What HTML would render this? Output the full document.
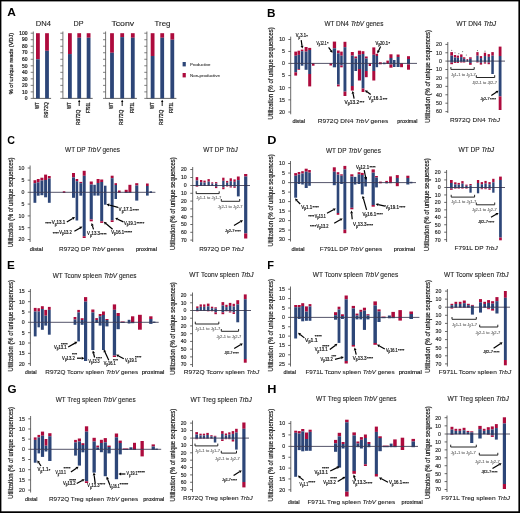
<!DOCTYPE html>
<html><head><meta charset="utf-8"><style>
html,body{margin:0;padding:0;background:#fff;}
svg{display:block;will-change:transform;}
text{font-family:"Liberation Sans", sans-serif;}
</style></head><body>
<svg width="520" height="513" viewBox="0 0 520 513">
<rect x="0" y="0" width="520" height="513" fill="#fff"/>
<rect x="0.00" y="0.00" width="520.00" height="1.40" fill="#000"/>
<rect x="0.00" y="0.00" width="1.40" height="513.00" fill="#000"/>
<rect x="518.40" y="0.00" width="1.60" height="513.00" fill="#000"/>
<rect x="0.00" y="511.30" width="520.00" height="1.70" fill="#000"/>
<text x="0" y="0" font-size="10.2" font-weight="bold" fill="#000" transform="translate(7.3 15.9) scale(1.17 1)">A</text>
<text x="0" y="0" font-size="10.2" font-weight="bold" fill="#000" transform="translate(267.0 16.9) scale(1.15 1)">B</text>
<text x="0" y="0" font-size="10.2" font-weight="bold" fill="#000" transform="translate(7.3 143.7) scale(1.05 1)">C</text>
<text x="0" y="0" font-size="10.2" font-weight="bold" fill="#000" transform="translate(267.2 143.9) scale(1.25 1)">D</text>
<text x="0" y="0" font-size="10.2" font-weight="bold" fill="#000" transform="translate(7.1 268.9) scale(1.15 1)">E</text>
<text x="0" y="0" font-size="10.2" font-weight="bold" fill="#000" transform="translate(267.2 268.9) scale(1.08 1)">F</text>
<text x="0" y="0" font-size="10.2" font-weight="bold" fill="#000" transform="translate(7.6 392.5) scale(1.14 1)">G</text>
<text x="0" y="0" font-size="10.2" font-weight="bold" fill="#000" transform="translate(267.2 392.5) scale(1.25 1)">H</text>
<line x1="33.30" y1="31.50" x2="33.30" y2="98.70" stroke="#666" stroke-width="0.9"/>
<line x1="33.30" y1="98.40" x2="51.10" y2="98.40" stroke="#555" stroke-width="0.9"/>
<line x1="30.70" y1="98.40" x2="33.30" y2="98.40" stroke="#555" stroke-width="0.75"/>
<text x="27.50" y="100.10" font-size="4.9" text-anchor="end" font-weight="normal" fill="#1e1e1e" stroke="#1e1e1e" stroke-width="0.22">0</text>
<line x1="30.70" y1="91.88" x2="33.30" y2="91.88" stroke="#555" stroke-width="0.75"/>
<text x="27.50" y="93.58" font-size="4.9" text-anchor="end" font-weight="normal" fill="#1e1e1e" stroke="#1e1e1e" stroke-width="0.22">10</text>
<line x1="30.70" y1="85.36" x2="33.30" y2="85.36" stroke="#555" stroke-width="0.75"/>
<text x="27.50" y="87.06" font-size="4.9" text-anchor="end" font-weight="normal" fill="#1e1e1e" stroke="#1e1e1e" stroke-width="0.22">20</text>
<line x1="30.70" y1="78.84" x2="33.30" y2="78.84" stroke="#555" stroke-width="0.75"/>
<text x="27.50" y="80.54" font-size="4.9" text-anchor="end" font-weight="normal" fill="#1e1e1e" stroke="#1e1e1e" stroke-width="0.22">30</text>
<line x1="30.70" y1="72.32" x2="33.30" y2="72.32" stroke="#555" stroke-width="0.75"/>
<text x="27.50" y="74.02" font-size="4.9" text-anchor="end" font-weight="normal" fill="#1e1e1e" stroke="#1e1e1e" stroke-width="0.22">40</text>
<line x1="30.70" y1="65.80" x2="33.30" y2="65.80" stroke="#555" stroke-width="0.75"/>
<text x="27.50" y="67.50" font-size="4.9" text-anchor="end" font-weight="normal" fill="#1e1e1e" stroke="#1e1e1e" stroke-width="0.22">50</text>
<line x1="30.70" y1="59.28" x2="33.30" y2="59.28" stroke="#555" stroke-width="0.75"/>
<text x="27.50" y="60.98" font-size="4.9" text-anchor="end" font-weight="normal" fill="#1e1e1e" stroke="#1e1e1e" stroke-width="0.22">60</text>
<line x1="30.70" y1="52.76" x2="33.30" y2="52.76" stroke="#555" stroke-width="0.75"/>
<text x="27.50" y="54.46" font-size="4.9" text-anchor="end" font-weight="normal" fill="#1e1e1e" stroke="#1e1e1e" stroke-width="0.22">70</text>
<line x1="30.70" y1="46.24" x2="33.30" y2="46.24" stroke="#555" stroke-width="0.75"/>
<text x="27.50" y="47.94" font-size="4.9" text-anchor="end" font-weight="normal" fill="#1e1e1e" stroke="#1e1e1e" stroke-width="0.22">80</text>
<line x1="30.70" y1="39.72" x2="33.30" y2="39.72" stroke="#555" stroke-width="0.75"/>
<text x="27.50" y="41.42" font-size="4.9" text-anchor="end" font-weight="normal" fill="#1e1e1e" stroke="#1e1e1e" stroke-width="0.22">90</text>
<line x1="30.70" y1="33.20" x2="33.30" y2="33.20" stroke="#555" stroke-width="0.75"/>
<text x="27.50" y="34.90" font-size="4.9" text-anchor="end" font-weight="normal" fill="#1e1e1e" stroke="#1e1e1e" stroke-width="0.22">100</text>
<rect x="36.00" y="33.20" width="3.80" height="26.08" fill="#ad0b3d"/>
<rect x="36.00" y="59.28" width="3.80" height="39.12" fill="#2d4678"/>
<rect x="45.10" y="33.20" width="3.80" height="17.60" fill="#ad0b3d"/>
<rect x="45.10" y="50.80" width="3.80" height="47.60" fill="#2d4678"/>
<text x="35.70" y="26.10" font-size="6.4" text-anchor="start" font-weight="normal" fill="#1e1e1e" stroke="#1e1e1e" stroke-width="0.1" textLength="15.20" lengthAdjust="spacingAndGlyphs">DN4</text>
<text x="38.90" y="102.30" font-size="4.6" text-anchor="end" font-weight="normal" fill="#1e1e1e" stroke="#1e1e1e" stroke-width="0.22" transform="rotate(-90 38.90 102.30)" textLength="6.70" lengthAdjust="spacingAndGlyphs">WT</text>
<text x="48.00" y="102.30" font-size="4.6" text-anchor="end" font-weight="normal" fill="#1e1e1e" stroke="#1e1e1e" stroke-width="0.22" transform="rotate(-90 48.00 102.30)" textLength="15.50" lengthAdjust="spacingAndGlyphs">R972Q</text>
<line x1="62.90" y1="31.50" x2="62.90" y2="98.70" stroke="#666" stroke-width="0.9"/>
<line x1="62.90" y1="98.40" x2="92.70" y2="98.40" stroke="#555" stroke-width="0.9"/>
<line x1="60.30" y1="98.40" x2="62.90" y2="98.40" stroke="#555" stroke-width="0.75"/>
<line x1="60.30" y1="91.88" x2="62.90" y2="91.88" stroke="#555" stroke-width="0.75"/>
<line x1="60.30" y1="85.36" x2="62.90" y2="85.36" stroke="#555" stroke-width="0.75"/>
<line x1="60.30" y1="78.84" x2="62.90" y2="78.84" stroke="#555" stroke-width="0.75"/>
<line x1="60.30" y1="72.32" x2="62.90" y2="72.32" stroke="#555" stroke-width="0.75"/>
<line x1="60.30" y1="65.80" x2="62.90" y2="65.80" stroke="#555" stroke-width="0.75"/>
<line x1="60.30" y1="59.28" x2="62.90" y2="59.28" stroke="#555" stroke-width="0.75"/>
<line x1="60.30" y1="52.76" x2="62.90" y2="52.76" stroke="#555" stroke-width="0.75"/>
<line x1="60.30" y1="46.24" x2="62.90" y2="46.24" stroke="#555" stroke-width="0.75"/>
<line x1="60.30" y1="39.72" x2="62.90" y2="39.72" stroke="#555" stroke-width="0.75"/>
<line x1="60.30" y1="33.20" x2="62.90" y2="33.20" stroke="#555" stroke-width="0.75"/>
<rect x="68.00" y="33.20" width="3.80" height="20.86" fill="#ad0b3d"/>
<rect x="68.00" y="54.06" width="3.80" height="44.34" fill="#2d4678"/>
<rect x="77.30" y="33.20" width="3.80" height="4.56" fill="#ad0b3d"/>
<rect x="77.30" y="37.76" width="3.80" height="60.64" fill="#2d4678"/>
<rect x="86.70" y="33.20" width="3.80" height="4.56" fill="#ad0b3d"/>
<rect x="86.70" y="37.76" width="3.80" height="60.64" fill="#2d4678"/>
<text x="73.50" y="26.10" font-size="6.4" text-anchor="start" font-weight="normal" fill="#1e1e1e" stroke="#1e1e1e" stroke-width="0.1" textLength="10.00" lengthAdjust="spacingAndGlyphs">DP</text>
<text x="70.90" y="102.30" font-size="4.6" text-anchor="end" font-weight="normal" fill="#1e1e1e" stroke="#1e1e1e" stroke-width="0.22" transform="rotate(-90 70.90 102.30)" textLength="6.70" lengthAdjust="spacingAndGlyphs">WT</text>
<text x="80.20" y="109.60" font-size="4.6" text-anchor="end" font-weight="normal" fill="#1e1e1e" stroke="#1e1e1e" stroke-width="0.22" transform="rotate(-90 80.20 109.60)" textLength="15.50" lengthAdjust="spacingAndGlyphs">R972Q</text>
<text x="89.60" y="102.30" font-size="4.6" text-anchor="end" font-weight="normal" fill="#1e1e1e" stroke="#1e1e1e" stroke-width="0.22" transform="rotate(-90 89.60 102.30)" textLength="10.80" lengthAdjust="spacingAndGlyphs">F791L</text>
<line x1="79.20" y1="106.00" x2="79.20" y2="101.91" stroke="#000" stroke-width="0.9"/>
<path d="M79.20 99.70 L80.39 101.91 L78.01 101.91 Z" fill="#000"/>
<line x1="105.60" y1="31.50" x2="105.60" y2="98.70" stroke="#666" stroke-width="0.9"/>
<line x1="105.60" y1="98.40" x2="136.90" y2="98.40" stroke="#555" stroke-width="0.9"/>
<line x1="103.00" y1="98.40" x2="105.60" y2="98.40" stroke="#555" stroke-width="0.75"/>
<line x1="103.00" y1="91.88" x2="105.60" y2="91.88" stroke="#555" stroke-width="0.75"/>
<line x1="103.00" y1="85.36" x2="105.60" y2="85.36" stroke="#555" stroke-width="0.75"/>
<line x1="103.00" y1="78.84" x2="105.60" y2="78.84" stroke="#555" stroke-width="0.75"/>
<line x1="103.00" y1="72.32" x2="105.60" y2="72.32" stroke="#555" stroke-width="0.75"/>
<line x1="103.00" y1="65.80" x2="105.60" y2="65.80" stroke="#555" stroke-width="0.75"/>
<line x1="103.00" y1="59.28" x2="105.60" y2="59.28" stroke="#555" stroke-width="0.75"/>
<line x1="103.00" y1="52.76" x2="105.60" y2="52.76" stroke="#555" stroke-width="0.75"/>
<line x1="103.00" y1="46.24" x2="105.60" y2="46.24" stroke="#555" stroke-width="0.75"/>
<line x1="103.00" y1="39.72" x2="105.60" y2="39.72" stroke="#555" stroke-width="0.75"/>
<line x1="103.00" y1="33.20" x2="105.60" y2="33.20" stroke="#555" stroke-width="0.75"/>
<rect x="110.10" y="33.20" width="3.80" height="19.56" fill="#ad0b3d"/>
<rect x="110.10" y="52.76" width="3.80" height="45.64" fill="#2d4678"/>
<rect x="120.30" y="33.20" width="3.80" height="3.91" fill="#ad0b3d"/>
<rect x="120.30" y="37.11" width="3.80" height="61.29" fill="#2d4678"/>
<rect x="130.90" y="33.20" width="3.80" height="4.56" fill="#ad0b3d"/>
<rect x="130.90" y="37.76" width="3.80" height="60.64" fill="#2d4678"/>
<text x="111.40" y="26.10" font-size="6.4" text-anchor="start" font-weight="normal" fill="#1e1e1e" stroke="#1e1e1e" stroke-width="0.1" textLength="22.80" lengthAdjust="spacingAndGlyphs">Tconv</text>
<text x="113.00" y="102.30" font-size="4.6" text-anchor="end" font-weight="normal" fill="#1e1e1e" stroke="#1e1e1e" stroke-width="0.22" transform="rotate(-90 113.00 102.30)" textLength="6.70" lengthAdjust="spacingAndGlyphs">WT</text>
<text x="123.20" y="109.60" font-size="4.6" text-anchor="end" font-weight="normal" fill="#1e1e1e" stroke="#1e1e1e" stroke-width="0.22" transform="rotate(-90 123.20 109.60)" textLength="15.50" lengthAdjust="spacingAndGlyphs">R972Q</text>
<text x="133.80" y="102.30" font-size="4.6" text-anchor="end" font-weight="normal" fill="#1e1e1e" stroke="#1e1e1e" stroke-width="0.22" transform="rotate(-90 133.80 102.30)" textLength="10.80" lengthAdjust="spacingAndGlyphs">F971L</text>
<line x1="122.20" y1="106.00" x2="122.20" y2="101.91" stroke="#000" stroke-width="0.9"/>
<path d="M122.20 99.70 L123.39 101.91 L121.01 101.91 Z" fill="#000"/>
<line x1="146.90" y1="31.50" x2="146.90" y2="98.70" stroke="#666" stroke-width="0.9"/>
<line x1="146.90" y1="98.40" x2="176.40" y2="98.40" stroke="#555" stroke-width="0.9"/>
<line x1="144.30" y1="98.40" x2="146.90" y2="98.40" stroke="#555" stroke-width="0.75"/>
<line x1="144.30" y1="91.88" x2="146.90" y2="91.88" stroke="#555" stroke-width="0.75"/>
<line x1="144.30" y1="85.36" x2="146.90" y2="85.36" stroke="#555" stroke-width="0.75"/>
<line x1="144.30" y1="78.84" x2="146.90" y2="78.84" stroke="#555" stroke-width="0.75"/>
<line x1="144.30" y1="72.32" x2="146.90" y2="72.32" stroke="#555" stroke-width="0.75"/>
<line x1="144.30" y1="65.80" x2="146.90" y2="65.80" stroke="#555" stroke-width="0.75"/>
<line x1="144.30" y1="59.28" x2="146.90" y2="59.28" stroke="#555" stroke-width="0.75"/>
<line x1="144.30" y1="52.76" x2="146.90" y2="52.76" stroke="#555" stroke-width="0.75"/>
<line x1="144.30" y1="46.24" x2="146.90" y2="46.24" stroke="#555" stroke-width="0.75"/>
<line x1="144.30" y1="39.72" x2="146.90" y2="39.72" stroke="#555" stroke-width="0.75"/>
<line x1="144.30" y1="33.20" x2="146.90" y2="33.20" stroke="#555" stroke-width="0.75"/>
<rect x="150.70" y="33.20" width="3.80" height="22.82" fill="#ad0b3d"/>
<rect x="150.70" y="56.02" width="3.80" height="42.38" fill="#2d4678"/>
<rect x="160.30" y="33.20" width="3.80" height="4.56" fill="#ad0b3d"/>
<rect x="160.30" y="37.76" width="3.80" height="60.64" fill="#2d4678"/>
<rect x="170.40" y="33.20" width="3.80" height="6.52" fill="#ad0b3d"/>
<rect x="170.40" y="39.72" width="3.80" height="58.68" fill="#2d4678"/>
<text x="154.50" y="26.10" font-size="6.4" text-anchor="start" font-weight="normal" fill="#1e1e1e" stroke="#1e1e1e" stroke-width="0.1" textLength="15.90" lengthAdjust="spacingAndGlyphs">Treg</text>
<text x="153.60" y="102.30" font-size="4.6" text-anchor="end" font-weight="normal" fill="#1e1e1e" stroke="#1e1e1e" stroke-width="0.22" transform="rotate(-90 153.60 102.30)" textLength="6.70" lengthAdjust="spacingAndGlyphs">WT</text>
<text x="163.20" y="109.60" font-size="4.6" text-anchor="end" font-weight="normal" fill="#1e1e1e" stroke="#1e1e1e" stroke-width="0.22" transform="rotate(-90 163.20 109.60)" textLength="15.50" lengthAdjust="spacingAndGlyphs">R972Q</text>
<text x="173.30" y="102.30" font-size="4.6" text-anchor="end" font-weight="normal" fill="#1e1e1e" stroke="#1e1e1e" stroke-width="0.22" transform="rotate(-90 173.30 102.30)" textLength="10.80" lengthAdjust="spacingAndGlyphs">F971L</text>
<line x1="162.20" y1="106.00" x2="162.20" y2="101.91" stroke="#000" stroke-width="0.9"/>
<path d="M162.20 99.70 L163.39 101.91 L161.01 101.91 Z" fill="#000"/>
<text x="13.00" y="63.50" font-size="5.4" text-anchor="middle" font-weight="normal" fill="#1e1e1e" stroke="#1e1e1e" stroke-width="0.22" transform="rotate(-90 13.00 63.50)" textLength="61.50" lengthAdjust="spacingAndGlyphs">% of unique reads (VDJ)</text>
<rect x="182.60" y="62.00" width="3.20" height="4.40" fill="#2d4678"/>
<text x="190.00" y="65.80" font-size="4.4" text-anchor="start" font-weight="normal" fill="#333" stroke="#333" stroke-width="0.22" textLength="20.50" lengthAdjust="spacingAndGlyphs" stroke-opacity="0.4">Productive</text>
<rect x="182.60" y="73.00" width="3.20" height="4.40" fill="#ad0b3d"/>
<text x="190.00" y="76.80" font-size="4.4" text-anchor="start" font-weight="normal" fill="#333" stroke="#333" stroke-width="0.22" textLength="30.00" lengthAdjust="spacingAndGlyphs" stroke-opacity="0.4">Non-productive</text>
<rect x="294.30" y="51.60" width="2.80" height="4.10" fill="#ad0b3d"/>
<rect x="294.30" y="55.70" width="2.80" height="7.70" fill="#2d4678"/>
<rect x="294.30" y="63.40" width="2.80" height="8.90" fill="#2d4678"/>
<rect x="294.30" y="72.30" width="2.80" height="3.30" fill="#ad0b3d"/>
<rect x="297.50" y="50.70" width="2.60" height="4.20" fill="#ad0b3d"/>
<rect x="297.50" y="54.90" width="2.60" height="8.50" fill="#2d4678"/>
<rect x="297.50" y="63.40" width="2.60" height="5.60" fill="#2d4678"/>
<rect x="297.50" y="69.00" width="2.60" height="0.80" fill="#ad0b3d"/>
<rect x="300.80" y="49.60" width="2.60" height="1.60" fill="#ad0b3d"/>
<rect x="300.80" y="51.20" width="2.60" height="12.20" fill="#2d4678"/>
<rect x="300.80" y="63.40" width="2.60" height="2.30" fill="#2d4678"/>
<rect x="304.60" y="47.00" width="3.00" height="4.60" fill="#ad0b3d"/>
<rect x="304.60" y="51.60" width="3.00" height="11.80" fill="#2d4678"/>
<rect x="304.60" y="63.40" width="3.00" height="6.40" fill="#2d4678"/>
<rect x="308.20" y="47.90" width="3.00" height="2.10" fill="#ad0b3d"/>
<rect x="308.20" y="50.00" width="3.00" height="13.40" fill="#2d4678"/>
<rect x="308.20" y="63.40" width="3.00" height="10.60" fill="#2d4678"/>
<rect x="308.20" y="74.00" width="3.00" height="12.40" fill="#ad0b3d"/>
<rect x="312.00" y="63.40" width="2.50" height="2.30" fill="#ad0b3d"/>
<rect x="329.50" y="63.40" width="2.50" height="2.10" fill="#ad0b3d"/>
<rect x="332.80" y="41.60" width="3.30" height="6.70" fill="#ad0b3d"/>
<rect x="332.80" y="48.30" width="3.30" height="15.10" fill="#2d4678"/>
<rect x="332.80" y="63.40" width="3.30" height="3.90" fill="#2d4678"/>
<rect x="337.00" y="50.50" width="2.70" height="2.80" fill="#ad0b3d"/>
<rect x="337.00" y="53.30" width="2.70" height="10.10" fill="#2d4678"/>
<rect x="337.00" y="63.40" width="2.70" height="21.20" fill="#2d4678"/>
<rect x="337.00" y="84.60" width="2.70" height="1.80" fill="#ad0b3d"/>
<rect x="340.20" y="51.60" width="2.50" height="4.10" fill="#ad0b3d"/>
<rect x="340.20" y="55.70" width="2.50" height="7.70" fill="#2d4678"/>
<rect x="340.20" y="63.40" width="2.50" height="2.10" fill="#2d4678"/>
<rect x="340.20" y="65.50" width="2.50" height="1.80" fill="#ad0b3d"/>
<rect x="343.50" y="41.80" width="2.90" height="5.40" fill="#ad0b3d"/>
<rect x="343.50" y="47.20" width="2.90" height="16.20" fill="#2d4678"/>
<rect x="343.50" y="63.40" width="2.90" height="28.20" fill="#2d4678"/>
<rect x="343.50" y="91.60" width="2.90" height="4.40" fill="#ad0b3d"/>
<rect x="350.80" y="52.00" width="3.00" height="3.60" fill="#ad0b3d"/>
<rect x="350.80" y="55.60" width="3.00" height="7.80" fill="#2d4678"/>
<rect x="350.80" y="63.40" width="3.00" height="22.60" fill="#2d4678"/>
<rect x="350.80" y="86.00" width="3.00" height="4.60" fill="#ad0b3d"/>
<rect x="354.40" y="56.50" width="2.70" height="1.90" fill="#ad0b3d"/>
<rect x="354.40" y="58.40" width="2.70" height="5.00" fill="#2d4678"/>
<rect x="354.40" y="63.40" width="2.70" height="7.60" fill="#2d4678"/>
<rect x="357.90" y="50.70" width="3.10" height="4.10" fill="#ad0b3d"/>
<rect x="357.90" y="54.80" width="3.10" height="8.60" fill="#2d4678"/>
<rect x="357.90" y="63.40" width="3.10" height="5.60" fill="#2d4678"/>
<rect x="357.90" y="69.00" width="3.10" height="11.50" fill="#ad0b3d"/>
<rect x="361.60" y="51.20" width="2.80" height="2.80" fill="#ad0b3d"/>
<rect x="361.60" y="54.00" width="2.80" height="9.40" fill="#2d4678"/>
<rect x="361.60" y="63.40" width="2.80" height="25.10" fill="#2d4678"/>
<rect x="361.60" y="88.50" width="2.80" height="3.50" fill="#ad0b3d"/>
<rect x="364.90" y="56.50" width="2.80" height="2.00" fill="#ad0b3d"/>
<rect x="364.90" y="58.50" width="2.80" height="4.90" fill="#2d4678"/>
<rect x="364.90" y="63.40" width="2.80" height="7.60" fill="#2d4678"/>
<rect x="364.90" y="71.00" width="2.80" height="6.20" fill="#ad0b3d"/>
<rect x="368.70" y="63.40" width="2.30" height="2.60" fill="#ad0b3d"/>
<rect x="372.30" y="47.40" width="3.00" height="7.40" fill="#ad0b3d"/>
<rect x="372.30" y="54.80" width="3.00" height="8.60" fill="#2d4678"/>
<rect x="372.30" y="63.40" width="3.00" height="7.60" fill="#2d4678"/>
<rect x="372.30" y="71.00" width="3.00" height="9.50" fill="#ad0b3d"/>
<rect x="375.60" y="53.80" width="2.50" height="2.20" fill="#ad0b3d"/>
<rect x="375.60" y="56.00" width="2.50" height="7.40" fill="#2d4678"/>
<rect x="375.60" y="63.40" width="2.50" height="3.80" fill="#2d4678"/>
<rect x="379.00" y="62.30" width="2.80" height="1.10" fill="#ad0b3d"/>
<rect x="379.00" y="63.40" width="2.80" height="0.90" fill="#ad0b3d"/>
<rect x="383.00" y="62.60" width="2.60" height="0.80" fill="#2d4678"/>
<rect x="383.00" y="63.40" width="2.60" height="0.80" fill="#2d4678"/>
<rect x="386.40" y="60.60" width="2.50" height="2.80" fill="#ad0b3d"/>
<rect x="386.40" y="63.40" width="2.50" height="0.60" fill="#ad0b3d"/>
<rect x="389.40" y="54.30" width="3.10" height="3.70" fill="#ad0b3d"/>
<rect x="389.40" y="58.00" width="3.10" height="5.40" fill="#2d4678"/>
<rect x="389.40" y="63.40" width="3.10" height="1.10" fill="#2d4678"/>
<rect x="389.40" y="64.50" width="3.10" height="3.20" fill="#ad0b3d"/>
<rect x="393.00" y="60.00" width="2.50" height="3.40" fill="#2d4678"/>
<rect x="393.00" y="63.40" width="2.50" height="3.60" fill="#2d4678"/>
<rect x="396.60" y="54.50" width="3.00" height="2.50" fill="#ad0b3d"/>
<rect x="396.60" y="57.00" width="3.00" height="6.40" fill="#2d4678"/>
<rect x="396.60" y="63.40" width="3.00" height="3.60" fill="#2d4678"/>
<rect x="400.10" y="63.40" width="2.90" height="3.80" fill="#ad0b3d"/>
<rect x="407.00" y="56.20" width="3.00" height="2.80" fill="#ad0b3d"/>
<rect x="407.00" y="59.00" width="3.00" height="4.40" fill="#2d4678"/>
<rect x="407.00" y="63.40" width="3.00" height="1.10" fill="#2d4678"/>
<rect x="407.00" y="64.50" width="3.00" height="5.20" fill="#ad0b3d"/>
<line x1="290.70" y1="36.60" x2="290.70" y2="114.30" stroke="#6a6a6a" stroke-width="1.0"/>
<line x1="288.30" y1="63.40" x2="290.70" y2="63.40" stroke="#444" stroke-width="0.8"/>
<text x="285.00" y="65.27" font-size="5.2" text-anchor="end" font-weight="normal" fill="#1e1e1e" stroke="#1e1e1e" stroke-width="0.22" stroke-opacity="0.7">0</text>
<line x1="288.30" y1="51.45" x2="290.70" y2="51.45" stroke="#444" stroke-width="0.8"/>
<text x="285.00" y="53.32" font-size="5.2" text-anchor="end" font-weight="normal" fill="#1e1e1e" stroke="#1e1e1e" stroke-width="0.22" stroke-opacity="0.7">5</text>
<line x1="288.30" y1="39.50" x2="290.70" y2="39.50" stroke="#444" stroke-width="0.8"/>
<text x="285.00" y="41.37" font-size="5.2" text-anchor="end" font-weight="normal" fill="#1e1e1e" stroke="#1e1e1e" stroke-width="0.22" stroke-opacity="0.7">10</text>
<line x1="288.30" y1="75.55" x2="290.70" y2="75.55" stroke="#444" stroke-width="0.8"/>
<text x="285.00" y="77.42" font-size="5.2" text-anchor="end" font-weight="normal" fill="#1e1e1e" stroke="#1e1e1e" stroke-width="0.22" stroke-opacity="0.7">5</text>
<line x1="288.30" y1="87.70" x2="290.70" y2="87.70" stroke="#444" stroke-width="0.8"/>
<text x="285.00" y="89.57" font-size="5.2" text-anchor="end" font-weight="normal" fill="#1e1e1e" stroke="#1e1e1e" stroke-width="0.22" stroke-opacity="0.7">10</text>
<line x1="288.30" y1="99.85" x2="290.70" y2="99.85" stroke="#444" stroke-width="0.8"/>
<text x="285.00" y="101.72" font-size="5.2" text-anchor="end" font-weight="normal" fill="#1e1e1e" stroke="#1e1e1e" stroke-width="0.22" stroke-opacity="0.7">15</text>
<line x1="288.30" y1="112.00" x2="290.70" y2="112.00" stroke="#444" stroke-width="0.8"/>
<text x="285.00" y="113.87" font-size="5.2" text-anchor="end" font-weight="normal" fill="#1e1e1e" stroke="#1e1e1e" stroke-width="0.22" stroke-opacity="0.7">20</text>
<line x1="290.70" y1="63.40" x2="417.00" y2="63.40" stroke="#2a2a44" stroke-width="0.8"/>
<text x="273.40" y="73.40" font-size="6.4" text-anchor="middle" font-weight="normal" fill="#1e1e1e" stroke="#1e1e1e" stroke-width="0.1" transform="rotate(-90 273.40 73.40)" textLength="92.20" lengthAdjust="spacingAndGlyphs" style="stroke-width:0.2px">Utilization (% of unique sequences)</text>
<text x="324.40" y="26.00" font-size="6.3" text-anchor="start" font-weight="normal" fill="#1e1e1e" stroke="#1e1e1e" stroke-width="0.1" textLength="59.00" lengthAdjust="spacingAndGlyphs">WT DN4 <tspan font-style="italic">TrbV</tspan> genes</text>
<text x="292.40" y="122.60" font-size="4.6" text-anchor="start" font-weight="normal" fill="#1e1e1e" stroke="#1e1e1e" stroke-width="0.22" textLength="12.70" lengthAdjust="spacingAndGlyphs" stroke-opacity="0.7">distal</text>
<text x="317.80" y="122.60" font-size="6.2" text-anchor="start" font-weight="normal" fill="#1e1e1e" stroke="#1e1e1e" stroke-width="0.1" textLength="70.60" lengthAdjust="spacingAndGlyphs">R972Q DN4 <tspan font-style="italic">TrbV</tspan> genes</text>
<text x="397.20" y="122.60" font-size="4.6" text-anchor="start" font-weight="normal" fill="#1e1e1e" stroke="#1e1e1e" stroke-width="0.22" textLength="20.30" lengthAdjust="spacingAndGlyphs" stroke-opacity="0.7">proximal</text>
<rect x="33.50" y="180.20" width="2.80" height="3.00" fill="#ad0b3d"/>
<rect x="33.50" y="183.20" width="2.80" height="9.10" fill="#2d4678"/>
<rect x="33.50" y="192.30" width="2.80" height="10.50" fill="#2d4678"/>
<rect x="36.80" y="179.00" width="2.80" height="3.40" fill="#ad0b3d"/>
<rect x="36.80" y="182.40" width="2.80" height="9.90" fill="#2d4678"/>
<rect x="36.80" y="192.30" width="2.80" height="3.40" fill="#2d4678"/>
<rect x="40.40" y="177.70" width="3.00" height="2.80" fill="#ad0b3d"/>
<rect x="40.40" y="180.50" width="3.00" height="11.80" fill="#2d4678"/>
<rect x="40.40" y="192.30" width="3.00" height="2.90" fill="#2d4678"/>
<rect x="44.10" y="174.60" width="3.00" height="5.40" fill="#ad0b3d"/>
<rect x="44.10" y="180.00" width="3.00" height="12.30" fill="#2d4678"/>
<rect x="44.10" y="192.30" width="3.00" height="5.00" fill="#2d4678"/>
<rect x="47.90" y="176.00" width="2.80" height="2.50" fill="#ad0b3d"/>
<rect x="47.90" y="178.50" width="2.80" height="13.80" fill="#2d4678"/>
<rect x="47.90" y="192.30" width="2.80" height="10.50" fill="#2d4678"/>
<rect x="62.80" y="191.30" width="2.50" height="1.00" fill="#ad0b3d"/>
<rect x="62.80" y="192.30" width="2.50" height="0.70" fill="#ad0b3d"/>
<rect x="72.00" y="173.00" width="3.00" height="4.40" fill="#ad0b3d"/>
<rect x="72.00" y="177.40" width="3.00" height="14.90" fill="#2d4678"/>
<rect x="72.00" y="192.30" width="3.00" height="5.50" fill="#2d4678"/>
<rect x="75.60" y="179.00" width="2.60" height="2.20" fill="#ad0b3d"/>
<rect x="75.60" y="181.20" width="2.60" height="11.10" fill="#2d4678"/>
<rect x="75.60" y="192.30" width="2.60" height="28.20" fill="#2d4678"/>
<rect x="79.40" y="181.90" width="2.80" height="1.30" fill="#ad0b3d"/>
<rect x="79.40" y="183.20" width="2.80" height="9.10" fill="#2d4678"/>
<rect x="79.40" y="192.30" width="2.80" height="3.40" fill="#2d4678"/>
<rect x="82.70" y="170.80" width="3.00" height="5.00" fill="#ad0b3d"/>
<rect x="82.70" y="175.80" width="3.00" height="16.50" fill="#2d4678"/>
<rect x="82.70" y="192.30" width="3.00" height="44.00" fill="#2d4678"/>
<rect x="82.70" y="236.30" width="3.00" height="1.70" fill="#ad0b3d"/>
<rect x="89.70" y="181.50" width="3.10" height="3.00" fill="#ad0b3d"/>
<rect x="89.70" y="184.50" width="3.10" height="7.80" fill="#2d4678"/>
<rect x="89.70" y="192.30" width="3.10" height="27.20" fill="#2d4678"/>
<rect x="89.70" y="219.50" width="3.10" height="1.80" fill="#ad0b3d"/>
<rect x="93.30" y="184.80" width="2.50" height="7.50" fill="#2d4678"/>
<rect x="93.30" y="192.30" width="2.50" height="3.30" fill="#2d4678"/>
<rect x="96.60" y="179.00" width="3.00" height="4.00" fill="#ad0b3d"/>
<rect x="96.60" y="183.00" width="3.00" height="9.30" fill="#2d4678"/>
<rect x="96.60" y="192.30" width="3.00" height="3.30" fill="#2d4678"/>
<rect x="100.20" y="179.50" width="3.00" height="2.50" fill="#ad0b3d"/>
<rect x="100.20" y="182.00" width="3.00" height="10.30" fill="#2d4678"/>
<rect x="100.20" y="192.30" width="3.00" height="29.00" fill="#2d4678"/>
<rect x="100.20" y="221.30" width="3.00" height="1.60" fill="#ad0b3d"/>
<rect x="104.00" y="185.70" width="2.50" height="6.60" fill="#2d4678"/>
<rect x="104.00" y="192.30" width="2.50" height="12.40" fill="#2d4678"/>
<rect x="110.70" y="175.70" width="2.90" height="2.50" fill="#ad0b3d"/>
<rect x="110.70" y="178.20" width="2.90" height="14.10" fill="#2d4678"/>
<rect x="110.70" y="192.30" width="2.90" height="28.00" fill="#2d4678"/>
<rect x="110.70" y="220.30" width="2.90" height="1.70" fill="#ad0b3d"/>
<rect x="114.50" y="183.20" width="2.50" height="1.80" fill="#ad0b3d"/>
<rect x="114.50" y="185.00" width="2.50" height="7.30" fill="#2d4678"/>
<rect x="114.50" y="192.30" width="2.50" height="6.70" fill="#2d4678"/>
<rect x="118.00" y="190.50" width="2.60" height="1.80" fill="#ad0b3d"/>
<rect x="118.00" y="192.30" width="2.60" height="0.50" fill="#ad0b3d"/>
<rect x="124.70" y="189.80" width="3.00" height="2.50" fill="#ad0b3d"/>
<rect x="124.70" y="192.30" width="3.00" height="0.70" fill="#2d4678"/>
<rect x="128.40" y="184.80" width="3.00" height="7.50" fill="#ad0b3d"/>
<rect x="128.40" y="192.30" width="3.00" height="0.50" fill="#2d4678"/>
<rect x="135.20" y="183.20" width="3.10" height="2.30" fill="#ad0b3d"/>
<rect x="135.20" y="185.50" width="3.10" height="6.80" fill="#2d4678"/>
<rect x="135.20" y="192.30" width="3.10" height="8.30" fill="#2d4678"/>
<rect x="146.00" y="183.50" width="2.70" height="2.50" fill="#ad0b3d"/>
<rect x="146.00" y="186.00" width="2.70" height="6.30" fill="#2d4678"/>
<rect x="146.00" y="192.30" width="2.70" height="3.30" fill="#2d4678"/>
<rect x="149.60" y="191.30" width="2.40" height="1.00" fill="#2d4678"/>
<rect x="149.60" y="192.30" width="2.40" height="0.70" fill="#2d4678"/>
<line x1="30.10" y1="165.50" x2="30.10" y2="242.00" stroke="#6a6a6a" stroke-width="1.0"/>
<line x1="27.70" y1="192.30" x2="30.10" y2="192.30" stroke="#444" stroke-width="0.8"/>
<text x="24.40" y="194.17" font-size="5.2" text-anchor="end" font-weight="normal" fill="#1e1e1e" stroke="#1e1e1e" stroke-width="0.22" stroke-opacity="0.7">0</text>
<line x1="27.70" y1="180.15" x2="30.10" y2="180.15" stroke="#444" stroke-width="0.8"/>
<text x="24.40" y="182.02" font-size="5.2" text-anchor="end" font-weight="normal" fill="#1e1e1e" stroke="#1e1e1e" stroke-width="0.22" stroke-opacity="0.7">5</text>
<line x1="27.70" y1="168.00" x2="30.10" y2="168.00" stroke="#444" stroke-width="0.8"/>
<text x="24.40" y="169.87" font-size="5.2" text-anchor="end" font-weight="normal" fill="#1e1e1e" stroke="#1e1e1e" stroke-width="0.22" stroke-opacity="0.7">10</text>
<line x1="27.70" y1="204.10" x2="30.10" y2="204.10" stroke="#444" stroke-width="0.8"/>
<text x="24.40" y="205.97" font-size="5.2" text-anchor="end" font-weight="normal" fill="#1e1e1e" stroke="#1e1e1e" stroke-width="0.22" stroke-opacity="0.7">5</text>
<line x1="27.70" y1="215.90" x2="30.10" y2="215.90" stroke="#444" stroke-width="0.8"/>
<text x="24.40" y="217.77" font-size="5.2" text-anchor="end" font-weight="normal" fill="#1e1e1e" stroke="#1e1e1e" stroke-width="0.22" stroke-opacity="0.7">10</text>
<line x1="27.70" y1="227.70" x2="30.10" y2="227.70" stroke="#444" stroke-width="0.8"/>
<text x="24.40" y="229.57" font-size="5.2" text-anchor="end" font-weight="normal" fill="#1e1e1e" stroke="#1e1e1e" stroke-width="0.22" stroke-opacity="0.7">15</text>
<line x1="27.70" y1="239.50" x2="30.10" y2="239.50" stroke="#444" stroke-width="0.8"/>
<text x="24.40" y="241.37" font-size="5.2" text-anchor="end" font-weight="normal" fill="#1e1e1e" stroke="#1e1e1e" stroke-width="0.22" stroke-opacity="0.7">20</text>
<line x1="30.10" y1="192.30" x2="155.40" y2="192.30" stroke="#2a2a44" stroke-width="0.8"/>
<text x="12.80" y="202.40" font-size="6.4" text-anchor="middle" font-weight="normal" fill="#1e1e1e" stroke="#1e1e1e" stroke-width="0.1" transform="rotate(-90 12.80 202.40)" textLength="89.80" lengthAdjust="spacingAndGlyphs" style="stroke-width:0.2px">Utilization (% of unique sequences)</text>
<text x="65.10" y="152.10" font-size="6.3" text-anchor="start" font-weight="normal" fill="#1e1e1e" stroke="#1e1e1e" stroke-width="0.1" textLength="54.80" lengthAdjust="spacingAndGlyphs">WT DP <tspan font-style="italic">TrbV</tspan> genes</text>
<text x="29.80" y="250.80" font-size="4.6" text-anchor="start" font-weight="normal" fill="#1e1e1e" stroke="#1e1e1e" stroke-width="0.22" textLength="13.10" lengthAdjust="spacingAndGlyphs" stroke-opacity="0.7">distal</text>
<text x="59.00" y="250.80" font-size="6.2" text-anchor="start" font-weight="normal" fill="#1e1e1e" stroke="#1e1e1e" stroke-width="0.1" textLength="65.30" lengthAdjust="spacingAndGlyphs">R972Q DP <tspan font-style="italic">TrbV</tspan> genes</text>
<text x="135.90" y="250.80" font-size="4.6" text-anchor="start" font-weight="normal" fill="#1e1e1e" stroke="#1e1e1e" stroke-width="0.22" textLength="21.00" lengthAdjust="spacingAndGlyphs" stroke-opacity="0.7">proximal</text>
<rect x="294.20" y="173.10" width="2.90" height="2.60" fill="#ad0b3d"/>
<rect x="294.20" y="175.70" width="2.90" height="6.90" fill="#2d4678"/>
<rect x="294.20" y="182.60" width="2.90" height="15.10" fill="#2d4678"/>
<rect x="297.70" y="172.00" width="2.60" height="2.50" fill="#ad0b3d"/>
<rect x="297.70" y="174.50" width="2.60" height="8.10" fill="#2d4678"/>
<rect x="297.70" y="182.60" width="2.60" height="1.40" fill="#2d4678"/>
<rect x="301.20" y="171.20" width="2.60" height="2.30" fill="#ad0b3d"/>
<rect x="301.20" y="173.50" width="2.60" height="9.10" fill="#2d4678"/>
<rect x="301.20" y="182.60" width="2.60" height="1.90" fill="#2d4678"/>
<rect x="304.70" y="168.70" width="3.00" height="3.00" fill="#ad0b3d"/>
<rect x="304.70" y="171.70" width="3.00" height="10.90" fill="#2d4678"/>
<rect x="304.70" y="182.60" width="3.00" height="5.40" fill="#2d4678"/>
<rect x="308.20" y="170.00" width="2.60" height="2.60" fill="#ad0b3d"/>
<rect x="308.20" y="172.60" width="2.60" height="10.00" fill="#2d4678"/>
<rect x="308.20" y="182.60" width="2.60" height="3.20" fill="#2d4678"/>
<rect x="332.80" y="167.30" width="3.00" height="4.40" fill="#ad0b3d"/>
<rect x="332.80" y="171.70" width="3.00" height="10.90" fill="#2d4678"/>
<rect x="332.80" y="182.60" width="3.00" height="2.60" fill="#2d4678"/>
<rect x="336.70" y="172.20" width="2.60" height="2.40" fill="#ad0b3d"/>
<rect x="336.70" y="174.60" width="2.60" height="8.00" fill="#2d4678"/>
<rect x="336.70" y="182.60" width="2.60" height="30.40" fill="#2d4678"/>
<rect x="336.70" y="213.00" width="2.60" height="1.80" fill="#ad0b3d"/>
<rect x="340.20" y="174.30" width="2.60" height="1.40" fill="#ad0b3d"/>
<rect x="340.20" y="175.70" width="2.60" height="6.90" fill="#2d4678"/>
<rect x="340.20" y="182.60" width="2.60" height="1.40" fill="#2d4678"/>
<rect x="343.40" y="165.90" width="2.90" height="3.50" fill="#ad0b3d"/>
<rect x="343.40" y="169.40" width="2.90" height="13.20" fill="#2d4678"/>
<rect x="343.40" y="182.60" width="2.90" height="47.10" fill="#2d4678"/>
<rect x="343.40" y="229.70" width="2.90" height="3.50" fill="#ad0b3d"/>
<rect x="350.30" y="174.30" width="3.10" height="2.20" fill="#ad0b3d"/>
<rect x="350.30" y="176.50" width="3.10" height="6.10" fill="#2d4678"/>
<rect x="350.30" y="182.60" width="3.10" height="25.20" fill="#2d4678"/>
<rect x="350.30" y="207.80" width="3.10" height="1.50" fill="#ad0b3d"/>
<rect x="353.80" y="176.90" width="2.60" height="5.70" fill="#2d4678"/>
<rect x="353.80" y="182.60" width="2.60" height="1.90" fill="#2d4678"/>
<rect x="357.60" y="172.20" width="2.80" height="2.10" fill="#ad0b3d"/>
<rect x="357.60" y="174.30" width="2.80" height="8.30" fill="#2d4678"/>
<rect x="357.60" y="182.60" width="2.80" height="1.40" fill="#2d4678"/>
<rect x="360.80" y="172.90" width="2.90" height="2.10" fill="#ad0b3d"/>
<rect x="360.80" y="175.00" width="2.90" height="7.60" fill="#2d4678"/>
<rect x="360.80" y="182.60" width="2.90" height="11.80" fill="#2d4678"/>
<rect x="364.30" y="176.90" width="2.60" height="5.70" fill="#2d4678"/>
<rect x="364.30" y="182.60" width="2.60" height="3.90" fill="#2d4678"/>
<rect x="371.60" y="169.40" width="3.20" height="3.20" fill="#ad0b3d"/>
<rect x="371.60" y="172.60" width="3.20" height="10.00" fill="#2d4678"/>
<rect x="371.60" y="182.60" width="3.20" height="22.40" fill="#2d4678"/>
<rect x="371.60" y="205.00" width="3.20" height="1.70" fill="#ad0b3d"/>
<rect x="375.10" y="176.00" width="2.80" height="1.50" fill="#ad0b3d"/>
<rect x="375.10" y="177.50" width="2.80" height="5.10" fill="#2d4678"/>
<rect x="375.10" y="182.60" width="2.80" height="4.80" fill="#2d4678"/>
<rect x="379.10" y="181.60" width="2.70" height="1.00" fill="#ad0b3d"/>
<rect x="379.10" y="182.60" width="2.70" height="0.70" fill="#ad0b3d"/>
<rect x="385.30" y="180.90" width="2.60" height="1.70" fill="#ad0b3d"/>
<rect x="385.30" y="182.60" width="2.60" height="0.80" fill="#2d4678"/>
<rect x="389.10" y="176.40" width="2.80" height="6.20" fill="#ad0b3d"/>
<rect x="389.10" y="182.60" width="2.80" height="0.60" fill="#ad0b3d"/>
<rect x="395.80" y="175.10" width="3.00" height="2.90" fill="#ad0b3d"/>
<rect x="395.80" y="178.00" width="3.00" height="4.60" fill="#2d4678"/>
<rect x="395.80" y="182.60" width="3.00" height="3.60" fill="#ad0b3d"/>
<rect x="406.30" y="175.70" width="3.10" height="2.30" fill="#ad0b3d"/>
<rect x="406.30" y="178.00" width="3.10" height="4.60" fill="#2d4678"/>
<rect x="406.30" y="182.60" width="3.10" height="1.90" fill="#2d4678"/>
<rect x="410.10" y="181.80" width="2.30" height="0.80" fill="#2d4678"/>
<rect x="410.10" y="182.60" width="2.30" height="0.70" fill="#2d4678"/>
<line x1="290.50" y1="161.00" x2="290.50" y2="241.50" stroke="#6a6a6a" stroke-width="1.0"/>
<line x1="288.10" y1="182.60" x2="290.50" y2="182.60" stroke="#444" stroke-width="0.8"/>
<text x="284.80" y="184.47" font-size="5.2" text-anchor="end" font-weight="normal" fill="#1e1e1e" stroke="#1e1e1e" stroke-width="0.22" stroke-opacity="0.7">0</text>
<line x1="288.10" y1="173.05" x2="290.50" y2="173.05" stroke="#444" stroke-width="0.8"/>
<text x="284.80" y="174.92" font-size="5.2" text-anchor="end" font-weight="normal" fill="#1e1e1e" stroke="#1e1e1e" stroke-width="0.22" stroke-opacity="0.7">5</text>
<line x1="288.10" y1="163.50" x2="290.50" y2="163.50" stroke="#444" stroke-width="0.8"/>
<text x="284.80" y="165.37" font-size="5.2" text-anchor="end" font-weight="normal" fill="#1e1e1e" stroke="#1e1e1e" stroke-width="0.22" stroke-opacity="0.7">10</text>
<line x1="288.10" y1="192.10" x2="290.50" y2="192.10" stroke="#444" stroke-width="0.8"/>
<text x="284.80" y="193.97" font-size="5.2" text-anchor="end" font-weight="normal" fill="#1e1e1e" stroke="#1e1e1e" stroke-width="0.22" stroke-opacity="0.7">5</text>
<line x1="288.10" y1="201.60" x2="290.50" y2="201.60" stroke="#444" stroke-width="0.8"/>
<text x="284.80" y="203.47" font-size="5.2" text-anchor="end" font-weight="normal" fill="#1e1e1e" stroke="#1e1e1e" stroke-width="0.22" stroke-opacity="0.7">10</text>
<line x1="288.10" y1="211.10" x2="290.50" y2="211.10" stroke="#444" stroke-width="0.8"/>
<text x="284.80" y="212.97" font-size="5.2" text-anchor="end" font-weight="normal" fill="#1e1e1e" stroke="#1e1e1e" stroke-width="0.22" stroke-opacity="0.7">15</text>
<line x1="288.10" y1="220.60" x2="290.50" y2="220.60" stroke="#444" stroke-width="0.8"/>
<text x="284.80" y="222.47" font-size="5.2" text-anchor="end" font-weight="normal" fill="#1e1e1e" stroke="#1e1e1e" stroke-width="0.22" stroke-opacity="0.7">20</text>
<line x1="288.10" y1="230.10" x2="290.50" y2="230.10" stroke="#444" stroke-width="0.8"/>
<text x="284.80" y="231.97" font-size="5.2" text-anchor="end" font-weight="normal" fill="#1e1e1e" stroke="#1e1e1e" stroke-width="0.22" stroke-opacity="0.7">25</text>
<line x1="288.10" y1="239.60" x2="290.50" y2="239.60" stroke="#444" stroke-width="0.8"/>
<text x="284.80" y="241.47" font-size="5.2" text-anchor="end" font-weight="normal" fill="#1e1e1e" stroke="#1e1e1e" stroke-width="0.22" stroke-opacity="0.7">30</text>
<line x1="290.50" y1="182.60" x2="416.00" y2="182.60" stroke="#2a2a44" stroke-width="0.8"/>
<text x="273.20" y="200.40" font-size="6.4" text-anchor="middle" font-weight="normal" fill="#1e1e1e" stroke="#1e1e1e" stroke-width="0.1" transform="rotate(-90 273.20 200.40)" textLength="92.30" lengthAdjust="spacingAndGlyphs" style="stroke-width:0.2px">Utilization (% of unique sequences)</text>
<text x="325.90" y="152.50" font-size="6.3" text-anchor="start" font-weight="normal" fill="#1e1e1e" stroke="#1e1e1e" stroke-width="0.1" textLength="55.00" lengthAdjust="spacingAndGlyphs">WT DP <tspan font-style="italic">TrbV</tspan> genes</text>
<text x="291.50" y="250.60" font-size="4.6" text-anchor="start" font-weight="normal" fill="#1e1e1e" stroke="#1e1e1e" stroke-width="0.22" textLength="13.00" lengthAdjust="spacingAndGlyphs" stroke-opacity="0.7">distal</text>
<text x="319.80" y="250.60" font-size="6.2" text-anchor="start" font-weight="normal" fill="#1e1e1e" stroke="#1e1e1e" stroke-width="0.1" textLength="62.50" lengthAdjust="spacingAndGlyphs">F791L DP <tspan font-style="italic">TrbV</tspan> genes</text>
<text x="393.80" y="250.60" font-size="4.6" text-anchor="start" font-weight="normal" fill="#1e1e1e" stroke="#1e1e1e" stroke-width="0.22" textLength="21.10" lengthAdjust="spacingAndGlyphs" stroke-opacity="0.7">proximal</text>
<rect x="33.80" y="307.90" width="2.80" height="3.60" fill="#ad0b3d"/>
<rect x="33.80" y="311.50" width="2.80" height="10.80" fill="#2d4678"/>
<rect x="33.80" y="322.30" width="2.80" height="14.10" fill="#2d4678"/>
<rect x="37.50" y="308.20" width="2.40" height="3.30" fill="#ad0b3d"/>
<rect x="37.50" y="311.50" width="2.40" height="10.80" fill="#2d4678"/>
<rect x="37.50" y="322.30" width="2.40" height="5.00" fill="#2d4678"/>
<rect x="40.90" y="306.20" width="2.90" height="2.80" fill="#ad0b3d"/>
<rect x="40.90" y="309.00" width="2.90" height="13.30" fill="#2d4678"/>
<rect x="40.90" y="322.30" width="2.90" height="7.50" fill="#2d4678"/>
<rect x="44.30" y="309.90" width="2.80" height="5.80" fill="#ad0b3d"/>
<rect x="44.30" y="315.70" width="2.80" height="6.60" fill="#2d4678"/>
<rect x="44.30" y="322.30" width="2.80" height="3.30" fill="#2d4678"/>
<rect x="47.90" y="306.90" width="2.80" height="3.00" fill="#ad0b3d"/>
<rect x="47.90" y="309.90" width="2.80" height="12.40" fill="#2d4678"/>
<rect x="47.90" y="322.30" width="2.80" height="12.40" fill="#2d4678"/>
<rect x="73.60" y="317.00" width="2.80" height="2.50" fill="#ad0b3d"/>
<rect x="73.60" y="319.50" width="2.80" height="2.80" fill="#2d4678"/>
<rect x="73.60" y="322.30" width="2.80" height="2.50" fill="#2d4678"/>
<rect x="77.30" y="309.90" width="2.60" height="2.50" fill="#ad0b3d"/>
<rect x="77.30" y="312.40" width="2.60" height="9.90" fill="#2d4678"/>
<rect x="77.30" y="322.30" width="2.60" height="19.10" fill="#2d4678"/>
<rect x="80.70" y="318.20" width="2.90" height="1.80" fill="#ad0b3d"/>
<rect x="80.70" y="320.00" width="2.90" height="2.30" fill="#2d4678"/>
<rect x="80.70" y="322.30" width="2.90" height="2.50" fill="#2d4678"/>
<rect x="84.00" y="297.10" width="3.20" height="4.50" fill="#ad0b3d"/>
<rect x="84.00" y="301.60" width="3.20" height="20.70" fill="#2d4678"/>
<rect x="84.00" y="322.30" width="3.20" height="38.70" fill="#2d4678"/>
<rect x="91.30" y="309.50" width="3.10" height="2.90" fill="#ad0b3d"/>
<rect x="91.30" y="312.40" width="3.10" height="9.90" fill="#2d4678"/>
<rect x="91.30" y="322.30" width="3.10" height="27.70" fill="#2d4678"/>
<rect x="95.30" y="318.10" width="2.60" height="1.90" fill="#ad0b3d"/>
<rect x="95.30" y="320.00" width="2.60" height="2.30" fill="#2d4678"/>
<rect x="95.30" y="322.30" width="2.60" height="0.70" fill="#2d4678"/>
<rect x="98.70" y="314.00" width="2.90" height="2.20" fill="#ad0b3d"/>
<rect x="98.70" y="316.20" width="2.90" height="6.10" fill="#2d4678"/>
<rect x="98.70" y="322.30" width="2.90" height="3.30" fill="#2d4678"/>
<rect x="102.00" y="311.50" width="2.90" height="3.50" fill="#ad0b3d"/>
<rect x="102.00" y="315.00" width="2.90" height="7.30" fill="#2d4678"/>
<rect x="102.00" y="322.30" width="2.90" height="27.70" fill="#2d4678"/>
<rect x="105.40" y="319.00" width="3.10" height="1.00" fill="#ad0b3d"/>
<rect x="105.40" y="320.00" width="3.10" height="2.30" fill="#2d4678"/>
<rect x="105.40" y="322.30" width="3.10" height="4.10" fill="#2d4678"/>
<rect x="112.80" y="304.40" width="3.30" height="5.40" fill="#ad0b3d"/>
<rect x="112.80" y="309.80" width="3.30" height="12.50" fill="#2d4678"/>
<rect x="112.80" y="322.30" width="3.30" height="33.30" fill="#2d4678"/>
<rect x="112.80" y="355.60" width="3.30" height="1.40" fill="#ad0b3d"/>
<rect x="116.50" y="313.00" width="3.30" height="3.00" fill="#ad0b3d"/>
<rect x="116.50" y="316.00" width="3.30" height="6.30" fill="#2d4678"/>
<rect x="116.50" y="322.30" width="3.30" height="6.90" fill="#2d4678"/>
<rect x="120.60" y="321.50" width="4.10" height="0.80" fill="#ad0b3d"/>
<rect x="120.60" y="322.30" width="4.10" height="0.70" fill="#2d4678"/>
<rect x="127.70" y="319.80" width="2.80" height="2.50" fill="#2d4678"/>
<rect x="127.70" y="322.30" width="2.80" height="1.20" fill="#2d4678"/>
<rect x="131.00" y="316.30" width="3.30" height="6.00" fill="#ad0b3d"/>
<rect x="131.00" y="322.30" width="3.30" height="0.90" fill="#2d4678"/>
<rect x="138.00" y="314.80" width="3.80" height="7.50" fill="#ad0b3d"/>
<rect x="138.00" y="322.30" width="3.80" height="7.40" fill="#ad0b3d"/>
<rect x="149.20" y="316.30" width="3.30" height="2.70" fill="#ad0b3d"/>
<rect x="149.20" y="319.00" width="3.30" height="3.30" fill="#2d4678"/>
<rect x="149.20" y="322.30" width="3.30" height="1.60" fill="#2d4678"/>
<rect x="152.90" y="321.60" width="2.50" height="0.70" fill="#2d4678"/>
<rect x="152.90" y="322.30" width="2.50" height="0.70" fill="#2d4678"/>
<line x1="30.40" y1="289.00" x2="30.40" y2="366.00" stroke="#6a6a6a" stroke-width="1.0"/>
<line x1="28.00" y1="322.30" x2="30.40" y2="322.30" stroke="#444" stroke-width="0.8"/>
<text x="24.70" y="324.17" font-size="5.2" text-anchor="end" font-weight="normal" fill="#1e1e1e" stroke="#1e1e1e" stroke-width="0.22" stroke-opacity="0.7">0</text>
<line x1="28.00" y1="312.00" x2="30.40" y2="312.00" stroke="#444" stroke-width="0.8"/>
<text x="24.70" y="313.87" font-size="5.2" text-anchor="end" font-weight="normal" fill="#1e1e1e" stroke="#1e1e1e" stroke-width="0.22" stroke-opacity="0.7">5</text>
<line x1="28.00" y1="301.70" x2="30.40" y2="301.70" stroke="#444" stroke-width="0.8"/>
<text x="24.70" y="303.57" font-size="5.2" text-anchor="end" font-weight="normal" fill="#1e1e1e" stroke="#1e1e1e" stroke-width="0.22" stroke-opacity="0.7">10</text>
<line x1="28.00" y1="291.40" x2="30.40" y2="291.40" stroke="#444" stroke-width="0.8"/>
<text x="24.70" y="293.27" font-size="5.2" text-anchor="end" font-weight="normal" fill="#1e1e1e" stroke="#1e1e1e" stroke-width="0.22" stroke-opacity="0.7">15</text>
<line x1="28.00" y1="332.65" x2="30.40" y2="332.65" stroke="#444" stroke-width="0.8"/>
<text x="24.70" y="334.52" font-size="5.2" text-anchor="end" font-weight="normal" fill="#1e1e1e" stroke="#1e1e1e" stroke-width="0.22" stroke-opacity="0.7">5</text>
<line x1="28.00" y1="343.00" x2="30.40" y2="343.00" stroke="#444" stroke-width="0.8"/>
<text x="24.70" y="344.87" font-size="5.2" text-anchor="end" font-weight="normal" fill="#1e1e1e" stroke="#1e1e1e" stroke-width="0.22" stroke-opacity="0.7">10</text>
<line x1="28.00" y1="353.35" x2="30.40" y2="353.35" stroke="#444" stroke-width="0.8"/>
<text x="24.70" y="355.22" font-size="5.2" text-anchor="end" font-weight="normal" fill="#1e1e1e" stroke="#1e1e1e" stroke-width="0.22" stroke-opacity="0.7">15</text>
<line x1="28.00" y1="363.70" x2="30.40" y2="363.70" stroke="#444" stroke-width="0.8"/>
<text x="24.70" y="365.57" font-size="5.2" text-anchor="end" font-weight="normal" fill="#1e1e1e" stroke="#1e1e1e" stroke-width="0.22" stroke-opacity="0.7">20</text>
<line x1="30.40" y1="322.30" x2="158.70" y2="322.30" stroke="#2a2a44" stroke-width="0.8"/>
<text x="13.10" y="325.80" font-size="6.4" text-anchor="middle" font-weight="normal" fill="#1e1e1e" stroke="#1e1e1e" stroke-width="0.1" transform="rotate(-90 13.10 325.80)" textLength="91.50" lengthAdjust="spacingAndGlyphs" style="stroke-width:0.2px">Utilization (% of unique sequences)</text>
<text x="52.70" y="277.50" font-size="6.3" text-anchor="start" font-weight="normal" fill="#1e1e1e" stroke="#1e1e1e" stroke-width="0.1" textLength="83.80" lengthAdjust="spacingAndGlyphs">WT Tconv spleen <tspan font-style="italic">TrbV</tspan> genes</text>
<text x="25.10" y="374.20" font-size="4.6" text-anchor="start" font-weight="normal" fill="#1e1e1e" stroke="#1e1e1e" stroke-width="0.22" textLength="11.50" lengthAdjust="spacingAndGlyphs" stroke-opacity="0.7">distal</text>
<text x="45.30" y="374.20" font-size="6.2" text-anchor="start" font-weight="normal" fill="#1e1e1e" stroke="#1e1e1e" stroke-width="0.1" textLength="93.00" lengthAdjust="spacingAndGlyphs">R972Q Tconv spleen <tspan font-style="italic">TrbV</tspan> genes</text>
<text x="141.80" y="374.20" font-size="4.6" text-anchor="start" font-weight="normal" fill="#1e1e1e" stroke="#1e1e1e" stroke-width="0.22" textLength="22.50" lengthAdjust="spacingAndGlyphs" stroke-opacity="0.7">proximal</text>
<rect x="294.20" y="305.00" width="2.90" height="2.20" fill="#ad0b3d"/>
<rect x="294.20" y="307.20" width="2.90" height="10.20" fill="#2d4678"/>
<rect x="294.20" y="317.40" width="2.90" height="21.10" fill="#2d4678"/>
<rect x="297.70" y="305.00" width="3.00" height="2.20" fill="#ad0b3d"/>
<rect x="297.70" y="307.20" width="3.00" height="10.20" fill="#2d4678"/>
<rect x="297.70" y="317.40" width="3.00" height="1.60" fill="#2d4678"/>
<rect x="301.20" y="303.20" width="3.00" height="2.80" fill="#ad0b3d"/>
<rect x="301.20" y="306.00" width="3.00" height="11.40" fill="#2d4678"/>
<rect x="301.20" y="317.40" width="3.00" height="3.90" fill="#2d4678"/>
<rect x="305.00" y="306.40" width="2.90" height="5.20" fill="#ad0b3d"/>
<rect x="305.00" y="311.60" width="2.90" height="5.80" fill="#2d4678"/>
<rect x="305.00" y="317.40" width="2.90" height="3.40" fill="#2d4678"/>
<rect x="308.60" y="304.10" width="2.80" height="2.30" fill="#ad0b3d"/>
<rect x="308.60" y="306.40" width="2.80" height="11.00" fill="#2d4678"/>
<rect x="308.60" y="317.40" width="2.80" height="3.40" fill="#2d4678"/>
<rect x="334.00" y="312.20" width="3.20" height="3.00" fill="#ad0b3d"/>
<rect x="334.00" y="315.20" width="3.20" height="2.20" fill="#2d4678"/>
<rect x="334.00" y="317.40" width="3.20" height="2.30" fill="#2d4678"/>
<rect x="337.60" y="306.70" width="2.80" height="2.80" fill="#ad0b3d"/>
<rect x="337.60" y="309.50" width="2.80" height="7.90" fill="#2d4678"/>
<rect x="337.60" y="317.40" width="2.80" height="25.50" fill="#2d4678"/>
<rect x="341.00" y="314.30" width="2.90" height="1.70" fill="#ad0b3d"/>
<rect x="341.00" y="316.00" width="2.90" height="1.40" fill="#2d4678"/>
<rect x="341.00" y="317.40" width="2.90" height="1.60" fill="#2d4678"/>
<rect x="344.60" y="295.50" width="3.20" height="3.80" fill="#ad0b3d"/>
<rect x="344.60" y="299.30" width="3.20" height="18.10" fill="#2d4678"/>
<rect x="344.60" y="317.40" width="3.20" height="43.60" fill="#2d4678"/>
<rect x="344.60" y="361.00" width="3.20" height="2.50" fill="#ad0b3d"/>
<rect x="351.70" y="305.90" width="3.30" height="2.50" fill="#ad0b3d"/>
<rect x="351.70" y="308.40" width="3.30" height="9.00" fill="#2d4678"/>
<rect x="351.70" y="317.40" width="3.30" height="27.60" fill="#2d4678"/>
<rect x="351.70" y="345.00" width="3.30" height="1.60" fill="#ad0b3d"/>
<rect x="355.50" y="313.60" width="3.00" height="1.90" fill="#ad0b3d"/>
<rect x="355.50" y="315.50" width="3.00" height="1.90" fill="#2d4678"/>
<rect x="355.50" y="317.40" width="3.00" height="2.00" fill="#2d4678"/>
<rect x="359.40" y="309.80" width="2.80" height="2.10" fill="#ad0b3d"/>
<rect x="359.40" y="311.90" width="2.80" height="5.50" fill="#2d4678"/>
<rect x="359.40" y="317.40" width="2.80" height="2.00" fill="#2d4678"/>
<rect x="362.90" y="307.70" width="3.10" height="2.90" fill="#ad0b3d"/>
<rect x="362.90" y="310.60" width="3.10" height="6.80" fill="#2d4678"/>
<rect x="362.90" y="317.40" width="3.10" height="12.50" fill="#2d4678"/>
<rect x="366.40" y="314.20" width="3.10" height="1.30" fill="#ad0b3d"/>
<rect x="366.40" y="315.50" width="3.10" height="1.90" fill="#2d4678"/>
<rect x="366.40" y="317.40" width="3.10" height="2.00" fill="#2d4678"/>
<rect x="373.40" y="301.40" width="3.50" height="4.00" fill="#ad0b3d"/>
<rect x="373.40" y="305.40" width="3.50" height="12.00" fill="#2d4678"/>
<rect x="373.40" y="317.40" width="3.50" height="25.60" fill="#2d4678"/>
<rect x="373.40" y="343.00" width="3.50" height="1.80" fill="#ad0b3d"/>
<rect x="377.40" y="309.40" width="3.20" height="2.10" fill="#ad0b3d"/>
<rect x="377.40" y="311.50" width="3.20" height="5.90" fill="#2d4678"/>
<rect x="377.40" y="317.40" width="3.20" height="4.60" fill="#2d4678"/>
<rect x="381.40" y="316.60" width="4.20" height="0.80" fill="#ad0b3d"/>
<rect x="381.40" y="317.40" width="4.20" height="0.80" fill="#2d4678"/>
<rect x="387.90" y="315.50" width="3.00" height="1.90" fill="#2d4678"/>
<rect x="387.90" y="317.40" width="3.00" height="0.90" fill="#2d4678"/>
<rect x="391.40" y="311.90" width="3.50" height="5.50" fill="#ad0b3d"/>
<rect x="391.40" y="317.40" width="3.50" height="0.80" fill="#2d4678"/>
<rect x="398.40" y="310.10" width="3.50" height="7.30" fill="#ad0b3d"/>
<rect x="398.40" y="317.40" width="3.50" height="3.20" fill="#ad0b3d"/>
<rect x="409.40" y="311.50" width="3.60" height="2.50" fill="#ad0b3d"/>
<rect x="409.40" y="314.00" width="3.60" height="3.40" fill="#2d4678"/>
<rect x="409.40" y="317.40" width="3.60" height="1.60" fill="#2d4678"/>
<line x1="290.50" y1="286.50" x2="290.50" y2="366.50" stroke="#6a6a6a" stroke-width="1.0"/>
<line x1="288.10" y1="317.40" x2="290.50" y2="317.40" stroke="#444" stroke-width="0.8"/>
<text x="284.80" y="319.27" font-size="5.2" text-anchor="end" font-weight="normal" fill="#1e1e1e" stroke="#1e1e1e" stroke-width="0.22" stroke-opacity="0.7">0</text>
<line x1="288.10" y1="308.00" x2="290.50" y2="308.00" stroke="#444" stroke-width="0.8"/>
<text x="284.80" y="309.87" font-size="5.2" text-anchor="end" font-weight="normal" fill="#1e1e1e" stroke="#1e1e1e" stroke-width="0.22" stroke-opacity="0.7">5</text>
<line x1="288.10" y1="298.60" x2="290.50" y2="298.60" stroke="#444" stroke-width="0.8"/>
<text x="284.80" y="300.47" font-size="5.2" text-anchor="end" font-weight="normal" fill="#1e1e1e" stroke="#1e1e1e" stroke-width="0.22" stroke-opacity="0.7">10</text>
<line x1="288.10" y1="289.20" x2="290.50" y2="289.20" stroke="#444" stroke-width="0.8"/>
<text x="284.80" y="291.07" font-size="5.2" text-anchor="end" font-weight="normal" fill="#1e1e1e" stroke="#1e1e1e" stroke-width="0.22" stroke-opacity="0.7">15</text>
<line x1="288.10" y1="326.75" x2="290.50" y2="326.75" stroke="#444" stroke-width="0.8"/>
<text x="284.80" y="328.62" font-size="5.2" text-anchor="end" font-weight="normal" fill="#1e1e1e" stroke="#1e1e1e" stroke-width="0.22" stroke-opacity="0.7">5</text>
<line x1="288.10" y1="336.10" x2="290.50" y2="336.10" stroke="#444" stroke-width="0.8"/>
<text x="284.80" y="337.97" font-size="5.2" text-anchor="end" font-weight="normal" fill="#1e1e1e" stroke="#1e1e1e" stroke-width="0.22" stroke-opacity="0.7">10</text>
<line x1="288.10" y1="345.45" x2="290.50" y2="345.45" stroke="#444" stroke-width="0.8"/>
<text x="284.80" y="347.32" font-size="5.2" text-anchor="end" font-weight="normal" fill="#1e1e1e" stroke="#1e1e1e" stroke-width="0.22" stroke-opacity="0.7">15</text>
<line x1="288.10" y1="354.80" x2="290.50" y2="354.80" stroke="#444" stroke-width="0.8"/>
<text x="284.80" y="356.67" font-size="5.2" text-anchor="end" font-weight="normal" fill="#1e1e1e" stroke="#1e1e1e" stroke-width="0.22" stroke-opacity="0.7">20</text>
<line x1="288.10" y1="364.15" x2="290.50" y2="364.15" stroke="#444" stroke-width="0.8"/>
<text x="284.80" y="366.02" font-size="5.2" text-anchor="end" font-weight="normal" fill="#1e1e1e" stroke="#1e1e1e" stroke-width="0.22" stroke-opacity="0.7">25</text>
<line x1="290.50" y1="317.40" x2="419.40" y2="317.40" stroke="#2a2a44" stroke-width="0.8"/>
<text x="273.20" y="325.30" font-size="6.4" text-anchor="middle" font-weight="normal" fill="#1e1e1e" stroke="#1e1e1e" stroke-width="0.1" transform="rotate(-90 273.20 325.30)" textLength="92.40" lengthAdjust="spacingAndGlyphs" style="stroke-width:0.2px">Utilization (% of unique sequences)</text>
<text x="312.70" y="276.80" font-size="6.3" text-anchor="start" font-weight="normal" fill="#1e1e1e" stroke="#1e1e1e" stroke-width="0.1" textLength="85.60" lengthAdjust="spacingAndGlyphs">WT Tconv spleen <tspan font-style="italic">TrbV</tspan> genes</text>
<text x="283.50" y="374.30" font-size="4.6" text-anchor="start" font-weight="normal" fill="#1e1e1e" stroke="#1e1e1e" stroke-width="0.22" textLength="12.40" lengthAdjust="spacingAndGlyphs" stroke-opacity="0.7">distal</text>
<text x="305.40" y="374.30" font-size="6.2" text-anchor="start" font-weight="normal" fill="#1e1e1e" stroke="#1e1e1e" stroke-width="0.1" textLength="89.30" lengthAdjust="spacingAndGlyphs">F971L Tconv spleen <tspan font-style="italic">TrbV</tspan> genes</text>
<text x="398.70" y="374.30" font-size="4.6" text-anchor="start" font-weight="normal" fill="#1e1e1e" stroke="#1e1e1e" stroke-width="0.22" textLength="23.10" lengthAdjust="spacingAndGlyphs" stroke-opacity="0.7">proximal</text>
<rect x="33.80" y="437.40" width="2.80" height="2.50" fill="#ad0b3d"/>
<rect x="33.80" y="439.90" width="2.80" height="9.40" fill="#2d4678"/>
<rect x="33.80" y="449.30" width="2.80" height="13.40" fill="#2d4678"/>
<rect x="37.50" y="434.90" width="2.60" height="2.50" fill="#ad0b3d"/>
<rect x="37.50" y="437.40" width="2.60" height="11.90" fill="#2d4678"/>
<rect x="37.50" y="449.30" width="2.60" height="4.10" fill="#2d4678"/>
<rect x="40.90" y="431.60" width="3.20" height="4.10" fill="#ad0b3d"/>
<rect x="40.90" y="435.70" width="3.20" height="13.60" fill="#2d4678"/>
<rect x="40.90" y="449.30" width="3.20" height="7.60" fill="#2d4678"/>
<rect x="44.60" y="439.00" width="2.80" height="6.70" fill="#ad0b3d"/>
<rect x="44.60" y="445.70" width="2.80" height="3.60" fill="#2d4678"/>
<rect x="44.60" y="449.30" width="2.80" height="2.20" fill="#2d4678"/>
<rect x="48.20" y="433.20" width="3.30" height="3.00" fill="#ad0b3d"/>
<rect x="48.20" y="436.20" width="3.30" height="13.10" fill="#2d4678"/>
<rect x="48.20" y="449.30" width="3.30" height="11.70" fill="#2d4678"/>
<rect x="74.10" y="439.90" width="2.80" height="2.50" fill="#ad0b3d"/>
<rect x="74.10" y="442.40" width="2.80" height="6.90" fill="#2d4678"/>
<rect x="74.10" y="449.30" width="2.80" height="6.30" fill="#2d4678"/>
<rect x="77.80" y="438.50" width="3.20" height="3.00" fill="#ad0b3d"/>
<rect x="77.80" y="441.50" width="3.20" height="7.80" fill="#2d4678"/>
<rect x="77.80" y="449.30" width="3.20" height="16.30" fill="#2d4678"/>
<rect x="81.40" y="443.20" width="3.00" height="1.80" fill="#ad0b3d"/>
<rect x="81.40" y="445.00" width="3.00" height="4.30" fill="#2d4678"/>
<rect x="81.40" y="449.30" width="3.00" height="3.00" fill="#2d4678"/>
<rect x="84.90" y="426.30" width="3.30" height="5.30" fill="#ad0b3d"/>
<rect x="84.90" y="431.60" width="3.30" height="17.70" fill="#2d4678"/>
<rect x="84.90" y="449.30" width="3.30" height="32.00" fill="#2d4678"/>
<rect x="84.90" y="481.30" width="3.30" height="1.70" fill="#ad0b3d"/>
<rect x="92.50" y="437.80" width="3.30" height="3.70" fill="#ad0b3d"/>
<rect x="92.50" y="441.50" width="3.30" height="7.80" fill="#2d4678"/>
<rect x="92.50" y="449.30" width="3.30" height="23.30" fill="#2d4678"/>
<rect x="96.30" y="445.60" width="2.80" height="1.90" fill="#ad0b3d"/>
<rect x="96.30" y="447.50" width="2.80" height="1.80" fill="#2d4678"/>
<rect x="96.30" y="449.30" width="2.80" height="0.70" fill="#2d4678"/>
<rect x="99.90" y="439.80" width="3.00" height="3.20" fill="#ad0b3d"/>
<rect x="99.90" y="443.00" width="3.00" height="6.30" fill="#2d4678"/>
<rect x="99.90" y="449.30" width="3.00" height="2.90" fill="#2d4678"/>
<rect x="103.70" y="438.10" width="3.20" height="4.20" fill="#ad0b3d"/>
<rect x="103.70" y="442.30" width="3.20" height="7.00" fill="#2d4678"/>
<rect x="103.70" y="449.30" width="3.20" height="26.90" fill="#2d4678"/>
<rect x="107.40" y="445.60" width="3.30" height="1.40" fill="#ad0b3d"/>
<rect x="107.40" y="447.00" width="3.30" height="2.30" fill="#2d4678"/>
<rect x="107.40" y="449.30" width="3.30" height="4.10" fill="#2d4678"/>
<rect x="114.80" y="433.50" width="3.30" height="3.80" fill="#ad0b3d"/>
<rect x="114.80" y="437.30" width="3.30" height="12.00" fill="#2d4678"/>
<rect x="114.80" y="449.30" width="3.30" height="29.90" fill="#2d4678"/>
<rect x="118.60" y="440.60" width="3.20" height="2.40" fill="#ad0b3d"/>
<rect x="118.60" y="443.00" width="3.20" height="6.30" fill="#2d4678"/>
<rect x="118.60" y="449.30" width="3.20" height="5.10" fill="#2d4678"/>
<rect x="122.70" y="448.50" width="5.70" height="0.80" fill="#ad0b3d"/>
<rect x="122.70" y="449.30" width="5.70" height="0.70" fill="#2d4678"/>
<rect x="129.40" y="447.30" width="3.10" height="2.00" fill="#2d4678"/>
<rect x="129.40" y="449.30" width="3.10" height="0.50" fill="#2d4678"/>
<rect x="133.00" y="442.80" width="3.00" height="6.50" fill="#ad0b3d"/>
<rect x="133.00" y="449.30" width="3.00" height="0.70" fill="#2d4678"/>
<rect x="140.50" y="441.00" width="3.30" height="8.30" fill="#ad0b3d"/>
<rect x="140.50" y="449.30" width="3.30" height="7.10" fill="#ad0b3d"/>
<rect x="151.60" y="444.40" width="3.30" height="2.10" fill="#ad0b3d"/>
<rect x="151.60" y="446.50" width="3.30" height="2.80" fill="#2d4678"/>
<rect x="151.60" y="449.30" width="3.30" height="0.60" fill="#2d4678"/>
<rect x="155.40" y="448.60" width="2.40" height="0.70" fill="#2d4678"/>
<rect x="155.40" y="449.30" width="2.40" height="0.70" fill="#2d4678"/>
<line x1="30.60" y1="416.00" x2="30.60" y2="492.50" stroke="#6a6a6a" stroke-width="1.0"/>
<line x1="28.20" y1="449.30" x2="30.60" y2="449.30" stroke="#444" stroke-width="0.8"/>
<text x="24.90" y="451.17" font-size="5.2" text-anchor="end" font-weight="normal" fill="#1e1e1e" stroke="#1e1e1e" stroke-width="0.22" stroke-opacity="0.7">0</text>
<line x1="28.20" y1="439.15" x2="30.60" y2="439.15" stroke="#444" stroke-width="0.8"/>
<text x="24.90" y="441.02" font-size="5.2" text-anchor="end" font-weight="normal" fill="#1e1e1e" stroke="#1e1e1e" stroke-width="0.22" stroke-opacity="0.7">5</text>
<line x1="28.20" y1="429.00" x2="30.60" y2="429.00" stroke="#444" stroke-width="0.8"/>
<text x="24.90" y="430.87" font-size="5.2" text-anchor="end" font-weight="normal" fill="#1e1e1e" stroke="#1e1e1e" stroke-width="0.22" stroke-opacity="0.7">10</text>
<line x1="28.20" y1="418.85" x2="30.60" y2="418.85" stroke="#444" stroke-width="0.8"/>
<text x="24.90" y="420.72" font-size="5.2" text-anchor="end" font-weight="normal" fill="#1e1e1e" stroke="#1e1e1e" stroke-width="0.22" stroke-opacity="0.7">15</text>
<line x1="28.20" y1="459.50" x2="30.60" y2="459.50" stroke="#444" stroke-width="0.8"/>
<text x="24.90" y="461.37" font-size="5.2" text-anchor="end" font-weight="normal" fill="#1e1e1e" stroke="#1e1e1e" stroke-width="0.22" stroke-opacity="0.7">5</text>
<line x1="28.20" y1="469.70" x2="30.60" y2="469.70" stroke="#444" stroke-width="0.8"/>
<text x="24.90" y="471.57" font-size="5.2" text-anchor="end" font-weight="normal" fill="#1e1e1e" stroke="#1e1e1e" stroke-width="0.22" stroke-opacity="0.7">10</text>
<line x1="28.20" y1="479.90" x2="30.60" y2="479.90" stroke="#444" stroke-width="0.8"/>
<text x="24.90" y="481.77" font-size="5.2" text-anchor="end" font-weight="normal" fill="#1e1e1e" stroke="#1e1e1e" stroke-width="0.22" stroke-opacity="0.7">15</text>
<line x1="28.20" y1="490.10" x2="30.60" y2="490.10" stroke="#444" stroke-width="0.8"/>
<text x="24.90" y="491.97" font-size="5.2" text-anchor="end" font-weight="normal" fill="#1e1e1e" stroke="#1e1e1e" stroke-width="0.22" stroke-opacity="0.7">20</text>
<line x1="30.60" y1="449.30" x2="161.20" y2="449.30" stroke="#2a2a44" stroke-width="0.8"/>
<text x="13.30" y="452.90" font-size="6.4" text-anchor="middle" font-weight="normal" fill="#1e1e1e" stroke="#1e1e1e" stroke-width="0.1" transform="rotate(-90 13.30 452.90)" textLength="91.90" lengthAdjust="spacingAndGlyphs" style="stroke-width:0.2px">Utilization (% of unique sequences)</text>
<text x="55.80" y="401.50" font-size="6.3" text-anchor="start" font-weight="normal" fill="#1e1e1e" stroke="#1e1e1e" stroke-width="0.1" textLength="79.80" lengthAdjust="spacingAndGlyphs">WT Treg spleen <tspan font-style="italic">TrbV</tspan> genes</text>
<text x="25.10" y="500.60" font-size="4.6" text-anchor="start" font-weight="normal" fill="#1e1e1e" stroke="#1e1e1e" stroke-width="0.22" textLength="12.40" lengthAdjust="spacingAndGlyphs" stroke-opacity="0.7">distal</text>
<text x="49.00" y="500.60" font-size="6.2" text-anchor="start" font-weight="normal" fill="#1e1e1e" stroke="#1e1e1e" stroke-width="0.1" textLength="89.30" lengthAdjust="spacingAndGlyphs">R972Q Treg spleen <tspan font-style="italic">TrbV</tspan> genes</text>
<text x="143.20" y="500.60" font-size="4.6" text-anchor="start" font-weight="normal" fill="#1e1e1e" stroke="#1e1e1e" stroke-width="0.22" textLength="21.10" lengthAdjust="spacingAndGlyphs" stroke-opacity="0.7">proximal</text>
<rect x="294.20" y="430.70" width="2.90" height="2.10" fill="#ad0b3d"/>
<rect x="294.20" y="432.80" width="2.90" height="13.60" fill="#2d4678"/>
<rect x="294.20" y="446.40" width="2.90" height="30.40" fill="#2d4678"/>
<rect x="297.70" y="431.10" width="3.00" height="2.40" fill="#ad0b3d"/>
<rect x="297.70" y="433.50" width="3.00" height="12.90" fill="#2d4678"/>
<rect x="297.70" y="446.40" width="3.00" height="3.70" fill="#2d4678"/>
<rect x="301.20" y="429.00" width="3.10" height="2.40" fill="#ad0b3d"/>
<rect x="301.20" y="431.40" width="3.10" height="15.00" fill="#2d4678"/>
<rect x="301.20" y="446.40" width="3.10" height="4.90" fill="#2d4678"/>
<rect x="305.00" y="432.50" width="3.20" height="6.50" fill="#ad0b3d"/>
<rect x="305.00" y="439.00" width="3.20" height="7.40" fill="#2d4678"/>
<rect x="305.00" y="446.40" width="3.20" height="4.40" fill="#2d4678"/>
<rect x="308.60" y="429.70" width="3.10" height="2.20" fill="#ad0b3d"/>
<rect x="308.60" y="431.90" width="3.10" height="14.50" fill="#2d4678"/>
<rect x="308.60" y="446.40" width="3.10" height="4.40" fill="#2d4678"/>
<rect x="334.00" y="439.90" width="3.20" height="3.40" fill="#ad0b3d"/>
<rect x="334.00" y="443.30" width="3.20" height="3.10" fill="#2d4678"/>
<rect x="334.00" y="446.40" width="3.20" height="5.40" fill="#2d4678"/>
<rect x="337.70" y="432.80" width="3.40" height="3.50" fill="#ad0b3d"/>
<rect x="337.70" y="436.30" width="3.40" height="10.10" fill="#2d4678"/>
<rect x="337.70" y="446.40" width="3.40" height="21.20" fill="#2d4678"/>
<rect x="341.60" y="442.00" width="3.00" height="2.00" fill="#ad0b3d"/>
<rect x="341.60" y="444.00" width="3.00" height="2.40" fill="#2d4678"/>
<rect x="341.60" y="446.40" width="3.00" height="2.10" fill="#2d4678"/>
<rect x="345.10" y="419.70" width="3.50" height="2.60" fill="#ad0b3d"/>
<rect x="345.10" y="422.30" width="3.50" height="24.10" fill="#2d4678"/>
<rect x="345.10" y="446.40" width="3.50" height="45.30" fill="#2d4678"/>
<rect x="345.10" y="491.70" width="3.50" height="4.80" fill="#ad0b3d"/>
<rect x="352.40" y="432.40" width="3.50" height="3.00" fill="#ad0b3d"/>
<rect x="352.40" y="435.40" width="3.50" height="11.00" fill="#2d4678"/>
<rect x="352.40" y="446.40" width="3.50" height="24.60" fill="#2d4678"/>
<rect x="352.40" y="471.00" width="3.50" height="2.80" fill="#ad0b3d"/>
<rect x="356.40" y="441.50" width="3.00" height="2.00" fill="#ad0b3d"/>
<rect x="356.40" y="443.50" width="3.00" height="2.90" fill="#2d4678"/>
<rect x="356.40" y="446.40" width="3.00" height="0.80" fill="#2d4678"/>
<rect x="359.90" y="437.10" width="3.00" height="2.70" fill="#ad0b3d"/>
<rect x="359.90" y="439.80" width="3.00" height="6.60" fill="#2d4678"/>
<rect x="359.90" y="446.40" width="3.00" height="2.10" fill="#2d4678"/>
<rect x="363.90" y="434.50" width="3.00" height="3.50" fill="#ad0b3d"/>
<rect x="363.90" y="438.00" width="3.00" height="8.40" fill="#2d4678"/>
<rect x="363.90" y="446.40" width="3.00" height="17.90" fill="#2d4678"/>
<rect x="363.90" y="464.30" width="3.00" height="1.70" fill="#ad0b3d"/>
<rect x="367.40" y="442.00" width="3.00" height="2.00" fill="#ad0b3d"/>
<rect x="367.40" y="444.00" width="3.00" height="2.40" fill="#2d4678"/>
<rect x="367.40" y="446.40" width="3.00" height="0.80" fill="#2d4678"/>
<rect x="374.80" y="426.60" width="3.10" height="5.30" fill="#ad0b3d"/>
<rect x="374.80" y="431.90" width="3.10" height="14.50" fill="#2d4678"/>
<rect x="374.80" y="446.40" width="3.10" height="27.60" fill="#2d4678"/>
<rect x="374.80" y="474.00" width="3.10" height="2.50" fill="#ad0b3d"/>
<rect x="378.30" y="436.30" width="3.50" height="1.70" fill="#ad0b3d"/>
<rect x="378.30" y="438.00" width="3.50" height="8.40" fill="#2d4678"/>
<rect x="378.30" y="446.40" width="3.50" height="4.80" fill="#2d4678"/>
<rect x="382.70" y="445.60" width="6.10" height="0.80" fill="#ad0b3d"/>
<rect x="382.70" y="446.40" width="6.10" height="0.80" fill="#2d4678"/>
<rect x="389.70" y="443.60" width="2.90" height="2.80" fill="#2d4678"/>
<rect x="389.70" y="446.40" width="2.90" height="0.80" fill="#2d4678"/>
<rect x="393.20" y="439.40" width="3.50" height="7.00" fill="#ad0b3d"/>
<rect x="393.20" y="446.40" width="3.50" height="0.80" fill="#2d4678"/>
<rect x="400.70" y="437.70" width="3.50" height="8.70" fill="#ad0b3d"/>
<rect x="400.70" y="446.40" width="3.50" height="3.60" fill="#ad0b3d"/>
<rect x="411.50" y="438.90" width="3.50" height="2.60" fill="#ad0b3d"/>
<rect x="411.50" y="441.50" width="3.50" height="4.90" fill="#2d4678"/>
<rect x="411.50" y="446.40" width="3.50" height="0.80" fill="#2d4678"/>
<line x1="290.80" y1="421.00" x2="290.80" y2="492.00" stroke="#6a6a6a" stroke-width="1.0"/>
<line x1="288.40" y1="446.40" x2="290.80" y2="446.40" stroke="#444" stroke-width="0.8"/>
<text x="285.10" y="448.27" font-size="5.2" text-anchor="end" font-weight="normal" fill="#1e1e1e" stroke="#1e1e1e" stroke-width="0.22" stroke-opacity="0.7">0</text>
<line x1="288.40" y1="434.90" x2="290.80" y2="434.90" stroke="#444" stroke-width="0.8"/>
<text x="285.10" y="436.77" font-size="5.2" text-anchor="end" font-weight="normal" fill="#1e1e1e" stroke="#1e1e1e" stroke-width="0.22" stroke-opacity="0.7">5</text>
<line x1="288.40" y1="423.40" x2="290.80" y2="423.40" stroke="#444" stroke-width="0.8"/>
<text x="285.10" y="425.27" font-size="5.2" text-anchor="end" font-weight="normal" fill="#1e1e1e" stroke="#1e1e1e" stroke-width="0.22" stroke-opacity="0.7">10</text>
<line x1="288.40" y1="457.25" x2="290.80" y2="457.25" stroke="#444" stroke-width="0.8"/>
<text x="285.10" y="459.12" font-size="5.2" text-anchor="end" font-weight="normal" fill="#1e1e1e" stroke="#1e1e1e" stroke-width="0.22" stroke-opacity="0.7">5</text>
<line x1="288.40" y1="468.10" x2="290.80" y2="468.10" stroke="#444" stroke-width="0.8"/>
<text x="285.10" y="469.97" font-size="5.2" text-anchor="end" font-weight="normal" fill="#1e1e1e" stroke="#1e1e1e" stroke-width="0.22" stroke-opacity="0.7">10</text>
<line x1="288.40" y1="478.95" x2="290.80" y2="478.95" stroke="#444" stroke-width="0.8"/>
<text x="285.10" y="480.82" font-size="5.2" text-anchor="end" font-weight="normal" fill="#1e1e1e" stroke="#1e1e1e" stroke-width="0.22" stroke-opacity="0.7">15</text>
<line x1="288.40" y1="489.80" x2="290.80" y2="489.80" stroke="#444" stroke-width="0.8"/>
<text x="285.10" y="491.67" font-size="5.2" text-anchor="end" font-weight="normal" fill="#1e1e1e" stroke="#1e1e1e" stroke-width="0.22" stroke-opacity="0.7">20</text>
<line x1="290.80" y1="446.40" x2="418.00" y2="446.40" stroke="#2a2a44" stroke-width="0.8"/>
<text x="273.50" y="455.20" font-size="6.4" text-anchor="middle" font-weight="normal" fill="#1e1e1e" stroke="#1e1e1e" stroke-width="0.1" transform="rotate(-90 273.50 455.20)" textLength="92.70" lengthAdjust="spacingAndGlyphs" style="stroke-width:0.2px">Utilization (% of unique sequences)</text>
<text x="316.10" y="400.80" font-size="6.3" text-anchor="start" font-weight="normal" fill="#1e1e1e" stroke="#1e1e1e" stroke-width="0.1" textLength="80.50" lengthAdjust="spacingAndGlyphs">WT Treg spleen <tspan font-style="italic">TrbV</tspan> genes</text>
<text x="288.10" y="504.00" font-size="4.6" text-anchor="start" font-weight="normal" fill="#1e1e1e" stroke="#1e1e1e" stroke-width="0.22" textLength="11.50" lengthAdjust="spacingAndGlyphs" stroke-opacity="0.7">distal</text>
<text x="307.40" y="504.00" font-size="6.2" text-anchor="start" font-weight="normal" fill="#1e1e1e" stroke="#1e1e1e" stroke-width="0.1" textLength="87.90" lengthAdjust="spacingAndGlyphs">F971L Treg spleen <tspan font-style="italic">TrbV</tspan> genes</text>
<text x="401.60" y="504.00" font-size="4.6" text-anchor="start" font-weight="normal" fill="#1e1e1e" stroke="#1e1e1e" stroke-width="0.22" textLength="21.10" lengthAdjust="spacingAndGlyphs" stroke-opacity="0.7">proximal</text>
<rect x="450.30" y="52.10" width="2.70" height="3.60" fill="#ad0b3d"/>
<rect x="450.30" y="55.70" width="2.70" height="5.40" fill="#2d4678"/>
<rect x="450.30" y="61.10" width="2.70" height="1.55" fill="#2d4678"/>
<rect x="450.30" y="62.65" width="2.70" height="1.55" fill="#ad0b3d"/>
<rect x="453.80" y="55.00" width="2.30" height="2.44" fill="#ad0b3d"/>
<rect x="453.80" y="57.44" width="2.30" height="3.66" fill="#2d4678"/>
<rect x="453.80" y="61.10" width="2.30" height="0.90" fill="#2d4678"/>
<rect x="453.80" y="62.00" width="2.30" height="0.90" fill="#ad0b3d"/>
<rect x="456.70" y="55.60" width="2.30" height="2.20" fill="#ad0b3d"/>
<rect x="456.70" y="57.80" width="2.30" height="3.30" fill="#2d4678"/>
<rect x="456.70" y="61.10" width="2.30" height="0.90" fill="#2d4678"/>
<rect x="456.70" y="62.00" width="2.30" height="0.90" fill="#ad0b3d"/>
<rect x="460.10" y="54.40" width="2.40" height="2.68" fill="#ad0b3d"/>
<rect x="460.10" y="57.08" width="2.40" height="4.02" fill="#2d4678"/>
<rect x="460.10" y="61.10" width="2.40" height="0.70" fill="#2d4678"/>
<rect x="460.10" y="61.80" width="2.40" height="0.70" fill="#ad0b3d"/>
<rect x="463.00" y="57.30" width="2.30" height="1.52" fill="#ad0b3d"/>
<rect x="463.00" y="58.82" width="2.30" height="2.28" fill="#2d4678"/>
<rect x="463.00" y="61.10" width="2.30" height="0.70" fill="#2d4678"/>
<rect x="463.00" y="61.80" width="2.30" height="0.70" fill="#ad0b3d"/>
<rect x="466.50" y="59.00" width="1.70" height="0.84" fill="#ad0b3d"/>
<rect x="466.50" y="59.84" width="1.70" height="1.26" fill="#2d4678"/>
<rect x="466.50" y="61.10" width="1.70" height="0.35" fill="#2d4678"/>
<rect x="466.50" y="61.45" width="1.70" height="0.35" fill="#ad0b3d"/>
<rect x="469.10" y="57.30" width="2.60" height="1.52" fill="#ad0b3d"/>
<rect x="469.10" y="58.82" width="2.60" height="2.28" fill="#2d4678"/>
<rect x="469.10" y="61.10" width="2.60" height="1.85" fill="#2d4678"/>
<rect x="469.10" y="62.95" width="2.60" height="1.85" fill="#ad0b3d"/>
<rect x="476.30" y="52.10" width="2.30" height="3.60" fill="#ad0b3d"/>
<rect x="476.30" y="55.70" width="2.30" height="5.40" fill="#2d4678"/>
<rect x="476.30" y="61.10" width="2.30" height="0.70" fill="#2d4678"/>
<rect x="476.30" y="61.80" width="2.30" height="0.70" fill="#ad0b3d"/>
<rect x="479.80" y="56.10" width="2.30" height="2.00" fill="#ad0b3d"/>
<rect x="479.80" y="58.10" width="2.30" height="3.00" fill="#2d4678"/>
<rect x="479.80" y="61.10" width="2.30" height="1.75" fill="#2d4678"/>
<rect x="479.80" y="62.85" width="2.30" height="1.75" fill="#ad0b3d"/>
<rect x="483.80" y="52.70" width="2.30" height="3.36" fill="#ad0b3d"/>
<rect x="483.80" y="56.06" width="2.30" height="5.04" fill="#2d4678"/>
<rect x="483.80" y="61.10" width="2.30" height="1.25" fill="#2d4678"/>
<rect x="483.80" y="62.35" width="2.30" height="1.25" fill="#ad0b3d"/>
<rect x="487.60" y="54.10" width="2.30" height="2.80" fill="#ad0b3d"/>
<rect x="487.60" y="56.90" width="2.30" height="4.20" fill="#2d4678"/>
<rect x="487.60" y="61.10" width="2.30" height="1.55" fill="#2d4678"/>
<rect x="487.60" y="62.65" width="2.30" height="1.55" fill="#ad0b3d"/>
<rect x="491.30" y="52.10" width="2.50" height="3.60" fill="#ad0b3d"/>
<rect x="491.30" y="55.70" width="2.50" height="5.40" fill="#2d4678"/>
<rect x="491.30" y="61.10" width="2.50" height="12.90" fill="#2d4678"/>
<rect x="498.70" y="46.60" width="2.80" height="9.40" fill="#ad0b3d"/>
<rect x="498.70" y="56.00" width="2.80" height="40.40" fill="#2d4678"/>
<rect x="498.70" y="96.40" width="2.80" height="13.60" fill="#ad0b3d"/>
<line x1="447.80" y1="42.00" x2="447.80" y2="113.00" stroke="#6a6a6a" stroke-width="1.0"/>
<line x1="445.40" y1="61.10" x2="447.80" y2="61.10" stroke="#444" stroke-width="0.8"/>
<text x="441.80" y="62.97" font-size="5.2" text-anchor="end" font-weight="normal" fill="#1e1e1e" stroke="#1e1e1e" stroke-width="0.22" stroke-opacity="0.7">0</text>
<line x1="445.40" y1="52.75" x2="447.80" y2="52.75" stroke="#444" stroke-width="0.8"/>
<text x="441.80" y="54.62" font-size="5.2" text-anchor="end" font-weight="normal" fill="#1e1e1e" stroke="#1e1e1e" stroke-width="0.22" stroke-opacity="0.7">10</text>
<line x1="445.40" y1="44.40" x2="447.80" y2="44.40" stroke="#444" stroke-width="0.8"/>
<text x="441.80" y="46.27" font-size="5.2" text-anchor="end" font-weight="normal" fill="#1e1e1e" stroke="#1e1e1e" stroke-width="0.22" stroke-opacity="0.7">20</text>
<line x1="445.40" y1="69.52" x2="447.80" y2="69.52" stroke="#444" stroke-width="0.8"/>
<text x="441.80" y="71.39" font-size="5.2" text-anchor="end" font-weight="normal" fill="#1e1e1e" stroke="#1e1e1e" stroke-width="0.22" stroke-opacity="0.7">10</text>
<line x1="445.40" y1="77.94" x2="447.80" y2="77.94" stroke="#444" stroke-width="0.8"/>
<text x="441.80" y="79.81" font-size="5.2" text-anchor="end" font-weight="normal" fill="#1e1e1e" stroke="#1e1e1e" stroke-width="0.22" stroke-opacity="0.7">20</text>
<line x1="445.40" y1="86.36" x2="447.80" y2="86.36" stroke="#444" stroke-width="0.8"/>
<text x="441.80" y="88.23" font-size="5.2" text-anchor="end" font-weight="normal" fill="#1e1e1e" stroke="#1e1e1e" stroke-width="0.22" stroke-opacity="0.7">30</text>
<line x1="445.40" y1="94.78" x2="447.80" y2="94.78" stroke="#444" stroke-width="0.8"/>
<text x="441.80" y="96.65" font-size="5.2" text-anchor="end" font-weight="normal" fill="#1e1e1e" stroke="#1e1e1e" stroke-width="0.22" stroke-opacity="0.7">40</text>
<line x1="445.40" y1="103.20" x2="447.80" y2="103.20" stroke="#444" stroke-width="0.8"/>
<text x="441.80" y="105.07" font-size="5.2" text-anchor="end" font-weight="normal" fill="#1e1e1e" stroke="#1e1e1e" stroke-width="0.22" stroke-opacity="0.7">50</text>
<line x1="445.40" y1="111.62" x2="447.80" y2="111.62" stroke="#444" stroke-width="0.8"/>
<text x="441.80" y="113.49" font-size="5.2" text-anchor="end" font-weight="normal" fill="#1e1e1e" stroke="#1e1e1e" stroke-width="0.22" stroke-opacity="0.7">60</text>
<line x1="447.80" y1="61.10" x2="505.00" y2="61.10" stroke="#2a2a44" stroke-width="0.8"/>
<text x="430.50" y="76.30" font-size="6.4" text-anchor="middle" font-weight="normal" fill="#1e1e1e" stroke="#1e1e1e" stroke-width="0.1" transform="rotate(-90 430.50 76.30)" textLength="92.70" lengthAdjust="spacingAndGlyphs" style="stroke-width:0.2px">Utilization (% of unique sequences)</text>
<text x="456.20" y="26.10" font-size="6.3" text-anchor="start" font-weight="normal" fill="#1e1e1e" stroke="#1e1e1e" stroke-width="0.1" textLength="40.00" lengthAdjust="spacingAndGlyphs">WT DN4 <tspan font-style="italic">TrbJ</tspan></text>
<text x="450.00" y="122.30" font-size="6.2" text-anchor="start" font-weight="normal" fill="#1e1e1e" stroke="#1e1e1e" stroke-width="0.1" textLength="50.00" lengthAdjust="spacingAndGlyphs">R972Q DN4 <tspan font-style="italic">TrbJ</tspan></text>
<path d="M450.90 67.10 L450.90 69.40 L474.20 69.40 L474.20 67.10" stroke="#1a1a1a" stroke-width="0.95" fill="none"/>
<path d="M476.30 75.20 L476.30 77.50 L494.70 77.50 L494.70 75.20" stroke="#1a1a1a" stroke-width="0.95" fill="none"/>
<text x="450.90" y="75.60" font-size="4.3" text-anchor="start" font-weight="normal" fill="#555" stroke="#555" stroke-width="0.22" textLength="25.00" lengthAdjust="spacingAndGlyphs" stroke-opacity="0.3">J<tspan font-size="2.8" dy="0.9">β</tspan><tspan dy="-0.9">1-1 to J</tspan><tspan font-size="2.8" dy="0.9">β</tspan><tspan dy="-0.9">1-7</tspan></text>
<text x="472.30" y="83.50" font-size="4.3" text-anchor="start" font-weight="normal" fill="#555" stroke="#555" stroke-width="0.22" textLength="24.70" lengthAdjust="spacingAndGlyphs" stroke-opacity="0.3">J<tspan font-size="2.8" dy="0.9">β</tspan><tspan dy="-0.9">2-1 to J</tspan><tspan font-size="2.8" dy="0.9">β</tspan><tspan dy="-0.9">2-7</tspan></text>
<rect x="195.70" y="177.10" width="2.50" height="3.36" fill="#ad0b3d"/>
<rect x="195.70" y="180.46" width="2.50" height="5.04" fill="#2d4678"/>
<rect x="195.70" y="185.50" width="2.50" height="0.60" fill="#2d4678"/>
<rect x="195.70" y="186.10" width="2.50" height="0.60" fill="#ad0b3d"/>
<rect x="200.00" y="180.00" width="2.30" height="2.20" fill="#ad0b3d"/>
<rect x="200.00" y="182.20" width="2.30" height="3.30" fill="#2d4678"/>
<rect x="200.00" y="185.50" width="2.30" height="0.25" fill="#2d4678"/>
<rect x="200.00" y="185.75" width="2.30" height="0.25" fill="#ad0b3d"/>
<rect x="203.40" y="180.60" width="2.30" height="1.96" fill="#ad0b3d"/>
<rect x="203.40" y="182.56" width="2.30" height="2.94" fill="#2d4678"/>
<rect x="203.40" y="185.50" width="2.30" height="0.25" fill="#2d4678"/>
<rect x="203.40" y="185.75" width="2.30" height="0.25" fill="#ad0b3d"/>
<rect x="207.50" y="179.10" width="2.30" height="2.56" fill="#ad0b3d"/>
<rect x="207.50" y="181.66" width="2.30" height="3.84" fill="#2d4678"/>
<rect x="207.50" y="185.50" width="2.30" height="0.25" fill="#2d4678"/>
<rect x="207.50" y="185.75" width="2.30" height="0.25" fill="#ad0b3d"/>
<rect x="211.30" y="182.30" width="1.90" height="1.28" fill="#ad0b3d"/>
<rect x="211.30" y="183.58" width="1.90" height="1.92" fill="#2d4678"/>
<rect x="211.30" y="185.50" width="1.90" height="0.25" fill="#2d4678"/>
<rect x="211.30" y="185.75" width="1.90" height="0.25" fill="#ad0b3d"/>
<rect x="215.00" y="182.10" width="2.30" height="1.36" fill="#ad0b3d"/>
<rect x="215.00" y="183.46" width="2.30" height="2.04" fill="#2d4678"/>
<rect x="215.00" y="185.50" width="2.30" height="1.30" fill="#2d4678"/>
<rect x="215.00" y="186.80" width="2.30" height="1.30" fill="#ad0b3d"/>
<rect x="222.20" y="177.70" width="2.30" height="3.12" fill="#ad0b3d"/>
<rect x="222.20" y="180.82" width="2.30" height="4.68" fill="#2d4678"/>
<rect x="222.20" y="185.50" width="2.30" height="1.85" fill="#2d4678"/>
<rect x="222.20" y="187.35" width="2.30" height="1.85" fill="#ad0b3d"/>
<rect x="226.10" y="180.90" width="2.10" height="1.84" fill="#ad0b3d"/>
<rect x="226.10" y="182.74" width="2.10" height="2.76" fill="#2d4678"/>
<rect x="226.10" y="185.50" width="2.10" height="0.50" fill="#2d4678"/>
<rect x="226.10" y="186.00" width="2.10" height="0.50" fill="#ad0b3d"/>
<rect x="229.60" y="178.30" width="2.30" height="2.88" fill="#ad0b3d"/>
<rect x="229.60" y="181.18" width="2.30" height="4.32" fill="#2d4678"/>
<rect x="229.60" y="185.50" width="2.30" height="1.00" fill="#2d4678"/>
<rect x="229.60" y="186.50" width="2.30" height="1.00" fill="#ad0b3d"/>
<rect x="233.40" y="179.40" width="2.30" height="2.44" fill="#ad0b3d"/>
<rect x="233.40" y="181.84" width="2.30" height="3.66" fill="#2d4678"/>
<rect x="233.40" y="185.50" width="2.30" height="1.15" fill="#2d4678"/>
<rect x="233.40" y="186.65" width="2.30" height="1.15" fill="#ad0b3d"/>
<rect x="236.90" y="176.50" width="2.80" height="3.60" fill="#ad0b3d"/>
<rect x="236.90" y="180.10" width="2.80" height="5.40" fill="#2d4678"/>
<rect x="236.90" y="185.50" width="2.80" height="10.90" fill="#2d4678"/>
<rect x="244.10" y="174.00" width="3.20" height="2.50" fill="#ad0b3d"/>
<rect x="244.10" y="176.50" width="3.20" height="56.90" fill="#2d4678"/>
<rect x="244.10" y="233.40" width="3.20" height="5.10" fill="#ad0b3d"/>
<line x1="192.70" y1="167.00" x2="192.70" y2="242.00" stroke="#6a6a6a" stroke-width="1.0"/>
<line x1="190.30" y1="185.50" x2="192.70" y2="185.50" stroke="#444" stroke-width="0.8"/>
<text x="186.70" y="187.37" font-size="5.2" text-anchor="end" font-weight="normal" fill="#1e1e1e" stroke="#1e1e1e" stroke-width="0.22" stroke-opacity="0.7">0</text>
<line x1="190.30" y1="177.50" x2="192.70" y2="177.50" stroke="#444" stroke-width="0.8"/>
<text x="186.70" y="179.37" font-size="5.2" text-anchor="end" font-weight="normal" fill="#1e1e1e" stroke="#1e1e1e" stroke-width="0.22" stroke-opacity="0.7">10</text>
<line x1="190.30" y1="169.50" x2="192.70" y2="169.50" stroke="#444" stroke-width="0.8"/>
<text x="186.70" y="171.37" font-size="5.2" text-anchor="end" font-weight="normal" fill="#1e1e1e" stroke="#1e1e1e" stroke-width="0.22" stroke-opacity="0.7">20</text>
<line x1="190.30" y1="193.30" x2="192.70" y2="193.30" stroke="#444" stroke-width="0.8"/>
<text x="186.70" y="195.17" font-size="5.2" text-anchor="end" font-weight="normal" fill="#1e1e1e" stroke="#1e1e1e" stroke-width="0.22" stroke-opacity="0.7">10</text>
<line x1="190.30" y1="201.10" x2="192.70" y2="201.10" stroke="#444" stroke-width="0.8"/>
<text x="186.70" y="202.97" font-size="5.2" text-anchor="end" font-weight="normal" fill="#1e1e1e" stroke="#1e1e1e" stroke-width="0.22" stroke-opacity="0.7">20</text>
<line x1="190.30" y1="208.90" x2="192.70" y2="208.90" stroke="#444" stroke-width="0.8"/>
<text x="186.70" y="210.77" font-size="5.2" text-anchor="end" font-weight="normal" fill="#1e1e1e" stroke="#1e1e1e" stroke-width="0.22" stroke-opacity="0.7">30</text>
<line x1="190.30" y1="216.70" x2="192.70" y2="216.70" stroke="#444" stroke-width="0.8"/>
<text x="186.70" y="218.57" font-size="5.2" text-anchor="end" font-weight="normal" fill="#1e1e1e" stroke="#1e1e1e" stroke-width="0.22" stroke-opacity="0.7">40</text>
<line x1="190.30" y1="224.50" x2="192.70" y2="224.50" stroke="#444" stroke-width="0.8"/>
<text x="186.70" y="226.37" font-size="5.2" text-anchor="end" font-weight="normal" fill="#1e1e1e" stroke="#1e1e1e" stroke-width="0.22" stroke-opacity="0.7">50</text>
<line x1="190.30" y1="232.30" x2="192.70" y2="232.30" stroke="#444" stroke-width="0.8"/>
<text x="186.70" y="234.17" font-size="5.2" text-anchor="end" font-weight="normal" fill="#1e1e1e" stroke="#1e1e1e" stroke-width="0.22" stroke-opacity="0.7">60</text>
<line x1="190.30" y1="240.10" x2="192.70" y2="240.10" stroke="#444" stroke-width="0.8"/>
<text x="186.70" y="241.97" font-size="5.2" text-anchor="end" font-weight="normal" fill="#1e1e1e" stroke="#1e1e1e" stroke-width="0.22" stroke-opacity="0.7">70</text>
<line x1="192.70" y1="185.50" x2="250.00" y2="185.50" stroke="#2a2a44" stroke-width="0.8"/>
<text x="175.40" y="203.60" font-size="6.4" text-anchor="middle" font-weight="normal" fill="#1e1e1e" stroke="#1e1e1e" stroke-width="0.1" transform="rotate(-90 175.40 203.60)" textLength="92.70" lengthAdjust="spacingAndGlyphs" style="stroke-width:0.2px">Utilization (% of unique sequences)</text>
<text x="203.20" y="152.10" font-size="6.3" text-anchor="start" font-weight="normal" fill="#1e1e1e" stroke="#1e1e1e" stroke-width="0.1" textLength="34.60" lengthAdjust="spacingAndGlyphs">WT DP <tspan font-style="italic">TrbJ</tspan></text>
<text x="199.20" y="251.20" font-size="6.2" text-anchor="start" font-weight="normal" fill="#1e1e1e" stroke="#1e1e1e" stroke-width="0.1" textLength="44.60" lengthAdjust="spacingAndGlyphs">R972Q DP <tspan font-style="italic">TrbJ</tspan></text>
<path d="M196.20 191.30 L196.20 193.60 L219.20 193.60 L219.20 191.30" stroke="#1a1a1a" stroke-width="0.95" fill="none"/>
<path d="M221.30 199.00 L221.30 201.30 L239.70 201.30 L239.70 199.00" stroke="#1a1a1a" stroke-width="0.95" fill="none"/>
<text x="196.20" y="199.40" font-size="4.3" text-anchor="start" font-weight="normal" fill="#555" stroke="#555" stroke-width="0.22" textLength="25.00" lengthAdjust="spacingAndGlyphs" stroke-opacity="0.3">J<tspan font-size="2.8" dy="0.9">β</tspan><tspan dy="-0.9">1-1 to J</tspan><tspan font-size="2.8" dy="0.9">β</tspan><tspan dy="-0.9">1-7</tspan></text>
<text x="217.80" y="207.70" font-size="4.3" text-anchor="start" font-weight="normal" fill="#555" stroke="#555" stroke-width="0.22" textLength="24.80" lengthAdjust="spacingAndGlyphs" stroke-opacity="0.3">J<tspan font-size="2.8" dy="0.9">β</tspan><tspan dy="-0.9">2-1 to J</tspan><tspan font-size="2.8" dy="0.9">β</tspan><tspan dy="-0.9">2-7</tspan></text>
<rect x="450.00" y="180.00" width="2.70" height="3.00" fill="#ad0b3d"/>
<rect x="450.00" y="183.00" width="2.70" height="4.50" fill="#2d4678"/>
<rect x="450.00" y="187.50" width="2.70" height="1.15" fill="#2d4678"/>
<rect x="450.00" y="188.65" width="2.70" height="1.15" fill="#ad0b3d"/>
<rect x="454.10" y="182.30" width="2.40" height="2.08" fill="#ad0b3d"/>
<rect x="454.10" y="184.38" width="2.40" height="3.12" fill="#2d4678"/>
<rect x="454.10" y="187.50" width="2.40" height="0.55" fill="#2d4678"/>
<rect x="454.10" y="188.05" width="2.40" height="0.55" fill="#ad0b3d"/>
<rect x="457.60" y="182.90" width="2.30" height="1.84" fill="#ad0b3d"/>
<rect x="457.60" y="184.74" width="2.30" height="2.76" fill="#2d4678"/>
<rect x="457.60" y="187.50" width="2.30" height="0.55" fill="#2d4678"/>
<rect x="457.60" y="188.05" width="2.30" height="0.55" fill="#ad0b3d"/>
<rect x="461.30" y="181.10" width="2.30" height="2.56" fill="#ad0b3d"/>
<rect x="461.30" y="183.66" width="2.30" height="3.84" fill="#2d4678"/>
<rect x="461.30" y="187.50" width="2.30" height="0.55" fill="#2d4678"/>
<rect x="461.30" y="188.05" width="2.30" height="0.55" fill="#ad0b3d"/>
<rect x="465.30" y="184.60" width="2.30" height="1.16" fill="#ad0b3d"/>
<rect x="465.30" y="185.76" width="2.30" height="1.74" fill="#2d4678"/>
<rect x="465.30" y="187.50" width="2.30" height="0.55" fill="#2d4678"/>
<rect x="465.30" y="188.05" width="2.30" height="0.55" fill="#ad0b3d"/>
<rect x="469.40" y="184.00" width="2.30" height="1.40" fill="#ad0b3d"/>
<rect x="469.40" y="185.40" width="2.30" height="2.10" fill="#2d4678"/>
<rect x="469.40" y="187.50" width="2.30" height="5.20" fill="#2d4678"/>
<rect x="476.90" y="180.00" width="2.30" height="3.00" fill="#ad0b3d"/>
<rect x="476.90" y="183.00" width="2.30" height="4.50" fill="#2d4678"/>
<rect x="476.90" y="187.50" width="2.30" height="5.80" fill="#2d4678"/>
<rect x="480.70" y="182.10" width="2.30" height="2.16" fill="#ad0b3d"/>
<rect x="480.70" y="184.26" width="2.30" height="3.24" fill="#2d4678"/>
<rect x="480.70" y="187.50" width="2.30" height="0.85" fill="#2d4678"/>
<rect x="480.70" y="188.35" width="2.30" height="0.85" fill="#ad0b3d"/>
<rect x="484.40" y="180.90" width="2.30" height="2.64" fill="#ad0b3d"/>
<rect x="484.40" y="183.54" width="2.30" height="3.96" fill="#2d4678"/>
<rect x="484.40" y="187.50" width="2.30" height="0.85" fill="#2d4678"/>
<rect x="484.40" y="188.35" width="2.30" height="0.85" fill="#ad0b3d"/>
<rect x="488.40" y="182.10" width="2.30" height="2.16" fill="#ad0b3d"/>
<rect x="488.40" y="184.26" width="2.30" height="3.24" fill="#2d4678"/>
<rect x="488.40" y="187.50" width="2.30" height="1.15" fill="#2d4678"/>
<rect x="488.40" y="188.65" width="2.30" height="1.15" fill="#ad0b3d"/>
<rect x="492.20" y="178.80" width="2.30" height="3.48" fill="#ad0b3d"/>
<rect x="492.20" y="182.28" width="2.30" height="5.22" fill="#2d4678"/>
<rect x="492.20" y="187.50" width="2.30" height="5.20" fill="#2d4678"/>
<rect x="499.10" y="176.60" width="2.70" height="3.40" fill="#ad0b3d"/>
<rect x="499.10" y="180.00" width="2.70" height="57.60" fill="#2d4678"/>
<rect x="499.10" y="237.60" width="2.70" height="2.70" fill="#ad0b3d"/>
<line x1="446.60" y1="170.00" x2="446.60" y2="242.00" stroke="#6a6a6a" stroke-width="1.0"/>
<line x1="444.20" y1="187.50" x2="446.60" y2="187.50" stroke="#444" stroke-width="0.8"/>
<text x="440.60" y="189.37" font-size="5.2" text-anchor="end" font-weight="normal" fill="#1e1e1e" stroke="#1e1e1e" stroke-width="0.22" stroke-opacity="0.7">0</text>
<line x1="444.20" y1="179.90" x2="446.60" y2="179.90" stroke="#444" stroke-width="0.8"/>
<text x="440.60" y="181.77" font-size="5.2" text-anchor="end" font-weight="normal" fill="#1e1e1e" stroke="#1e1e1e" stroke-width="0.22" stroke-opacity="0.7">10</text>
<line x1="444.20" y1="172.30" x2="446.60" y2="172.30" stroke="#444" stroke-width="0.8"/>
<text x="440.60" y="174.17" font-size="5.2" text-anchor="end" font-weight="normal" fill="#1e1e1e" stroke="#1e1e1e" stroke-width="0.22" stroke-opacity="0.7">20</text>
<line x1="444.20" y1="194.95" x2="446.60" y2="194.95" stroke="#444" stroke-width="0.8"/>
<text x="440.60" y="196.82" font-size="5.2" text-anchor="end" font-weight="normal" fill="#1e1e1e" stroke="#1e1e1e" stroke-width="0.22" stroke-opacity="0.7">10</text>
<line x1="444.20" y1="202.40" x2="446.60" y2="202.40" stroke="#444" stroke-width="0.8"/>
<text x="440.60" y="204.27" font-size="5.2" text-anchor="end" font-weight="normal" fill="#1e1e1e" stroke="#1e1e1e" stroke-width="0.22" stroke-opacity="0.7">20</text>
<line x1="444.20" y1="209.85" x2="446.60" y2="209.85" stroke="#444" stroke-width="0.8"/>
<text x="440.60" y="211.72" font-size="5.2" text-anchor="end" font-weight="normal" fill="#1e1e1e" stroke="#1e1e1e" stroke-width="0.22" stroke-opacity="0.7">30</text>
<line x1="444.20" y1="217.30" x2="446.60" y2="217.30" stroke="#444" stroke-width="0.8"/>
<text x="440.60" y="219.17" font-size="5.2" text-anchor="end" font-weight="normal" fill="#1e1e1e" stroke="#1e1e1e" stroke-width="0.22" stroke-opacity="0.7">40</text>
<line x1="444.20" y1="224.75" x2="446.60" y2="224.75" stroke="#444" stroke-width="0.8"/>
<text x="440.60" y="226.62" font-size="5.2" text-anchor="end" font-weight="normal" fill="#1e1e1e" stroke="#1e1e1e" stroke-width="0.22" stroke-opacity="0.7">50</text>
<line x1="444.20" y1="232.20" x2="446.60" y2="232.20" stroke="#444" stroke-width="0.8"/>
<text x="440.60" y="234.07" font-size="5.2" text-anchor="end" font-weight="normal" fill="#1e1e1e" stroke="#1e1e1e" stroke-width="0.22" stroke-opacity="0.7">60</text>
<line x1="444.20" y1="239.65" x2="446.60" y2="239.65" stroke="#444" stroke-width="0.8"/>
<text x="440.60" y="241.52" font-size="5.2" text-anchor="end" font-weight="normal" fill="#1e1e1e" stroke="#1e1e1e" stroke-width="0.22" stroke-opacity="0.7">70</text>
<line x1="446.60" y1="187.50" x2="505.00" y2="187.50" stroke="#2a2a44" stroke-width="0.8"/>
<text x="429.30" y="204.60" font-size="6.4" text-anchor="middle" font-weight="normal" fill="#1e1e1e" stroke="#1e1e1e" stroke-width="0.1" transform="rotate(-90 429.30 204.60)" textLength="92.70" lengthAdjust="spacingAndGlyphs" style="stroke-width:0.2px">Utilization (% of unique sequences)</text>
<text x="458.50" y="152.00" font-size="6.3" text-anchor="start" font-weight="normal" fill="#1e1e1e" stroke="#1e1e1e" stroke-width="0.1" textLength="35.70" lengthAdjust="spacingAndGlyphs">WT DP <tspan font-style="italic">TrbJ</tspan></text>
<text x="454.60" y="250.40" font-size="6.2" text-anchor="start" font-weight="normal" fill="#1e1e1e" stroke="#1e1e1e" stroke-width="0.1" textLength="43.10" lengthAdjust="spacingAndGlyphs">F791L DP <tspan font-style="italic">TrbJ</tspan></text>
<path d="M451.20 194.80 L451.20 197.10 L474.60 197.10 L474.60 194.80" stroke="#1a1a1a" stroke-width="0.95" fill="none"/>
<path d="M476.30 202.50 L476.30 204.80 L494.70 204.80 L494.70 202.50" stroke="#1a1a1a" stroke-width="0.95" fill="none"/>
<text x="451.20" y="203.10" font-size="4.3" text-anchor="start" font-weight="normal" fill="#555" stroke="#555" stroke-width="0.22" textLength="25.00" lengthAdjust="spacingAndGlyphs" stroke-opacity="0.3">J<tspan font-size="2.8" dy="0.9">β</tspan><tspan dy="-0.9">1-1 to J</tspan><tspan font-size="2.8" dy="0.9">β</tspan><tspan dy="-0.9">1-7</tspan></text>
<text x="472.00" y="211.20" font-size="4.3" text-anchor="start" font-weight="normal" fill="#555" stroke="#555" stroke-width="0.22" textLength="24.80" lengthAdjust="spacingAndGlyphs" stroke-opacity="0.3">J<tspan font-size="2.8" dy="0.9">β</tspan><tspan dy="-0.9">2-1 to J</tspan><tspan font-size="2.8" dy="0.9">β</tspan><tspan dy="-0.9">2-7</tspan></text>
<rect x="196.20" y="306.40" width="2.30" height="1.64" fill="#ad0b3d"/>
<rect x="196.20" y="308.04" width="2.30" height="2.46" fill="#2d4678"/>
<rect x="196.20" y="310.50" width="2.30" height="0.40" fill="#2d4678"/>
<rect x="196.20" y="310.90" width="2.30" height="0.40" fill="#ad0b3d"/>
<rect x="199.60" y="304.40" width="2.30" height="2.44" fill="#ad0b3d"/>
<rect x="199.60" y="306.84" width="2.30" height="3.66" fill="#2d4678"/>
<rect x="199.60" y="310.50" width="2.30" height="0.15" fill="#2d4678"/>
<rect x="199.60" y="310.65" width="2.30" height="0.15" fill="#ad0b3d"/>
<rect x="203.10" y="304.40" width="2.30" height="2.44" fill="#ad0b3d"/>
<rect x="203.10" y="306.84" width="2.30" height="3.66" fill="#2d4678"/>
<rect x="203.10" y="310.50" width="2.30" height="0.15" fill="#2d4678"/>
<rect x="203.10" y="310.65" width="2.30" height="0.15" fill="#ad0b3d"/>
<rect x="206.90" y="303.60" width="2.60" height="2.76" fill="#ad0b3d"/>
<rect x="206.90" y="306.36" width="2.60" height="4.14" fill="#2d4678"/>
<rect x="206.90" y="310.50" width="2.60" height="0.40" fill="#2d4678"/>
<rect x="206.90" y="310.90" width="2.60" height="0.40" fill="#ad0b3d"/>
<rect x="210.90" y="306.70" width="2.30" height="1.52" fill="#ad0b3d"/>
<rect x="210.90" y="308.22" width="2.30" height="2.28" fill="#2d4678"/>
<rect x="210.90" y="310.50" width="2.30" height="0.40" fill="#2d4678"/>
<rect x="210.90" y="310.90" width="2.30" height="0.40" fill="#ad0b3d"/>
<rect x="214.40" y="307.30" width="2.50" height="1.28" fill="#ad0b3d"/>
<rect x="214.40" y="308.58" width="2.50" height="1.92" fill="#2d4678"/>
<rect x="214.40" y="310.50" width="2.50" height="1.85" fill="#2d4678"/>
<rect x="214.40" y="312.35" width="2.50" height="1.85" fill="#ad0b3d"/>
<rect x="221.50" y="302.10" width="2.70" height="3.36" fill="#ad0b3d"/>
<rect x="221.50" y="305.46" width="2.70" height="5.04" fill="#2d4678"/>
<rect x="221.50" y="310.50" width="2.70" height="1.85" fill="#2d4678"/>
<rect x="221.50" y="312.35" width="2.70" height="1.85" fill="#ad0b3d"/>
<rect x="225.30" y="304.80" width="2.30" height="2.28" fill="#ad0b3d"/>
<rect x="225.30" y="307.08" width="2.30" height="3.42" fill="#2d4678"/>
<rect x="225.30" y="310.50" width="2.30" height="0.40" fill="#2d4678"/>
<rect x="225.30" y="310.90" width="2.30" height="0.40" fill="#ad0b3d"/>
<rect x="228.80" y="302.90" width="2.60" height="3.04" fill="#ad0b3d"/>
<rect x="228.80" y="305.94" width="2.60" height="4.56" fill="#2d4678"/>
<rect x="228.80" y="310.50" width="2.60" height="1.00" fill="#2d4678"/>
<rect x="228.80" y="311.50" width="2.60" height="1.00" fill="#ad0b3d"/>
<rect x="232.60" y="303.80" width="2.30" height="2.68" fill="#ad0b3d"/>
<rect x="232.60" y="306.48" width="2.30" height="4.02" fill="#2d4678"/>
<rect x="232.60" y="310.50" width="2.30" height="1.75" fill="#2d4678"/>
<rect x="232.60" y="312.25" width="2.30" height="1.75" fill="#ad0b3d"/>
<rect x="236.30" y="300.20" width="2.90" height="4.12" fill="#ad0b3d"/>
<rect x="236.30" y="304.32" width="2.90" height="6.18" fill="#2d4678"/>
<rect x="236.30" y="310.50" width="2.90" height="11.80" fill="#2d4678"/>
<rect x="243.80" y="294.40" width="2.90" height="4.80" fill="#ad0b3d"/>
<rect x="243.80" y="299.20" width="2.90" height="59.80" fill="#2d4678"/>
<rect x="243.80" y="359.00" width="2.90" height="3.70" fill="#ad0b3d"/>
<line x1="192.50" y1="292.50" x2="192.50" y2="367.00" stroke="#6a6a6a" stroke-width="1.0"/>
<line x1="190.10" y1="310.50" x2="192.50" y2="310.50" stroke="#444" stroke-width="0.8"/>
<text x="186.50" y="312.37" font-size="5.2" text-anchor="end" font-weight="normal" fill="#1e1e1e" stroke="#1e1e1e" stroke-width="0.22" stroke-opacity="0.7">0</text>
<line x1="190.10" y1="302.80" x2="192.50" y2="302.80" stroke="#444" stroke-width="0.8"/>
<text x="186.50" y="304.67" font-size="5.2" text-anchor="end" font-weight="normal" fill="#1e1e1e" stroke="#1e1e1e" stroke-width="0.22" stroke-opacity="0.7">10</text>
<line x1="190.10" y1="295.10" x2="192.50" y2="295.10" stroke="#444" stroke-width="0.8"/>
<text x="186.50" y="296.97" font-size="5.2" text-anchor="end" font-weight="normal" fill="#1e1e1e" stroke="#1e1e1e" stroke-width="0.22" stroke-opacity="0.7">20</text>
<line x1="190.10" y1="318.23" x2="192.50" y2="318.23" stroke="#444" stroke-width="0.8"/>
<text x="186.50" y="320.10" font-size="5.2" text-anchor="end" font-weight="normal" fill="#1e1e1e" stroke="#1e1e1e" stroke-width="0.22" stroke-opacity="0.7">10</text>
<line x1="190.10" y1="325.96" x2="192.50" y2="325.96" stroke="#444" stroke-width="0.8"/>
<text x="186.50" y="327.83" font-size="5.2" text-anchor="end" font-weight="normal" fill="#1e1e1e" stroke="#1e1e1e" stroke-width="0.22" stroke-opacity="0.7">20</text>
<line x1="190.10" y1="333.69" x2="192.50" y2="333.69" stroke="#444" stroke-width="0.8"/>
<text x="186.50" y="335.56" font-size="5.2" text-anchor="end" font-weight="normal" fill="#1e1e1e" stroke="#1e1e1e" stroke-width="0.22" stroke-opacity="0.7">30</text>
<line x1="190.10" y1="341.42" x2="192.50" y2="341.42" stroke="#444" stroke-width="0.8"/>
<text x="186.50" y="343.29" font-size="5.2" text-anchor="end" font-weight="normal" fill="#1e1e1e" stroke="#1e1e1e" stroke-width="0.22" stroke-opacity="0.7">40</text>
<line x1="190.10" y1="349.15" x2="192.50" y2="349.15" stroke="#444" stroke-width="0.8"/>
<text x="186.50" y="351.02" font-size="5.2" text-anchor="end" font-weight="normal" fill="#1e1e1e" stroke="#1e1e1e" stroke-width="0.22" stroke-opacity="0.7">50</text>
<line x1="190.10" y1="356.88" x2="192.50" y2="356.88" stroke="#444" stroke-width="0.8"/>
<text x="186.50" y="358.75" font-size="5.2" text-anchor="end" font-weight="normal" fill="#1e1e1e" stroke="#1e1e1e" stroke-width="0.22" stroke-opacity="0.7">60</text>
<line x1="190.10" y1="364.61" x2="192.50" y2="364.61" stroke="#444" stroke-width="0.8"/>
<text x="186.50" y="366.48" font-size="5.2" text-anchor="end" font-weight="normal" fill="#1e1e1e" stroke="#1e1e1e" stroke-width="0.22" stroke-opacity="0.7">70</text>
<line x1="192.50" y1="310.50" x2="251.00" y2="310.50" stroke="#2a2a44" stroke-width="0.8"/>
<text x="175.20" y="328.50" font-size="6.4" text-anchor="middle" font-weight="normal" fill="#1e1e1e" stroke="#1e1e1e" stroke-width="0.1" transform="rotate(-90 175.20 328.50)" textLength="92.70" lengthAdjust="spacingAndGlyphs" style="stroke-width:0.2px">Utilization (% of unique sequences)</text>
<text x="189.20" y="277.10" font-size="6.3" text-anchor="start" font-weight="normal" fill="#1e1e1e" stroke="#1e1e1e" stroke-width="0.1" textLength="64.30" lengthAdjust="spacingAndGlyphs">WT Tconv spleen <tspan font-style="italic">TrbJ</tspan></text>
<text x="183.80" y="374.30" font-size="6.2" text-anchor="start" font-weight="normal" fill="#1e1e1e" stroke="#1e1e1e" stroke-width="0.1" textLength="75.40" lengthAdjust="spacingAndGlyphs">R972Q Tconv spleen <tspan font-style="italic">TrbJ</tspan></text>
<path d="M195.30 321.70 L195.30 324.00 L218.80 324.00 L218.80 321.70" stroke="#1a1a1a" stroke-width="0.95" fill="none"/>
<path d="M221.30 329.00 L221.30 331.30 L238.60 331.30 L238.60 329.00" stroke="#1a1a1a" stroke-width="0.95" fill="none"/>
<text x="195.30" y="330.20" font-size="4.3" text-anchor="start" font-weight="normal" fill="#555" stroke="#555" stroke-width="0.22" textLength="25.00" lengthAdjust="spacingAndGlyphs" stroke-opacity="0.3">J<tspan font-size="2.8" dy="0.9">β</tspan><tspan dy="-0.9">1-1 to J</tspan><tspan font-size="2.8" dy="0.9">β</tspan><tspan dy="-0.9">1-7</tspan></text>
<text x="216.50" y="338.10" font-size="4.3" text-anchor="start" font-weight="normal" fill="#555" stroke="#555" stroke-width="0.22" textLength="24.80" lengthAdjust="spacingAndGlyphs" stroke-opacity="0.3">J<tspan font-size="2.8" dy="0.9">β</tspan><tspan dy="-0.9">2-1 to J</tspan><tspan font-size="2.8" dy="0.9">β</tspan><tspan dy="-0.9">2-7</tspan></text>
<rect x="450.50" y="303.80" width="2.70" height="1.36" fill="#ad0b3d"/>
<rect x="450.50" y="305.16" width="2.70" height="2.04" fill="#2d4678"/>
<rect x="450.50" y="307.20" width="2.70" height="0.70" fill="#2d4678"/>
<rect x="450.50" y="307.90" width="2.70" height="0.70" fill="#ad0b3d"/>
<rect x="454.50" y="301.80" width="2.70" height="2.16" fill="#ad0b3d"/>
<rect x="454.50" y="303.96" width="2.70" height="3.24" fill="#2d4678"/>
<rect x="454.50" y="307.20" width="2.70" height="0.35" fill="#2d4678"/>
<rect x="454.50" y="307.55" width="2.70" height="0.35" fill="#ad0b3d"/>
<rect x="458.80" y="301.80" width="2.70" height="2.16" fill="#ad0b3d"/>
<rect x="458.80" y="303.96" width="2.70" height="3.24" fill="#2d4678"/>
<rect x="458.80" y="307.20" width="2.70" height="0.35" fill="#2d4678"/>
<rect x="458.80" y="307.55" width="2.70" height="0.35" fill="#ad0b3d"/>
<rect x="462.80" y="300.50" width="3.00" height="2.68" fill="#ad0b3d"/>
<rect x="462.80" y="303.18" width="3.00" height="4.02" fill="#2d4678"/>
<rect x="462.80" y="307.20" width="3.00" height="0.35" fill="#2d4678"/>
<rect x="462.80" y="307.55" width="3.00" height="0.35" fill="#ad0b3d"/>
<rect x="466.90" y="303.80" width="2.90" height="1.36" fill="#ad0b3d"/>
<rect x="466.90" y="305.16" width="2.90" height="2.04" fill="#2d4678"/>
<rect x="466.90" y="307.20" width="2.90" height="0.35" fill="#2d4678"/>
<rect x="466.90" y="307.55" width="2.90" height="0.35" fill="#ad0b3d"/>
<rect x="470.90" y="304.90" width="3.00" height="0.92" fill="#ad0b3d"/>
<rect x="470.90" y="305.82" width="3.00" height="1.38" fill="#2d4678"/>
<rect x="470.90" y="307.20" width="3.00" height="7.40" fill="#2d4678"/>
<rect x="479.00" y="299.10" width="3.00" height="3.24" fill="#ad0b3d"/>
<rect x="479.00" y="302.34" width="3.00" height="4.86" fill="#2d4678"/>
<rect x="479.00" y="307.20" width="3.00" height="5.40" fill="#2d4678"/>
<rect x="483.30" y="301.80" width="2.70" height="2.16" fill="#ad0b3d"/>
<rect x="483.30" y="303.96" width="2.70" height="3.24" fill="#2d4678"/>
<rect x="483.30" y="307.20" width="2.70" height="0.35" fill="#2d4678"/>
<rect x="483.30" y="307.55" width="2.70" height="0.35" fill="#ad0b3d"/>
<rect x="487.10" y="300.10" width="2.90" height="2.84" fill="#ad0b3d"/>
<rect x="487.10" y="302.94" width="2.90" height="4.26" fill="#2d4678"/>
<rect x="487.10" y="307.20" width="2.90" height="1.00" fill="#2d4678"/>
<rect x="487.10" y="308.20" width="2.90" height="1.00" fill="#ad0b3d"/>
<rect x="491.10" y="301.20" width="3.00" height="2.40" fill="#ad0b3d"/>
<rect x="491.10" y="303.60" width="3.00" height="3.60" fill="#2d4678"/>
<rect x="491.10" y="307.20" width="3.00" height="1.70" fill="#2d4678"/>
<rect x="491.10" y="308.90" width="3.00" height="1.70" fill="#ad0b3d"/>
<rect x="495.40" y="297.10" width="3.10" height="4.04" fill="#ad0b3d"/>
<rect x="495.40" y="301.14" width="3.10" height="6.06" fill="#2d4678"/>
<rect x="495.40" y="307.20" width="3.10" height="6.30" fill="#2d4678"/>
<rect x="503.90" y="291.00" width="2.90" height="6.80" fill="#ad0b3d"/>
<rect x="503.90" y="297.80" width="2.90" height="62.20" fill="#2d4678"/>
<rect x="503.90" y="360.00" width="2.90" height="5.30" fill="#ad0b3d"/>
<line x1="447.40" y1="289.00" x2="447.40" y2="366.50" stroke="#6a6a6a" stroke-width="1.0"/>
<line x1="445.00" y1="307.20" x2="447.40" y2="307.20" stroke="#444" stroke-width="0.8"/>
<text x="441.40" y="309.07" font-size="5.2" text-anchor="end" font-weight="normal" fill="#1e1e1e" stroke="#1e1e1e" stroke-width="0.22" stroke-opacity="0.7">0</text>
<line x1="445.00" y1="299.15" x2="447.40" y2="299.15" stroke="#444" stroke-width="0.8"/>
<text x="441.40" y="301.02" font-size="5.2" text-anchor="end" font-weight="normal" fill="#1e1e1e" stroke="#1e1e1e" stroke-width="0.22" stroke-opacity="0.7">10</text>
<line x1="445.00" y1="291.10" x2="447.40" y2="291.10" stroke="#444" stroke-width="0.8"/>
<text x="441.40" y="292.97" font-size="5.2" text-anchor="end" font-weight="normal" fill="#1e1e1e" stroke="#1e1e1e" stroke-width="0.22" stroke-opacity="0.7">20</text>
<line x1="445.00" y1="315.30" x2="447.40" y2="315.30" stroke="#444" stroke-width="0.8"/>
<text x="441.40" y="317.17" font-size="5.2" text-anchor="end" font-weight="normal" fill="#1e1e1e" stroke="#1e1e1e" stroke-width="0.22" stroke-opacity="0.7">10</text>
<line x1="445.00" y1="323.40" x2="447.40" y2="323.40" stroke="#444" stroke-width="0.8"/>
<text x="441.40" y="325.27" font-size="5.2" text-anchor="end" font-weight="normal" fill="#1e1e1e" stroke="#1e1e1e" stroke-width="0.22" stroke-opacity="0.7">20</text>
<line x1="445.00" y1="331.50" x2="447.40" y2="331.50" stroke="#444" stroke-width="0.8"/>
<text x="441.40" y="333.37" font-size="5.2" text-anchor="end" font-weight="normal" fill="#1e1e1e" stroke="#1e1e1e" stroke-width="0.22" stroke-opacity="0.7">30</text>
<line x1="445.00" y1="339.60" x2="447.40" y2="339.60" stroke="#444" stroke-width="0.8"/>
<text x="441.40" y="341.47" font-size="5.2" text-anchor="end" font-weight="normal" fill="#1e1e1e" stroke="#1e1e1e" stroke-width="0.22" stroke-opacity="0.7">40</text>
<line x1="445.00" y1="347.70" x2="447.40" y2="347.70" stroke="#444" stroke-width="0.8"/>
<text x="441.40" y="349.57" font-size="5.2" text-anchor="end" font-weight="normal" fill="#1e1e1e" stroke="#1e1e1e" stroke-width="0.22" stroke-opacity="0.7">50</text>
<line x1="445.00" y1="355.80" x2="447.40" y2="355.80" stroke="#444" stroke-width="0.8"/>
<text x="441.40" y="357.67" font-size="5.2" text-anchor="end" font-weight="normal" fill="#1e1e1e" stroke="#1e1e1e" stroke-width="0.22" stroke-opacity="0.7">60</text>
<line x1="445.00" y1="363.90" x2="447.40" y2="363.90" stroke="#444" stroke-width="0.8"/>
<text x="441.40" y="365.77" font-size="5.2" text-anchor="end" font-weight="normal" fill="#1e1e1e" stroke="#1e1e1e" stroke-width="0.22" stroke-opacity="0.7">70</text>
<line x1="447.40" y1="307.20" x2="510.00" y2="307.20" stroke="#2a2a44" stroke-width="0.8"/>
<text x="430.10" y="326.30" font-size="6.4" text-anchor="middle" font-weight="normal" fill="#1e1e1e" stroke="#1e1e1e" stroke-width="0.1" transform="rotate(-90 430.10 326.30)" textLength="92.70" lengthAdjust="spacingAndGlyphs" style="stroke-width:0.2px">Utilization (% of unique sequences)</text>
<text x="444.00" y="276.80" font-size="6.3" text-anchor="start" font-weight="normal" fill="#1e1e1e" stroke="#1e1e1e" stroke-width="0.1" textLength="64.50" lengthAdjust="spacingAndGlyphs">WT Tconv spleen <tspan font-style="italic">TrbJ</tspan></text>
<text x="438.80" y="374.30" font-size="6.2" text-anchor="start" font-weight="normal" fill="#1e1e1e" stroke="#1e1e1e" stroke-width="0.1" textLength="72.40" lengthAdjust="spacingAndGlyphs">F971L Tconv spleen <tspan font-style="italic">TrbJ</tspan></text>
<path d="M452.00 317.00 L452.00 319.30 L476.30 319.30 L476.30 317.00" stroke="#1a1a1a" stroke-width="0.95" fill="none"/>
<path d="M479.70 324.70 L479.70 327.00 L497.80 327.00 L497.80 324.70" stroke="#1a1a1a" stroke-width="0.95" fill="none"/>
<text x="452.00" y="326.40" font-size="4.3" text-anchor="start" font-weight="normal" fill="#555" stroke="#555" stroke-width="0.22" textLength="25.00" lengthAdjust="spacingAndGlyphs" stroke-opacity="0.3">J<tspan font-size="2.8" dy="0.9">β</tspan><tspan dy="-0.9">1-1 to J</tspan><tspan font-size="2.8" dy="0.9">β</tspan><tspan dy="-0.9">1-7</tspan></text>
<text x="475.50" y="334.20" font-size="4.3" text-anchor="start" font-weight="normal" fill="#555" stroke="#555" stroke-width="0.22" textLength="24.80" lengthAdjust="spacingAndGlyphs" stroke-opacity="0.3">J<tspan font-size="2.8" dy="0.9">β</tspan><tspan dy="-0.9">2-1 to J</tspan><tspan font-size="2.8" dy="0.9">β</tspan><tspan dy="-0.9">2-7</tspan></text>
<rect x="195.30" y="432.10" width="2.70" height="2.40" fill="#ad0b3d"/>
<rect x="195.30" y="434.50" width="2.70" height="3.60" fill="#2d4678"/>
<rect x="195.30" y="438.10" width="2.70" height="0.55" fill="#2d4678"/>
<rect x="195.30" y="438.65" width="2.70" height="0.55" fill="#ad0b3d"/>
<rect x="199.40" y="433.70" width="2.30" height="1.76" fill="#ad0b3d"/>
<rect x="199.40" y="435.46" width="2.30" height="2.64" fill="#2d4678"/>
<rect x="199.40" y="438.10" width="2.30" height="0.35" fill="#2d4678"/>
<rect x="199.40" y="438.45" width="2.30" height="0.35" fill="#ad0b3d"/>
<rect x="202.80" y="433.70" width="2.30" height="1.76" fill="#ad0b3d"/>
<rect x="202.80" y="435.46" width="2.30" height="2.64" fill="#2d4678"/>
<rect x="202.80" y="438.10" width="2.30" height="0.35" fill="#2d4678"/>
<rect x="202.80" y="438.45" width="2.30" height="0.35" fill="#ad0b3d"/>
<rect x="206.30" y="432.90" width="2.50" height="2.08" fill="#ad0b3d"/>
<rect x="206.30" y="434.98" width="2.50" height="3.12" fill="#2d4678"/>
<rect x="206.30" y="438.10" width="2.50" height="0.35" fill="#2d4678"/>
<rect x="206.30" y="438.45" width="2.50" height="0.35" fill="#ad0b3d"/>
<rect x="210.30" y="435.20" width="2.30" height="1.16" fill="#ad0b3d"/>
<rect x="210.30" y="436.36" width="2.30" height="1.74" fill="#2d4678"/>
<rect x="210.30" y="438.10" width="2.30" height="0.35" fill="#2d4678"/>
<rect x="210.30" y="438.45" width="2.30" height="0.35" fill="#ad0b3d"/>
<rect x="213.80" y="435.80" width="2.50" height="0.92" fill="#ad0b3d"/>
<rect x="213.80" y="436.72" width="2.50" height="1.38" fill="#2d4678"/>
<rect x="213.80" y="438.10" width="2.50" height="4.40" fill="#2d4678"/>
<rect x="221.10" y="431.10" width="2.50" height="2.80" fill="#ad0b3d"/>
<rect x="221.10" y="433.90" width="2.50" height="4.20" fill="#2d4678"/>
<rect x="221.10" y="438.10" width="2.50" height="1.45" fill="#2d4678"/>
<rect x="221.10" y="439.55" width="2.50" height="1.45" fill="#ad0b3d"/>
<rect x="224.80" y="433.50" width="2.30" height="1.84" fill="#ad0b3d"/>
<rect x="224.80" y="435.34" width="2.30" height="2.76" fill="#2d4678"/>
<rect x="224.80" y="438.10" width="2.30" height="0.55" fill="#2d4678"/>
<rect x="224.80" y="438.65" width="2.30" height="0.55" fill="#ad0b3d"/>
<rect x="228.20" y="432.30" width="2.30" height="2.32" fill="#ad0b3d"/>
<rect x="228.20" y="434.62" width="2.30" height="3.48" fill="#2d4678"/>
<rect x="228.20" y="438.10" width="2.30" height="0.55" fill="#2d4678"/>
<rect x="228.20" y="438.65" width="2.30" height="0.55" fill="#ad0b3d"/>
<rect x="231.70" y="431.10" width="2.50" height="2.80" fill="#ad0b3d"/>
<rect x="231.70" y="433.90" width="2.50" height="4.20" fill="#2d4678"/>
<rect x="231.70" y="438.10" width="2.50" height="1.70" fill="#2d4678"/>
<rect x="231.70" y="439.80" width="2.50" height="1.70" fill="#ad0b3d"/>
<rect x="235.10" y="428.80" width="2.60" height="3.72" fill="#ad0b3d"/>
<rect x="235.10" y="432.52" width="2.60" height="5.58" fill="#2d4678"/>
<rect x="235.10" y="438.10" width="2.60" height="11.50" fill="#2d4678"/>
<rect x="242.30" y="422.50" width="3.20" height="6.30" fill="#ad0b3d"/>
<rect x="242.30" y="428.80" width="3.20" height="53.20" fill="#2d4678"/>
<rect x="242.30" y="482.00" width="3.20" height="5.40" fill="#ad0b3d"/>
<line x1="192.50" y1="420.50" x2="192.50" y2="492.00" stroke="#6a6a6a" stroke-width="1.0"/>
<line x1="190.10" y1="438.10" x2="192.50" y2="438.10" stroke="#444" stroke-width="0.8"/>
<text x="186.50" y="439.97" font-size="5.2" text-anchor="end" font-weight="normal" fill="#1e1e1e" stroke="#1e1e1e" stroke-width="0.22" stroke-opacity="0.7">0</text>
<line x1="190.10" y1="430.60" x2="192.50" y2="430.60" stroke="#444" stroke-width="0.8"/>
<text x="186.50" y="432.47" font-size="5.2" text-anchor="end" font-weight="normal" fill="#1e1e1e" stroke="#1e1e1e" stroke-width="0.22" stroke-opacity="0.7">10</text>
<line x1="190.10" y1="423.10" x2="192.50" y2="423.10" stroke="#444" stroke-width="0.8"/>
<text x="186.50" y="424.97" font-size="5.2" text-anchor="end" font-weight="normal" fill="#1e1e1e" stroke="#1e1e1e" stroke-width="0.22" stroke-opacity="0.7">20</text>
<line x1="190.10" y1="445.46" x2="192.50" y2="445.46" stroke="#444" stroke-width="0.8"/>
<text x="186.50" y="447.33" font-size="5.2" text-anchor="end" font-weight="normal" fill="#1e1e1e" stroke="#1e1e1e" stroke-width="0.22" stroke-opacity="0.7">10</text>
<line x1="190.10" y1="452.82" x2="192.50" y2="452.82" stroke="#444" stroke-width="0.8"/>
<text x="186.50" y="454.69" font-size="5.2" text-anchor="end" font-weight="normal" fill="#1e1e1e" stroke="#1e1e1e" stroke-width="0.22" stroke-opacity="0.7">20</text>
<line x1="190.10" y1="460.18" x2="192.50" y2="460.18" stroke="#444" stroke-width="0.8"/>
<text x="186.50" y="462.05" font-size="5.2" text-anchor="end" font-weight="normal" fill="#1e1e1e" stroke="#1e1e1e" stroke-width="0.22" stroke-opacity="0.7">30</text>
<line x1="190.10" y1="467.54" x2="192.50" y2="467.54" stroke="#444" stroke-width="0.8"/>
<text x="186.50" y="469.41" font-size="5.2" text-anchor="end" font-weight="normal" fill="#1e1e1e" stroke="#1e1e1e" stroke-width="0.22" stroke-opacity="0.7">40</text>
<line x1="190.10" y1="474.90" x2="192.50" y2="474.90" stroke="#444" stroke-width="0.8"/>
<text x="186.50" y="476.77" font-size="5.2" text-anchor="end" font-weight="normal" fill="#1e1e1e" stroke="#1e1e1e" stroke-width="0.22" stroke-opacity="0.7">50</text>
<line x1="190.10" y1="482.26" x2="192.50" y2="482.26" stroke="#444" stroke-width="0.8"/>
<text x="186.50" y="484.13" font-size="5.2" text-anchor="end" font-weight="normal" fill="#1e1e1e" stroke="#1e1e1e" stroke-width="0.22" stroke-opacity="0.7">60</text>
<line x1="190.10" y1="489.62" x2="192.50" y2="489.62" stroke="#444" stroke-width="0.8"/>
<text x="186.50" y="491.49" font-size="5.2" text-anchor="end" font-weight="normal" fill="#1e1e1e" stroke="#1e1e1e" stroke-width="0.22" stroke-opacity="0.7">70</text>
<line x1="192.50" y1="438.10" x2="249.00" y2="438.10" stroke="#2a2a44" stroke-width="0.8"/>
<text x="175.20" y="455.10" font-size="6.4" text-anchor="middle" font-weight="normal" fill="#1e1e1e" stroke="#1e1e1e" stroke-width="0.1" transform="rotate(-90 175.20 455.10)" textLength="92.70" lengthAdjust="spacingAndGlyphs" style="stroke-width:0.2px">Utilization (% of unique sequences)</text>
<text x="190.40" y="401.50" font-size="6.3" text-anchor="start" font-weight="normal" fill="#1e1e1e" stroke="#1e1e1e" stroke-width="0.1" textLength="61.50" lengthAdjust="spacingAndGlyphs">WT Treg spleen <tspan font-style="italic">TrbJ</tspan></text>
<text x="183.00" y="500.40" font-size="6.2" text-anchor="start" font-weight="normal" fill="#1e1e1e" stroke="#1e1e1e" stroke-width="0.1" textLength="69.70" lengthAdjust="spacingAndGlyphs">R972Q Treg spleen <tspan font-style="italic">TrbJ</tspan></text>
<path d="M195.00 443.60 L195.00 445.90 L217.80 445.90 L217.80 443.60" stroke="#1a1a1a" stroke-width="0.95" fill="none"/>
<path d="M221.30 450.80 L221.30 453.10 L236.50 453.10 L236.50 450.80" stroke="#1a1a1a" stroke-width="0.95" fill="none"/>
<text x="195.00" y="451.80" font-size="4.3" text-anchor="start" font-weight="normal" fill="#555" stroke="#555" stroke-width="0.22" textLength="25.00" lengthAdjust="spacingAndGlyphs" stroke-opacity="0.3">J<tspan font-size="2.8" dy="0.9">β</tspan><tspan dy="-0.9">1-1 to J</tspan><tspan font-size="2.8" dy="0.9">β</tspan><tspan dy="-0.9">1-7</tspan></text>
<text x="215.00" y="460.00" font-size="4.3" text-anchor="start" font-weight="normal" fill="#555" stroke="#555" stroke-width="0.22" textLength="24.80" lengthAdjust="spacingAndGlyphs" stroke-opacity="0.3">J<tspan font-size="2.8" dy="0.9">β</tspan><tspan dy="-0.9">2-1 to J</tspan><tspan font-size="2.8" dy="0.9">β</tspan><tspan dy="-0.9">2-7</tspan></text>
<rect x="450.50" y="426.80" width="2.90" height="2.88" fill="#ad0b3d"/>
<rect x="450.50" y="429.68" width="2.90" height="4.32" fill="#2d4678"/>
<rect x="450.50" y="434.00" width="2.90" height="0.45" fill="#2d4678"/>
<rect x="450.50" y="434.45" width="2.90" height="0.45" fill="#ad0b3d"/>
<rect x="454.50" y="428.80" width="2.70" height="2.08" fill="#ad0b3d"/>
<rect x="454.50" y="430.88" width="2.70" height="3.12" fill="#2d4678"/>
<rect x="454.50" y="434.00" width="2.70" height="0.15" fill="#2d4678"/>
<rect x="454.50" y="434.15" width="2.70" height="0.15" fill="#ad0b3d"/>
<rect x="458.50" y="428.80" width="2.70" height="2.08" fill="#ad0b3d"/>
<rect x="458.50" y="430.88" width="2.70" height="3.12" fill="#2d4678"/>
<rect x="458.50" y="434.00" width="2.70" height="0.15" fill="#2d4678"/>
<rect x="458.50" y="434.15" width="2.70" height="0.15" fill="#ad0b3d"/>
<rect x="462.60" y="427.80" width="2.90" height="2.48" fill="#ad0b3d"/>
<rect x="462.60" y="430.28" width="2.90" height="3.72" fill="#2d4678"/>
<rect x="462.60" y="434.00" width="2.90" height="0.15" fill="#2d4678"/>
<rect x="462.60" y="434.15" width="2.90" height="0.15" fill="#ad0b3d"/>
<rect x="466.60" y="430.90" width="2.70" height="1.24" fill="#ad0b3d"/>
<rect x="466.60" y="432.14" width="2.70" height="1.86" fill="#2d4678"/>
<rect x="466.60" y="434.00" width="2.70" height="0.15" fill="#2d4678"/>
<rect x="466.60" y="434.15" width="2.70" height="0.15" fill="#ad0b3d"/>
<rect x="470.20" y="431.30" width="3.10" height="1.08" fill="#ad0b3d"/>
<rect x="470.20" y="432.38" width="3.10" height="1.62" fill="#2d4678"/>
<rect x="470.20" y="434.00" width="3.10" height="9.00" fill="#2d4678"/>
<rect x="478.30" y="425.90" width="3.40" height="3.24" fill="#ad0b3d"/>
<rect x="478.30" y="429.14" width="3.40" height="4.86" fill="#2d4678"/>
<rect x="478.30" y="434.00" width="3.40" height="4.50" fill="#2d4678"/>
<rect x="482.80" y="428.80" width="2.70" height="2.08" fill="#ad0b3d"/>
<rect x="482.80" y="430.88" width="2.70" height="3.12" fill="#2d4678"/>
<rect x="482.80" y="434.00" width="2.70" height="0.15" fill="#2d4678"/>
<rect x="482.80" y="434.15" width="2.70" height="0.15" fill="#ad0b3d"/>
<rect x="486.80" y="427.20" width="3.00" height="2.72" fill="#ad0b3d"/>
<rect x="486.80" y="429.92" width="3.00" height="4.08" fill="#2d4678"/>
<rect x="486.80" y="434.00" width="3.00" height="0.45" fill="#2d4678"/>
<rect x="486.80" y="434.45" width="3.00" height="0.45" fill="#ad0b3d"/>
<rect x="490.80" y="426.40" width="3.00" height="3.04" fill="#ad0b3d"/>
<rect x="490.80" y="429.44" width="3.00" height="4.56" fill="#2d4678"/>
<rect x="490.80" y="434.00" width="3.00" height="1.45" fill="#2d4678"/>
<rect x="490.80" y="435.45" width="3.00" height="1.45" fill="#ad0b3d"/>
<rect x="494.90" y="424.10" width="2.90" height="3.96" fill="#ad0b3d"/>
<rect x="494.90" y="428.06" width="2.90" height="5.94" fill="#2d4678"/>
<rect x="494.90" y="434.00" width="2.90" height="5.60" fill="#2d4678"/>
<rect x="502.80" y="417.30" width="3.20" height="6.20" fill="#ad0b3d"/>
<rect x="502.80" y="423.50" width="3.20" height="60.50" fill="#2d4678"/>
<rect x="502.80" y="484.00" width="3.20" height="5.00" fill="#ad0b3d"/>
<line x1="447.00" y1="415.50" x2="447.00" y2="492.00" stroke="#6a6a6a" stroke-width="1.0"/>
<line x1="444.60" y1="434.00" x2="447.00" y2="434.00" stroke="#444" stroke-width="0.8"/>
<text x="441.00" y="435.87" font-size="5.2" text-anchor="end" font-weight="normal" fill="#1e1e1e" stroke="#1e1e1e" stroke-width="0.22" stroke-opacity="0.7">0</text>
<line x1="444.60" y1="425.85" x2="447.00" y2="425.85" stroke="#444" stroke-width="0.8"/>
<text x="441.00" y="427.72" font-size="5.2" text-anchor="end" font-weight="normal" fill="#1e1e1e" stroke="#1e1e1e" stroke-width="0.22" stroke-opacity="0.7">10</text>
<line x1="444.60" y1="417.70" x2="447.00" y2="417.70" stroke="#444" stroke-width="0.8"/>
<text x="441.00" y="419.57" font-size="5.2" text-anchor="end" font-weight="normal" fill="#1e1e1e" stroke="#1e1e1e" stroke-width="0.22" stroke-opacity="0.7">20</text>
<line x1="444.60" y1="441.93" x2="447.00" y2="441.93" stroke="#444" stroke-width="0.8"/>
<text x="441.00" y="443.80" font-size="5.2" text-anchor="end" font-weight="normal" fill="#1e1e1e" stroke="#1e1e1e" stroke-width="0.22" stroke-opacity="0.7">10</text>
<line x1="444.60" y1="449.86" x2="447.00" y2="449.86" stroke="#444" stroke-width="0.8"/>
<text x="441.00" y="451.73" font-size="5.2" text-anchor="end" font-weight="normal" fill="#1e1e1e" stroke="#1e1e1e" stroke-width="0.22" stroke-opacity="0.7">20</text>
<line x1="444.60" y1="457.79" x2="447.00" y2="457.79" stroke="#444" stroke-width="0.8"/>
<text x="441.00" y="459.66" font-size="5.2" text-anchor="end" font-weight="normal" fill="#1e1e1e" stroke="#1e1e1e" stroke-width="0.22" stroke-opacity="0.7">30</text>
<line x1="444.60" y1="465.72" x2="447.00" y2="465.72" stroke="#444" stroke-width="0.8"/>
<text x="441.00" y="467.59" font-size="5.2" text-anchor="end" font-weight="normal" fill="#1e1e1e" stroke="#1e1e1e" stroke-width="0.22" stroke-opacity="0.7">40</text>
<line x1="444.60" y1="473.65" x2="447.00" y2="473.65" stroke="#444" stroke-width="0.8"/>
<text x="441.00" y="475.52" font-size="5.2" text-anchor="end" font-weight="normal" fill="#1e1e1e" stroke="#1e1e1e" stroke-width="0.22" stroke-opacity="0.7">50</text>
<line x1="444.60" y1="481.58" x2="447.00" y2="481.58" stroke="#444" stroke-width="0.8"/>
<text x="441.00" y="483.45" font-size="5.2" text-anchor="end" font-weight="normal" fill="#1e1e1e" stroke="#1e1e1e" stroke-width="0.22" stroke-opacity="0.7">60</text>
<line x1="444.60" y1="489.51" x2="447.00" y2="489.51" stroke="#444" stroke-width="0.8"/>
<text x="441.00" y="491.38" font-size="5.2" text-anchor="end" font-weight="normal" fill="#1e1e1e" stroke="#1e1e1e" stroke-width="0.22" stroke-opacity="0.7">70</text>
<line x1="447.00" y1="434.00" x2="510.00" y2="434.00" stroke="#2a2a44" stroke-width="0.8"/>
<text x="429.70" y="452.70" font-size="6.4" text-anchor="middle" font-weight="normal" fill="#1e1e1e" stroke="#1e1e1e" stroke-width="0.1" transform="rotate(-90 429.70 452.70)" textLength="92.70" lengthAdjust="spacingAndGlyphs" style="stroke-width:0.2px">Utilization (% of unique sequences)</text>
<text x="447.50" y="400.80" font-size="6.3" text-anchor="start" font-weight="normal" fill="#1e1e1e" stroke="#1e1e1e" stroke-width="0.1" textLength="61.40" lengthAdjust="spacingAndGlyphs">WT Treg spleen <tspan font-style="italic">TrbJ</tspan></text>
<text x="441.20" y="500.10" font-size="6.2" text-anchor="start" font-weight="normal" fill="#1e1e1e" stroke="#1e1e1e" stroke-width="0.1" textLength="68.90" lengthAdjust="spacingAndGlyphs">F971L Treg spleen <tspan font-style="italic">TrbJ</tspan></text>
<path d="M450.70 444.70 L450.70 447.00 L476.30 447.00 L476.30 444.70" stroke="#1a1a1a" stroke-width="0.95" fill="none"/>
<path d="M479.30 452.80 L479.30 455.10 L497.80 455.10 L497.80 452.80" stroke="#1a1a1a" stroke-width="0.95" fill="none"/>
<text x="450.70" y="454.10" font-size="4.3" text-anchor="start" font-weight="normal" fill="#555" stroke="#555" stroke-width="0.22" textLength="25.00" lengthAdjust="spacingAndGlyphs" stroke-opacity="0.3">J<tspan font-size="2.8" dy="0.9">β</tspan><tspan dy="-0.9">1-1 to J</tspan><tspan font-size="2.8" dy="0.9">β</tspan><tspan dy="-0.9">1-7</tspan></text>
<text x="475.00" y="463.40" font-size="4.3" text-anchor="start" font-weight="normal" fill="#555" stroke="#555" stroke-width="0.22" textLength="24.80" lengthAdjust="spacingAndGlyphs" stroke-opacity="0.3">J<tspan font-size="2.8" dy="0.9">β</tspan><tspan dy="-0.9">2-1 to J</tspan><tspan font-size="2.8" dy="0.9">β</tspan><tspan dy="-0.9">2-7</tspan></text>
<text x="295.80" y="37.30" font-size="4.6" text-anchor="start" font-weight="normal" fill="#1e1e1e" stroke="#1e1e1e" stroke-width="0.22" textLength="10.25" lengthAdjust="spacingAndGlyphs">V<tspan font-size="3.22" dy="1.38">β</tspan><tspan dy="-1.38">3.1</tspan></text>
<text x="306.35" y="37.70" font-size="3.8" text-anchor="start" font-weight="normal" fill="#1e1e1e" stroke="#1e1e1e" stroke-width="0.22" textLength="1.55" lengthAdjust="spacingAndGlyphs">*</text>
<line x1="301.20" y1="40.10" x2="302.02" y2="45.90" stroke="#000" stroke-width="1.2"/>
<path d="M302.40 48.60 L300.56 46.10 L303.47 45.69 Z" fill="#000"/>
<text x="316.50" y="44.60" font-size="4.6" text-anchor="start" font-weight="normal" fill="#1e1e1e" stroke="#1e1e1e" stroke-width="0.22" textLength="10.25" lengthAdjust="spacingAndGlyphs">V<tspan font-size="3.22" dy="1.38">β</tspan><tspan dy="-1.38">12.1</tspan></text>
<text x="327.05" y="45.00" font-size="3.8" text-anchor="start" font-weight="normal" fill="#1e1e1e" stroke="#1e1e1e" stroke-width="0.22" textLength="1.55" lengthAdjust="spacingAndGlyphs">*</text>
<line x1="328.60" y1="47.40" x2="330.98" y2="50.61" stroke="#000" stroke-width="1.2"/>
<path d="M332.60 52.80 L329.79 51.48 L332.16 49.73 Z" fill="#000"/>
<text x="375.60" y="44.80" font-size="4.6" text-anchor="start" font-weight="normal" fill="#1e1e1e" stroke="#1e1e1e" stroke-width="0.22" textLength="12.55" lengthAdjust="spacingAndGlyphs">V<tspan font-size="3.22" dy="1.38">β</tspan><tspan dy="-1.38">20.1</tspan></text>
<text x="388.45" y="45.20" font-size="3.8" text-anchor="start" font-weight="normal" fill="#1e1e1e" stroke="#1e1e1e" stroke-width="0.22" textLength="1.55" lengthAdjust="spacingAndGlyphs">*</text>
<line x1="380.60" y1="46.60" x2="378.49" y2="50.94" stroke="#000" stroke-width="1.2"/>
<path d="M377.30 53.40 L377.17 50.30 L379.81 51.59 Z" fill="#000"/>
<text x="344.60" y="103.60" font-size="4.6" text-anchor="start" font-weight="normal" fill="#1e1e1e" stroke="#1e1e1e" stroke-width="0.22" textLength="14.65" lengthAdjust="spacingAndGlyphs">V<tspan font-size="3.22" dy="1.38">β</tspan><tspan dy="-1.38">13.2</tspan></text>
<text x="359.55" y="104.00" font-size="3.8" text-anchor="start" font-weight="normal" fill="#1e1e1e" stroke="#1e1e1e" stroke-width="0.22" textLength="4.65" lengthAdjust="spacingAndGlyphs">***</text>
<line x1="354.10" y1="98.70" x2="353.06" y2="93.67" stroke="#000" stroke-width="1.2"/>
<path d="M352.50 91.00 L354.49 93.37 L351.62 93.97 Z" fill="#000"/>
<text x="368.30" y="100.30" font-size="4.6" text-anchor="start" font-weight="normal" fill="#1e1e1e" stroke="#1e1e1e" stroke-width="0.22" textLength="14.05" lengthAdjust="spacingAndGlyphs">V<tspan font-size="3.22" dy="1.38">β</tspan><tspan dy="-1.38">16.1</tspan></text>
<text x="382.65" y="100.70" font-size="3.8" text-anchor="start" font-weight="normal" fill="#1e1e1e" stroke="#1e1e1e" stroke-width="0.22" textLength="4.65" lengthAdjust="spacingAndGlyphs">***</text>
<line x1="370.70" y1="94.60" x2="367.07" y2="91.85" stroke="#000" stroke-width="1.2"/>
<path d="M364.90 90.20 L367.96 90.68 L366.19 93.02 Z" fill="#000"/>
<text x="45.20" y="224.70" font-size="3.8" text-anchor="start" font-weight="normal" fill="#1e1e1e" stroke="#1e1e1e" stroke-width="0.22" textLength="6.20" lengthAdjust="spacingAndGlyphs">****</text>
<text x="51.70" y="224.30" font-size="4.6" text-anchor="start" font-weight="normal" fill="#1e1e1e" stroke="#1e1e1e" stroke-width="0.22" textLength="13.70" lengthAdjust="spacingAndGlyphs">V<tspan font-size="3.22" dy="1.38">β</tspan><tspan dy="-1.38">13.1</tspan></text>
<line x1="66.80" y1="222.10" x2="72.68" y2="218.44" stroke="#000" stroke-width="1.2"/>
<path d="M75.00 217.00 L73.46 219.69 L71.91 217.19 Z" fill="#000"/>
<text x="52.70" y="234.50" font-size="3.8" text-anchor="start" font-weight="normal" fill="#1e1e1e" stroke="#1e1e1e" stroke-width="0.22" textLength="6.20" lengthAdjust="spacingAndGlyphs">****</text>
<text x="59.20" y="234.10" font-size="4.6" text-anchor="start" font-weight="normal" fill="#1e1e1e" stroke="#1e1e1e" stroke-width="0.22" textLength="12.50" lengthAdjust="spacingAndGlyphs">V<tspan font-size="3.22" dy="1.38">β</tspan><tspan dy="-1.38">13.2</tspan></text>
<line x1="74.40" y1="231.30" x2="80.05" y2="227.98" stroke="#000" stroke-width="1.2"/>
<path d="M82.40 226.60 L80.79 229.25 L79.30 226.72 Z" fill="#000"/>
<text x="87.00" y="235.40" font-size="4.6" text-anchor="start" font-weight="normal" fill="#1e1e1e" stroke="#1e1e1e" stroke-width="0.22" textLength="13.00" lengthAdjust="spacingAndGlyphs">V<tspan font-size="3.22" dy="1.38">β</tspan><tspan dy="-1.38">13.3</tspan></text>
<text x="100.30" y="235.80" font-size="3.8" text-anchor="start" font-weight="normal" fill="#1e1e1e" stroke="#1e1e1e" stroke-width="0.22" textLength="6.20" lengthAdjust="spacingAndGlyphs">****</text>
<line x1="93.50" y1="229.30" x2="92.39" y2="225.61" stroke="#000" stroke-width="1.2"/>
<path d="M91.60 223.00 L93.80 225.19 L90.98 226.04 Z" fill="#000"/>
<text x="111.20" y="233.80" font-size="4.6" text-anchor="start" font-weight="normal" fill="#1e1e1e" stroke="#1e1e1e" stroke-width="0.22" textLength="12.85" lengthAdjust="spacingAndGlyphs">V<tspan font-size="3.22" dy="1.38">β</tspan><tspan dy="-1.38">16.1</tspan></text>
<text x="124.35" y="234.20" font-size="3.8" text-anchor="start" font-weight="normal" fill="#1e1e1e" stroke="#1e1e1e" stroke-width="0.22" textLength="7.75" lengthAdjust="spacingAndGlyphs">*****</text>
<line x1="112.60" y1="229.30" x2="105.88" y2="223.57" stroke="#000" stroke-width="1.2"/>
<path d="M103.80 221.80 L106.83 222.45 L104.92 224.69 Z" fill="#000"/>
<text x="124.00" y="224.90" font-size="4.6" text-anchor="start" font-weight="normal" fill="#1e1e1e" stroke="#1e1e1e" stroke-width="0.22" textLength="12.15" lengthAdjust="spacingAndGlyphs">V<tspan font-size="3.22" dy="1.38">β</tspan><tspan dy="-1.38">19.1</tspan></text>
<text x="136.45" y="225.30" font-size="3.8" text-anchor="start" font-weight="normal" fill="#1e1e1e" stroke="#1e1e1e" stroke-width="0.22" textLength="7.75" lengthAdjust="spacingAndGlyphs">*****</text>
<line x1="123.40" y1="221.90" x2="117.67" y2="219.17" stroke="#000" stroke-width="1.2"/>
<path d="M115.20 218.00 L118.30 217.85 L117.03 220.50 Z" fill="#000"/>
<text x="118.60" y="211.20" font-size="4.6" text-anchor="start" font-weight="normal" fill="#1e1e1e" stroke="#1e1e1e" stroke-width="0.22" textLength="13.70" lengthAdjust="spacingAndGlyphs">V<tspan font-size="3.22" dy="1.38">β</tspan><tspan dy="-1.38">17.1</tspan></text>
<text x="132.60" y="211.60" font-size="3.8" text-anchor="start" font-weight="normal" fill="#1e1e1e" stroke="#1e1e1e" stroke-width="0.22" textLength="6.20" lengthAdjust="spacingAndGlyphs">****</text>
<line x1="118.00" y1="207.40" x2="109.14" y2="205.01" stroke="#000" stroke-width="1.2"/>
<path d="M106.50 204.30 L109.52 203.59 L108.75 206.43 Z" fill="#000"/>
<text x="301.20" y="208.80" font-size="4.6" text-anchor="start" font-weight="normal" fill="#1e1e1e" stroke="#1e1e1e" stroke-width="0.22" textLength="11.10" lengthAdjust="spacingAndGlyphs">V<tspan font-size="3.22" dy="1.38">β</tspan><tspan dy="-1.38">1.1</tspan></text>
<text x="312.60" y="209.20" font-size="3.8" text-anchor="start" font-weight="normal" fill="#1e1e1e" stroke="#1e1e1e" stroke-width="0.22" textLength="6.20" lengthAdjust="spacingAndGlyphs">****</text>
<line x1="300.20" y1="204.00" x2="296.89" y2="200.57" stroke="#000" stroke-width="1.2"/>
<path d="M295.00 198.60 L297.95 199.55 L295.83 201.59 Z" fill="#000"/>
<text x="308.20" y="218.00" font-size="3.8" text-anchor="start" font-weight="normal" fill="#1e1e1e" stroke="#1e1e1e" stroke-width="0.22" textLength="6.20" lengthAdjust="spacingAndGlyphs">****</text>
<text x="314.70" y="217.60" font-size="4.6" text-anchor="start" font-weight="normal" fill="#1e1e1e" stroke="#1e1e1e" stroke-width="0.22" textLength="11.10" lengthAdjust="spacingAndGlyphs">V<tspan font-size="3.22" dy="1.38">β</tspan><tspan dy="-1.38">13.1</tspan></text>
<line x1="327.00" y1="213.20" x2="333.40" y2="209.71" stroke="#000" stroke-width="1.2"/>
<path d="M335.80 208.40 L334.11 211.00 L332.70 208.42 Z" fill="#000"/>
<text x="310.00" y="228.00" font-size="3.8" text-anchor="start" font-weight="normal" fill="#1e1e1e" stroke="#1e1e1e" stroke-width="0.22" textLength="6.20" lengthAdjust="spacingAndGlyphs">****</text>
<text x="316.50" y="227.60" font-size="4.6" text-anchor="start" font-weight="normal" fill="#1e1e1e" stroke="#1e1e1e" stroke-width="0.22" textLength="11.90" lengthAdjust="spacingAndGlyphs">V<tspan font-size="3.22" dy="1.38">β</tspan><tspan dy="-1.38">13.2</tspan></text>
<line x1="334.20" y1="223.20" x2="340.23" y2="219.75" stroke="#000" stroke-width="1.2"/>
<path d="M342.60 218.40 L340.96 221.03 L339.50 218.48 Z" fill="#000"/>
<text x="352.90" y="226.40" font-size="4.6" text-anchor="start" font-weight="normal" fill="#1e1e1e" stroke="#1e1e1e" stroke-width="0.22" textLength="13.60" lengthAdjust="spacingAndGlyphs">V<tspan font-size="3.22" dy="1.38">β</tspan><tspan dy="-1.38">13.3</tspan></text>
<text x="366.80" y="226.80" font-size="3.8" text-anchor="start" font-weight="normal" fill="#1e1e1e" stroke="#1e1e1e" stroke-width="0.22" textLength="6.20" lengthAdjust="spacingAndGlyphs">****</text>
<line x1="352.20" y1="219.20" x2="351.65" y2="213.32" stroke="#000" stroke-width="1.2"/>
<path d="M351.40 210.60 L353.12 213.18 L350.19 213.45 Z" fill="#000"/>
<text x="362.50" y="215.90" font-size="4.6" text-anchor="start" font-weight="normal" fill="#1e1e1e" stroke="#1e1e1e" stroke-width="0.22" textLength="13.70" lengthAdjust="spacingAndGlyphs">V<tspan font-size="3.22" dy="1.38">β</tspan><tspan dy="-1.38">16.1</tspan></text>
<text x="376.50" y="216.30" font-size="3.8" text-anchor="start" font-weight="normal" fill="#1e1e1e" stroke="#1e1e1e" stroke-width="0.22" textLength="6.20" lengthAdjust="spacingAndGlyphs">****</text>
<line x1="366.60" y1="209.80" x2="363.35" y2="198.42" stroke="#000" stroke-width="1.2"/>
<path d="M362.60 195.80 L364.76 198.02 L361.94 198.83 Z" fill="#000"/>
<text x="385.30" y="208.90" font-size="4.6" text-anchor="start" font-weight="normal" fill="#1e1e1e" stroke="#1e1e1e" stroke-width="0.22" textLength="13.60" lengthAdjust="spacingAndGlyphs">V<tspan font-size="3.22" dy="1.38">β</tspan><tspan dy="-1.38">19.1</tspan></text>
<text x="399.20" y="209.30" font-size="3.8" text-anchor="start" font-weight="normal" fill="#1e1e1e" stroke="#1e1e1e" stroke-width="0.22" textLength="6.20" lengthAdjust="spacingAndGlyphs">****</text>
<line x1="385.00" y1="206.20" x2="378.26" y2="204.62" stroke="#000" stroke-width="1.2"/>
<path d="M375.60 204.00 L378.59 203.19 L377.92 206.05 Z" fill="#000"/>
<text x="355.90" y="168.70" font-size="4.6" text-anchor="start" font-weight="normal" fill="#1e1e1e" stroke="#1e1e1e" stroke-width="0.22" textLength="13.20" lengthAdjust="spacingAndGlyphs">V<tspan font-size="3.22" dy="1.38">β</tspan><tspan dy="-1.38">12.1</tspan></text>
<text x="369.40" y="169.10" font-size="3.8" text-anchor="start" font-weight="normal" fill="#1e1e1e" stroke="#1e1e1e" stroke-width="0.22" textLength="6.20" lengthAdjust="spacingAndGlyphs">****</text>
<line x1="364.20" y1="170.20" x2="365.65" y2="177.33" stroke="#000" stroke-width="1.2"/>
<path d="M366.20 180.00 L364.21 177.62 L367.09 177.03 Z" fill="#000"/>
<text x="54.00" y="348.60" font-size="4.6" text-anchor="start" font-weight="normal" fill="#1e1e1e" stroke="#1e1e1e" stroke-width="0.22" textLength="12.70" lengthAdjust="spacingAndGlyphs">V<tspan font-size="3.22" dy="1.38">β</tspan><tspan dy="-1.38">13.1</tspan></text>
<text x="61.00" y="345.50" font-size="3.8" text-anchor="start" font-weight="normal" fill="#1e1e1e" stroke="#1e1e1e" stroke-width="0.22" textLength="6.60" lengthAdjust="spacingAndGlyphs">****</text>
<line x1="68.20" y1="347.00" x2="75.02" y2="343.14" stroke="#000" stroke-width="1.2"/>
<path d="M77.40 341.80 L75.75 344.42 L74.30 341.86 Z" fill="#000"/>
<text x="62.10" y="359.50" font-size="4.6" text-anchor="start" font-weight="normal" fill="#1e1e1e" stroke="#1e1e1e" stroke-width="0.22" textLength="12.70" lengthAdjust="spacingAndGlyphs">V<tspan font-size="3.22" dy="1.38">β</tspan><tspan dy="-1.38">13.2</tspan></text>
<text x="71.90" y="355.80" font-size="3.8" text-anchor="start" font-weight="normal" fill="#1e1e1e" stroke="#1e1e1e" stroke-width="0.22" textLength="5.20" lengthAdjust="spacingAndGlyphs">****</text>
<line x1="77.00" y1="358.20" x2="81.67" y2="358.20" stroke="#000" stroke-width="1.2"/>
<path d="M84.40 358.20 L81.67 359.67 L81.67 356.73 Z" fill="#000"/>
<text x="88.60" y="362.50" font-size="4.6" text-anchor="start" font-weight="normal" fill="#1e1e1e" stroke="#1e1e1e" stroke-width="0.22" textLength="11.00" lengthAdjust="spacingAndGlyphs">V<tspan font-size="3.22" dy="1.38">β</tspan><tspan dy="-1.38">13.3</tspan></text>
<text x="96.10" y="360.40" font-size="3.8" text-anchor="start" font-weight="normal" fill="#1e1e1e" stroke="#1e1e1e" stroke-width="0.22" textLength="5.80" lengthAdjust="spacingAndGlyphs">****</text>
<line x1="94.60" y1="357.50" x2="93.55" y2="353.25" stroke="#000" stroke-width="1.2"/>
<path d="M92.90 350.60 L94.98 352.90 L92.13 353.60 Z" fill="#000"/>
<text x="103.80" y="365.00" font-size="4.6" text-anchor="start" font-weight="normal" fill="#1e1e1e" stroke="#1e1e1e" stroke-width="0.22" textLength="11.80" lengthAdjust="spacingAndGlyphs">V<tspan font-size="3.22" dy="1.38">β</tspan><tspan dy="-1.38">16.1</tspan></text>
<text x="113.10" y="362.40" font-size="3.8" text-anchor="start" font-weight="normal" fill="#1e1e1e" stroke="#1e1e1e" stroke-width="0.22" textLength="5.00" lengthAdjust="spacingAndGlyphs">****</text>
<line x1="108.80" y1="360.20" x2="104.95" y2="351.88" stroke="#000" stroke-width="1.2"/>
<path d="M103.80 349.40 L106.28 351.26 L103.61 352.49 Z" fill="#000"/>
<text x="125.00" y="362.10" font-size="4.6" text-anchor="start" font-weight="normal" fill="#1e1e1e" stroke="#1e1e1e" stroke-width="0.22" textLength="11.90" lengthAdjust="spacingAndGlyphs">V<tspan font-size="3.22" dy="1.38">β</tspan><tspan dy="-1.38">19.1</tspan></text>
<text x="135.00" y="358.70" font-size="3.8" text-anchor="start" font-weight="normal" fill="#1e1e1e" stroke="#1e1e1e" stroke-width="0.22" textLength="6.30" lengthAdjust="spacingAndGlyphs">****</text>
<line x1="123.80" y1="358.80" x2="118.59" y2="355.92" stroke="#000" stroke-width="1.2"/>
<path d="M116.20 354.60 L119.30 354.63 L117.88 357.21 Z" fill="#000"/>
<text x="305.00" y="341.50" font-size="4.6" text-anchor="start" font-weight="normal" fill="#1e1e1e" stroke="#1e1e1e" stroke-width="0.22" textLength="12.70" lengthAdjust="spacingAndGlyphs">V<tspan font-size="3.22" dy="1.38">β</tspan><tspan dy="-1.38">1.1</tspan></text>
<text x="314.80" y="338.30" font-size="3.8" text-anchor="start" font-weight="normal" fill="#1e1e1e" stroke="#1e1e1e" stroke-width="0.22" textLength="6.90" lengthAdjust="spacingAndGlyphs">****</text>
<line x1="304.40" y1="337.90" x2="300.14" y2="334.50" stroke="#000" stroke-width="1.2"/>
<path d="M298.00 332.80 L301.05 333.35 L299.22 335.65 Z" fill="#000"/>
<text x="314.80" y="351.30" font-size="4.6" text-anchor="start" font-weight="normal" fill="#1e1e1e" stroke="#1e1e1e" stroke-width="0.22" textLength="12.70" lengthAdjust="spacingAndGlyphs">V<tspan font-size="3.22" dy="1.38">β</tspan><tspan dy="-1.38">13.1</tspan></text>
<text x="322.30" y="347.60" font-size="3.8" text-anchor="start" font-weight="normal" fill="#1e1e1e" stroke="#1e1e1e" stroke-width="0.22" textLength="6.90" lengthAdjust="spacingAndGlyphs">****</text>
<line x1="329.80" y1="349.60" x2="335.23" y2="345.46" stroke="#000" stroke-width="1.2"/>
<path d="M337.40 343.80 L336.12 346.62 L334.34 344.29 Z" fill="#000"/>
<text x="320.60" y="361.00" font-size="4.6" text-anchor="start" font-weight="normal" fill="#1e1e1e" stroke="#1e1e1e" stroke-width="0.22" textLength="12.10" lengthAdjust="spacingAndGlyphs">V<tspan font-size="3.22" dy="1.38">β</tspan><tspan dy="-1.38">13.2</tspan></text>
<text x="331.50" y="357.90" font-size="3.8" text-anchor="start" font-weight="normal" fill="#1e1e1e" stroke="#1e1e1e" stroke-width="0.22" textLength="4.60" lengthAdjust="spacingAndGlyphs">****</text>
<line x1="335.00" y1="359.40" x2="341.17" y2="357.72" stroke="#000" stroke-width="1.2"/>
<path d="M343.80 357.00 L341.55 359.14 L340.78 356.30 Z" fill="#000"/>
<text x="352.80" y="359.60" font-size="4.6" text-anchor="start" font-weight="normal" fill="#1e1e1e" stroke="#1e1e1e" stroke-width="0.22" textLength="13.80" lengthAdjust="spacingAndGlyphs">V<tspan font-size="3.22" dy="1.38">β</tspan><tspan dy="-1.38">13.3</tspan></text>
<text x="366.90" y="360.00" font-size="3.8" text-anchor="start" font-weight="normal" fill="#1e1e1e" stroke="#1e1e1e" stroke-width="0.22" textLength="6.20" lengthAdjust="spacingAndGlyphs">****</text>
<line x1="356.20" y1="354.60" x2="355.21" y2="350.26" stroke="#000" stroke-width="1.2"/>
<path d="M354.60 347.60 L356.64 349.93 L353.78 350.59 Z" fill="#000"/>
<text x="385.90" y="352.00" font-size="4.6" text-anchor="start" font-weight="normal" fill="#1e1e1e" stroke="#1e1e1e" stroke-width="0.22" textLength="11.90" lengthAdjust="spacingAndGlyphs">V<tspan font-size="3.22" dy="1.38">β</tspan><tspan dy="-1.38">16.1</tspan></text>
<text x="398.10" y="352.40" font-size="3.8" text-anchor="start" font-weight="normal" fill="#1e1e1e" stroke="#1e1e1e" stroke-width="0.22" textLength="6.20" lengthAdjust="spacingAndGlyphs">****</text>
<line x1="384.80" y1="349.00" x2="379.38" y2="345.94" stroke="#000" stroke-width="1.2"/>
<path d="M377.00 344.60 L380.10 344.66 L378.66 347.22 Z" fill="#000"/>
<text x="37.50" y="471.20" font-size="4.6" text-anchor="start" font-weight="normal" fill="#1e1e1e" stroke="#1e1e1e" stroke-width="0.22" textLength="10.85" lengthAdjust="spacingAndGlyphs">V<tspan font-size="3.22" dy="1.38">β</tspan><tspan dy="-1.38">1.1</tspan></text>
<text x="48.65" y="471.60" font-size="3.8" text-anchor="start" font-weight="normal" fill="#1e1e1e" stroke="#1e1e1e" stroke-width="0.22" textLength="1.55" lengthAdjust="spacingAndGlyphs">*</text>
<line x1="41.00" y1="466.00" x2="38.80" y2="462.68" stroke="#000" stroke-width="1.2"/>
<path d="M37.30 460.40 L40.03 461.87 L37.58 463.49 Z" fill="#000"/>
<text x="55.40" y="474.30" font-size="4.6" text-anchor="start" font-weight="normal" fill="#1e1e1e" stroke="#1e1e1e" stroke-width="0.22" textLength="10.40" lengthAdjust="spacingAndGlyphs">V<tspan font-size="3.22" dy="1.38">β</tspan><tspan dy="-1.38">13.1</tspan></text>
<text x="63.40" y="470.40" font-size="3.8" text-anchor="start" font-weight="normal" fill="#1e1e1e" stroke="#1e1e1e" stroke-width="0.22" textLength="7.00" lengthAdjust="spacingAndGlyphs">****</text>
<line x1="70.90" y1="472.00" x2="76.34" y2="468.33" stroke="#000" stroke-width="1.2"/>
<path d="M78.60 466.80 L77.16 469.55 L75.51 467.11 Z" fill="#000"/>
<text x="62.90" y="484.70" font-size="4.6" text-anchor="start" font-weight="normal" fill="#1e1e1e" stroke="#1e1e1e" stroke-width="0.22" textLength="12.70" lengthAdjust="spacingAndGlyphs">V<tspan font-size="3.22" dy="1.38">β</tspan><tspan dy="-1.38">13.2</tspan></text>
<text x="69.20" y="482.40" font-size="3.8" text-anchor="start" font-weight="normal" fill="#1e1e1e" stroke="#1e1e1e" stroke-width="0.22" textLength="6.90" lengthAdjust="spacingAndGlyphs">****</text>
<line x1="76.70" y1="483.60" x2="82.21" y2="480.53" stroke="#000" stroke-width="1.2"/>
<path d="M84.60 479.20 L82.93 481.81 L81.50 479.24 Z" fill="#000"/>
<text x="87.30" y="487.30" font-size="4.6" text-anchor="start" font-weight="normal" fill="#1e1e1e" stroke="#1e1e1e" stroke-width="0.22" textLength="12.10" lengthAdjust="spacingAndGlyphs">V<tspan font-size="3.22" dy="1.38">β</tspan><tspan dy="-1.38">13.3</tspan></text>
<text x="99.40" y="485.60" font-size="3.8" text-anchor="start" font-weight="normal" fill="#1e1e1e" stroke="#1e1e1e" stroke-width="0.22" textLength="5.80" lengthAdjust="spacingAndGlyphs">****</text>
<line x1="95.20" y1="483.30" x2="94.15" y2="475.31" stroke="#000" stroke-width="1.2"/>
<path d="M93.80 472.60 L95.61 475.12 L92.70 475.50 Z" fill="#000"/>
<text x="109.20" y="488.10" font-size="4.6" text-anchor="start" font-weight="normal" fill="#1e1e1e" stroke="#1e1e1e" stroke-width="0.22" textLength="10.40" lengthAdjust="spacingAndGlyphs">V<tspan font-size="3.22" dy="1.38">β</tspan><tspan dy="-1.38">16.1</tspan></text>
<text x="119.60" y="486.20" font-size="3.8" text-anchor="start" font-weight="normal" fill="#1e1e1e" stroke="#1e1e1e" stroke-width="0.22" textLength="8.70" lengthAdjust="spacingAndGlyphs">****</text>
<line x1="109.80" y1="484.80" x2="107.59" y2="479.14" stroke="#000" stroke-width="1.2"/>
<path d="M106.60 476.60 L108.96 478.61 L106.22 479.68 Z" fill="#000"/>
<text x="126.50" y="475.40" font-size="4.6" text-anchor="start" font-weight="normal" fill="#1e1e1e" stroke="#1e1e1e" stroke-width="0.22" textLength="11.00" lengthAdjust="spacingAndGlyphs">V<tspan font-size="3.22" dy="1.38">β</tspan><tspan dy="-1.38">19.1</tspan></text>
<text x="137.50" y="473.50" font-size="3.8" text-anchor="start" font-weight="normal" fill="#1e1e1e" stroke="#1e1e1e" stroke-width="0.22" textLength="7.50" lengthAdjust="spacingAndGlyphs">****</text>
<line x1="125.40" y1="474.00" x2="121.13" y2="474.00" stroke="#000" stroke-width="1.2"/>
<path d="M118.40 474.00 L121.13 472.53 L121.13 475.47 Z" fill="#000"/>
<text x="299.60" y="485.80" font-size="4.6" text-anchor="start" font-weight="normal" fill="#1e1e1e" stroke="#1e1e1e" stroke-width="0.22" textLength="8.70" lengthAdjust="spacingAndGlyphs">V<tspan font-size="3.22" dy="1.38">β</tspan><tspan dy="-1.38">1.1</tspan></text>
<text x="308.30" y="484.30" font-size="3.8" text-anchor="start" font-weight="normal" fill="#1e1e1e" stroke="#1e1e1e" stroke-width="0.22" textLength="6.90" lengthAdjust="spacingAndGlyphs">****</text>
<line x1="303.70" y1="480.40" x2="300.00" y2="477.34" stroke="#000" stroke-width="1.2"/>
<path d="M297.90 475.60 L300.94 476.21 L299.07 478.47 Z" fill="#000"/>
<text x="314.60" y="473.50" font-size="4.6" text-anchor="start" font-weight="normal" fill="#1e1e1e" stroke="#1e1e1e" stroke-width="0.22" textLength="13.30" lengthAdjust="spacingAndGlyphs">V<tspan font-size="3.22" dy="1.38">β</tspan><tspan dy="-1.38">13.1</tspan></text>
<text x="322.10" y="470.10" font-size="3.8" text-anchor="start" font-weight="normal" fill="#1e1e1e" stroke="#1e1e1e" stroke-width="0.22" textLength="6.90" lengthAdjust="spacingAndGlyphs">****</text>
<line x1="330.20" y1="471.00" x2="337.15" y2="467.60" stroke="#000" stroke-width="1.2"/>
<path d="M339.60 466.40 L337.79 468.92 L336.50 466.28 Z" fill="#000"/>
<text x="323.30" y="483.50" font-size="4.6" text-anchor="start" font-weight="normal" fill="#1e1e1e" stroke="#1e1e1e" stroke-width="0.22" textLength="12.60" lengthAdjust="spacingAndGlyphs">V<tspan font-size="3.22" dy="1.38">β</tspan><tspan dy="-1.38">13.2</tspan></text>
<text x="330.20" y="480.40" font-size="3.8" text-anchor="start" font-weight="normal" fill="#1e1e1e" stroke="#1e1e1e" stroke-width="0.22" textLength="6.90" lengthAdjust="spacingAndGlyphs">****</text>
<line x1="337.70" y1="481.60" x2="343.08" y2="478.24" stroke="#000" stroke-width="1.2"/>
<path d="M345.40 476.80 L343.86 479.49 L342.31 477.00 Z" fill="#000"/>
<text x="352.50" y="484.40" font-size="4.6" text-anchor="start" font-weight="normal" fill="#1e1e1e" stroke="#1e1e1e" stroke-width="0.22" textLength="13.30" lengthAdjust="spacingAndGlyphs">V<tspan font-size="3.22" dy="1.38">β</tspan><tspan dy="-1.38">13.3</tspan></text>
<text x="366.10" y="484.80" font-size="3.8" text-anchor="start" font-weight="normal" fill="#1e1e1e" stroke="#1e1e1e" stroke-width="0.22" textLength="6.20" lengthAdjust="spacingAndGlyphs">****</text>
<line x1="355.50" y1="480.60" x2="354.42" y2="477.20" stroke="#000" stroke-width="1.2"/>
<path d="M353.60 474.60 L355.83 476.76 L353.02 477.65 Z" fill="#000"/>
<text x="388.90" y="484.40" font-size="4.6" text-anchor="start" font-weight="normal" fill="#1e1e1e" stroke="#1e1e1e" stroke-width="0.22" textLength="13.30" lengthAdjust="spacingAndGlyphs">V<tspan font-size="3.22" dy="1.38">β</tspan><tspan dy="-1.38">16.1</tspan></text>
<text x="402.50" y="484.80" font-size="3.8" text-anchor="start" font-weight="normal" fill="#1e1e1e" stroke="#1e1e1e" stroke-width="0.22" textLength="6.20" lengthAdjust="spacingAndGlyphs">****</text>
<line x1="388.00" y1="482.20" x2="381.43" y2="478.84" stroke="#000" stroke-width="1.2"/>
<path d="M379.00 477.60 L382.10 477.53 L380.76 480.15 Z" fill="#000"/>
<text x="480.40" y="99.70" font-size="4.2" text-anchor="start" font-weight="normal" fill="#333" stroke="#333" stroke-width="0.22" textLength="9.20" lengthAdjust="spacingAndGlyphs">J<tspan font-size="2.9" dy="0.9">β</tspan><tspan dy="-0.9">2-7</tspan></text>
<text x="489.90" y="100.90" font-size="3.2" text-anchor="start" font-weight="normal" fill="#333" stroke="#333" stroke-width="0.22" textLength="6.00" lengthAdjust="spacingAndGlyphs">****</text>
<line x1="491.30" y1="95.40" x2="496.29" y2="92.26" stroke="#000" stroke-width="1.2"/>
<path d="M498.60 90.80 L497.07 93.50 L495.51 91.01 Z" fill="#000"/>
<text x="225.00" y="232.00" font-size="4.2" text-anchor="start" font-weight="normal" fill="#333" stroke="#333" stroke-width="0.22" textLength="9.50" lengthAdjust="spacingAndGlyphs">J<tspan font-size="2.9" dy="0.9">β</tspan><tspan dy="-0.9">2-7</tspan></text>
<text x="234.80" y="233.20" font-size="3.2" text-anchor="start" font-weight="normal" fill="#333" stroke="#333" stroke-width="0.22" textLength="6.00" lengthAdjust="spacingAndGlyphs">****</text>
<line x1="234.00" y1="225.40" x2="240.64" y2="221.57" stroke="#000" stroke-width="1.2"/>
<path d="M243.00 220.20 L241.37 222.84 L239.90 220.29 Z" fill="#000"/>
<text x="478.30" y="222.50" font-size="4.2" text-anchor="start" font-weight="normal" fill="#333" stroke="#333" stroke-width="0.22" textLength="9.70" lengthAdjust="spacingAndGlyphs">J<tspan font-size="2.9" dy="0.9">β</tspan><tspan dy="-0.9">2-7</tspan></text>
<text x="488.30" y="223.70" font-size="3.2" text-anchor="start" font-weight="normal" fill="#333" stroke="#333" stroke-width="0.22" textLength="6.00" lengthAdjust="spacingAndGlyphs">****</text>
<line x1="491.00" y1="217.30" x2="496.22" y2="214.34" stroke="#000" stroke-width="1.2"/>
<path d="M498.60 213.00 L496.95 215.62 L495.50 213.06 Z" fill="#000"/>
<text x="224.40" y="353.50" font-size="4.2" text-anchor="start" font-weight="normal" fill="#333" stroke="#333" stroke-width="0.22" textLength="8.10" lengthAdjust="spacingAndGlyphs">J<tspan font-size="2.9" dy="0.9">β</tspan><tspan dy="-0.9">2-7</tspan></text>
<text x="232.80" y="354.70" font-size="3.2" text-anchor="start" font-weight="normal" fill="#333" stroke="#333" stroke-width="0.22" textLength="6.00" lengthAdjust="spacingAndGlyphs">****</text>
<line x1="234.20" y1="348.60" x2="240.46" y2="344.81" stroke="#000" stroke-width="1.2"/>
<path d="M242.80 343.40 L241.22 346.07 L239.70 343.55 Z" fill="#000"/>
<text x="483.30" y="352.50" font-size="4.2" text-anchor="start" font-weight="normal" fill="#333" stroke="#333" stroke-width="0.22" textLength="9.80" lengthAdjust="spacingAndGlyphs">J<tspan font-size="2.9" dy="0.9">β</tspan><tspan dy="-0.9">2-7</tspan></text>
<text x="493.40" y="353.70" font-size="3.2" text-anchor="start" font-weight="normal" fill="#333" stroke="#333" stroke-width="0.22" textLength="6.00" lengthAdjust="spacingAndGlyphs">****</text>
<line x1="493.60" y1="348.30" x2="500.34" y2="343.73" stroke="#000" stroke-width="1.2"/>
<path d="M502.60 342.20 L501.16 344.95 L499.52 342.51 Z" fill="#000"/>
<text x="222.10" y="481.00" font-size="4.2" text-anchor="start" font-weight="normal" fill="#333" stroke="#333" stroke-width="0.22" textLength="8.70" lengthAdjust="spacingAndGlyphs">J<tspan font-size="2.9" dy="0.9">β</tspan><tspan dy="-0.9">2-7</tspan></text>
<text x="231.10" y="482.20" font-size="3.2" text-anchor="start" font-weight="normal" fill="#333" stroke="#333" stroke-width="0.22" textLength="6.00" lengthAdjust="spacingAndGlyphs">****</text>
<line x1="233.60" y1="475.60" x2="239.49" y2="471.86" stroke="#000" stroke-width="1.2"/>
<path d="M241.80 470.40 L240.28 473.10 L238.71 470.62 Z" fill="#000"/>
<text x="481.50" y="472.50" font-size="4.2" text-anchor="start" font-weight="normal" fill="#333" stroke="#333" stroke-width="0.22" textLength="9.80" lengthAdjust="spacingAndGlyphs">J<tspan font-size="2.9" dy="0.9">β</tspan><tspan dy="-0.9">2-7</tspan></text>
<text x="491.60" y="473.70" font-size="3.2" text-anchor="start" font-weight="normal" fill="#333" stroke="#333" stroke-width="0.22" textLength="6.00" lengthAdjust="spacingAndGlyphs">****</text>
<line x1="492.50" y1="468.60" x2="499.25" y2="464.59" stroke="#000" stroke-width="1.2"/>
<path d="M501.60 463.20 L500.00 465.86 L498.50 463.33 Z" fill="#000"/>
<circle cx="451.70" cy="50.30" r="0.6" fill="#777"/>
<circle cx="455.00" cy="52.80" r="0.6" fill="#777"/>
<circle cx="458.80" cy="53.70" r="0.6" fill="#777"/>
<circle cx="462.60" cy="51.60" r="0.6" fill="#777"/>
<circle cx="466.40" cy="55.00" r="0.6" fill="#777"/>
<circle cx="477.50" cy="50.60" r="0.6" fill="#777"/>
<circle cx="485.00" cy="51.20" r="0.6" fill="#777"/>
</svg>
</body></html>
